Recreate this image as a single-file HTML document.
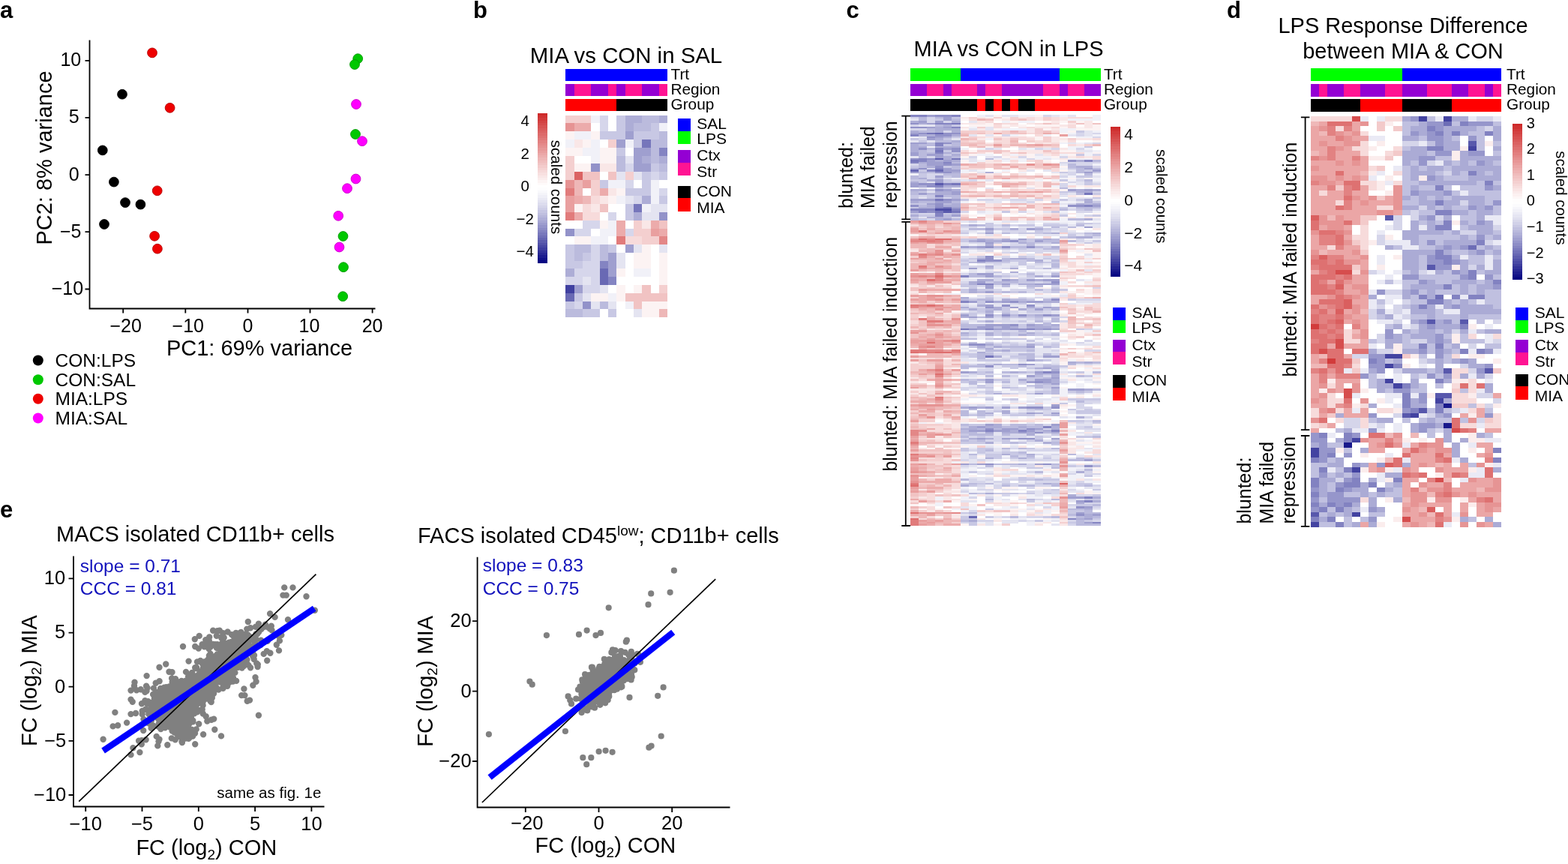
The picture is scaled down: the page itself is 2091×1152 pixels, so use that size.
<!DOCTYPE html>
<html><head><meta charset="utf-8"><title>Figure</title>
<style>
html,body{margin:0;padding:0;background:#fff;}
body{width:2091px;height:1152px;overflow:hidden;}
svg{display:block;font-family:"Liberation Sans",Arial,sans-serif;}
</style></head><body>
<svg width="2091" height="1152" viewBox="0 0 2091 1152">
<rect width="2091" height="1152" fill="#fff"/>
<g stroke="#000" stroke-width="1.8" fill="none">
<path d="M119.5 53.5V411.5H500.5"/>
<path d="M113.5 80.8H119.5M113.5 156.9H119.5M113.5 233.1H119.5M113.5 309.2H119.5M113.5 385.5H119.5M164.2 411.5V417.5M247.3 411.5V417.5M330.5 411.5V417.5M413.5 411.5V417.5M496.6 411.5V417.5"/>
</g>
<text x="108.2" y="88.2" font-size="25" text-anchor="end">10</text>
<text x="105.7" y="164.3" font-size="25" text-anchor="end">5</text>
<text x="105.7" y="240.5" font-size="25" text-anchor="end">0</text>
<text x="108.5" y="316.6" font-size="25" text-anchor="end">−5</text>
<text x="111.2" y="392.9" font-size="25" text-anchor="end">−10</text>
<text x="167.7" y="443" font-size="25" text-anchor="middle">−20</text>
<text x="250.8" y="443" font-size="25" text-anchor="middle">−10</text>
<text x="330.5" y="443" font-size="25" text-anchor="middle">0</text>
<text x="412.5" y="443" font-size="25" text-anchor="middle">10</text>
<text x="496.6" y="443" font-size="25" text-anchor="middle">20</text>
<text x="346" y="473.8" font-size="29" text-anchor="middle">PC1: 69% variance</text>
<text transform="translate(68.8 210.5) rotate(-90)" font-size="29" text-anchor="middle">PC2: 8% variance</text>
<circle cx="477.2" cy="78.2" r="6.4" fill="#00c800" stroke="#009600" stroke-width="0.9"/>
<circle cx="473" cy="86" r="6.4" fill="#00c800" stroke="#009600" stroke-width="0.9"/>
<circle cx="474" cy="179" r="6.4" fill="#00c800" stroke="#009600" stroke-width="0.9"/>
<circle cx="457.5" cy="315" r="6.4" fill="#00c800" stroke="#009600" stroke-width="0.9"/>
<circle cx="458" cy="356.2" r="6.4" fill="#00c800" stroke="#009600" stroke-width="0.9"/>
<circle cx="457.2" cy="395.2" r="6.4" fill="#00c800" stroke="#009600" stroke-width="0.9"/>
<circle cx="475" cy="139" r="6.4" fill="#ff00ff" stroke="#c800c8" stroke-width="0.9"/>
<circle cx="483" cy="188.2" r="6.4" fill="#ff00ff" stroke="#c800c8" stroke-width="0.9"/>
<circle cx="474.5" cy="238.5" r="6.4" fill="#ff00ff" stroke="#c800c8" stroke-width="0.9"/>
<circle cx="463" cy="251.2" r="6.4" fill="#ff00ff" stroke="#c800c8" stroke-width="0.9"/>
<circle cx="451.2" cy="287.8" r="6.4" fill="#ff00ff" stroke="#c800c8" stroke-width="0.9"/>
<circle cx="452.5" cy="329.5" r="6.4" fill="#ff00ff" stroke="#c800c8" stroke-width="0.9"/>
<circle cx="163" cy="125.7" r="6.4" fill="#000000" stroke="#000000" stroke-width="0.9"/>
<circle cx="136.8" cy="200.4" r="6.4" fill="#000000" stroke="#000000" stroke-width="0.9"/>
<circle cx="151.9" cy="242.6" r="6.4" fill="#000000" stroke="#000000" stroke-width="0.9"/>
<circle cx="167" cy="270.1" r="6.4" fill="#000000" stroke="#000000" stroke-width="0.9"/>
<circle cx="187.4" cy="272.6" r="6.4" fill="#000000" stroke="#000000" stroke-width="0.9"/>
<circle cx="139" cy="299" r="6.4" fill="#000000" stroke="#000000" stroke-width="0.9"/>
<circle cx="203" cy="70.4" r="6.4" fill="#ee0000" stroke="#b40000" stroke-width="0.9"/>
<circle cx="226.6" cy="143.8" r="6.4" fill="#ee0000" stroke="#b40000" stroke-width="0.9"/>
<circle cx="209.7" cy="254.3" r="6.4" fill="#ee0000" stroke="#b40000" stroke-width="0.9"/>
<circle cx="206.1" cy="314.8" r="6.4" fill="#ee0000" stroke="#b40000" stroke-width="0.9"/>
<circle cx="209.9" cy="331.7" r="6.4" fill="#ee0000" stroke="#b40000" stroke-width="0.9"/>
<circle cx="50.8" cy="480.5" r="7" fill="#000000"/>
<text x="73.5" y="489" font-size="24.5">CON:LPS</text>
<circle cx="50.8" cy="506.2" r="7" fill="#00c800"/>
<text x="73.5" y="514.7" font-size="24.5">CON:SAL</text>
<circle cx="50.8" cy="531.8" r="7" fill="#ee0000"/>
<text x="73.5" y="540.3" font-size="24.5">MIA:LPS</text>
<circle cx="50.8" cy="557.5" r="7" fill="#ff00ff"/>
<text x="73.5" y="566" font-size="24.5">MIA:SAL</text>
<text x="835" y="84" font-size="29.4" text-anchor="middle">MIA vs CON in SAL</text>
<rect x="754.40" y="91.8" width="136.00" height="16" fill="#0000ff" shape-rendering="crispEdges"/>
<rect x="754.40" y="111.8" width="11.33" height="16" fill="#9400d3" shape-rendering="crispEdges"/>
<rect x="765.73" y="111.8" width="22.67" height="16" fill="#ff1493" shape-rendering="crispEdges"/>
<rect x="788.40" y="111.8" width="22.67" height="16" fill="#9400d3" shape-rendering="crispEdges"/>
<rect x="811.07" y="111.8" width="11.33" height="16" fill="#ff1493" shape-rendering="crispEdges"/>
<rect x="822.40" y="111.8" width="11.33" height="16" fill="#9400d3" shape-rendering="crispEdges"/>
<rect x="833.73" y="111.8" width="22.67" height="16" fill="#ff1493" shape-rendering="crispEdges"/>
<rect x="856.40" y="111.8" width="22.67" height="16" fill="#9400d3" shape-rendering="crispEdges"/>
<rect x="879.07" y="111.8" width="11.33" height="16" fill="#ff1493" shape-rendering="crispEdges"/>
<rect x="754.40" y="131.8" width="68.00" height="16" fill="#ff0000" shape-rendering="crispEdges"/>
<rect x="822.40" y="131.8" width="68.00" height="16" fill="#000000" shape-rendering="crispEdges"/>
<text x="894.5" y="106" font-size="20.8">Trt</text>
<text x="894.5" y="126" font-size="20.8">Region</text>
<text x="894.5" y="145.5" font-size="20.8">Group</text>
<g fill="none" shape-rendering="crispEdges">
<path stroke="#f4cfcf" stroke-width="10" d="M754 159h12M766 159h11M777 159h11M754 213h12M788 256h12M845 310h11M856 310h12"/>
<path stroke="#f1f1f8" stroke-width="10" d="M788 159h12M788 213h12M868 256h11M800 310h11M811 310h11M834 407h11"/>
<path stroke="#d6d6eb" stroke-width="10" d="M800 159h11M879 256h11M766 310h11M777 310h11M834 310h11M777 353h11M788 353h12M766 407h11"/>
<path stroke="#ffffff" stroke-width="10" d="M811 159h11M766 213h11M777 213h11M777 256h11M788 310h12M834 353h11M868 353h11M822 407h12"/>
<path stroke="#c8c8e4" stroke-width="10" d="M822 159h12M834 256h11M845 256h11M856 256h12M754 353h12M766 353h11M754 407h12"/>
<path stroke="#adadd6" stroke-width="10" d="M834 159h11M845 159h11M879 159h11M856 213h12M879 213h11"/>
<path stroke="#bbbbdd" stroke-width="10" d="M856 159h12M868 159h11M822 213h12M868 213h11M800 407h11"/>
<path stroke="#e69393" stroke-width="11" d="M754 169.5h12M754 245.5h12"/>
<path stroke="#ecabab" stroke-width="11" d="M766 169.5h11M777 169.5h11M766 266.5h11M766 288.5h11M822 299.5h12M868 299.5h11"/>
<path stroke="#ffffff" stroke-width="11" d="M788 169.5h12M811 169.5h11M800 191.5h11M834 202.5h11M800 234.5h11M845 245.5h11M879 245.5h11M811 277.5h11M822 277.5h12M800 288.5h11M822 288.5h12M754 299.5h12M766 299.5h11M834 299.5h11M754 320.5h12M811 320.5h11M822 331.5h12M868 331.5h11M834 342.5h11M868 342.5h11M834 363.5h11M868 363.5h11M822 374.5h12M834 374.5h11M845 374.5h11M856 374.5h12M868 374.5h11M811 385.5h11M834 385.5h11M868 385.5h11M800 417.5h11M822 417.5h12M834 417.5h11"/>
<path stroke="#d6d6eb" stroke-width="11" d="M800 169.5h11M834 223.5h11M868 234.5h11M834 245.5h11M845 266.5h11M811 288.5h11M777 299.5h11M788 299.5h12M788 331.5h12M788 342.5h12M766 363.5h11M777 363.5h11M788 363.5h12M754 374.5h12M766 374.5h11M788 374.5h12M777 385.5h11M788 385.5h12"/>
<path stroke="#c8c8e4" stroke-width="11" d="M822 169.5h12M868 169.5h11M800 180.5h11M811 180.5h11M822 180.5h12M845 180.5h11M856 180.5h12M868 180.5h11M845 191.5h11M822 202.5h12M868 223.5h11M856 234.5h12M879 234.5h11M800 245.5h11M856 245.5h12M879 266.5h11M834 277.5h11M834 288.5h11M754 331.5h12M811 331.5h11M754 342.5h12M777 342.5h11M766 396.5h11M777 417.5h11M788 417.5h12M811 417.5h11"/>
<path stroke="#adadd6" stroke-width="11" d="M834 169.5h11M856 266.5h12M845 288.5h11M754 363.5h12"/>
<path stroke="#bbbbdd" stroke-width="11" d="M845 169.5h11M856 169.5h12M879 180.5h11M868 191.5h11M879 191.5h11M868 202.5h11M822 223.5h12M879 223.5h11M766 331.5h11M777 331.5h11M800 331.5h11M766 342.5h11M800 342.5h11M754 417.5h12M766 417.5h11"/>
<path stroke="#f1f1f8" stroke-width="11" d="M879 169.5h11M766 180.5h11M777 180.5h11M754 191.5h12M788 191.5h12M834 191.5h11M777 202.5h11M788 202.5h12M811 245.5h11M822 245.5h12M868 245.5h11M822 266.5h12M868 266.5h11M856 277.5h12M811 299.5h11M788 320.5h12M800 320.5h11M845 363.5h11M856 363.5h12M811 396.5h11"/>
<path stroke="#fcf3f3" stroke-width="11" d="M754 180.5h12M788 180.5h12M777 191.5h11M754 202.5h12M766 202.5h11M800 202.5h11M811 202.5h11M766 223.5h11M777 223.5h11M811 266.5h11M766 277.5h11M800 299.5h11M766 320.5h11M777 320.5h11M856 331.5h12M845 342.5h11M856 342.5h12M879 342.5h11M822 363.5h12M879 363.5h11M879 374.5h11M822 385.5h12M845 385.5h11M788 396.5h12M800 396.5h11M822 396.5h12M856 417.5h12M868 417.5h11"/>
<path stroke="#9f9fcf" stroke-width="11" d="M834 180.5h11M822 191.5h12M845 202.5h11M856 202.5h12M845 223.5h11M856 223.5h12M834 331.5h11M811 342.5h11M811 363.5h11M766 385.5h11"/>
<path stroke="#f9e7e7" stroke-width="11" d="M766 191.5h11M800 223.5h11M811 223.5h11M800 266.5h11M788 277.5h12M856 299.5h12"/>
<path stroke="#f4cfcf" stroke-width="11" d="M811 191.5h11M754 223.5h12M754 234.5h12M834 234.5h11M788 245.5h12M845 299.5h11M856 320.5h12M868 320.5h11M879 385.5h11"/>
<path stroke="#7676bb" stroke-width="11" d="M856 191.5h12M845 277.5h11"/>
<path stroke="#8484c2" stroke-width="11" d="M879 202.5h11M811 374.5h11"/>
<path stroke="#fcf3f3" stroke-width="10" d="M800 213h11M811 213h11M822 256h12M845 353h11M856 353h12M879 353h11M856 407h12M868 407h11M879 407h11"/>
<path stroke="#e4e4f1" stroke-width="10" d="M834 213h11M822 353h12M788 407h12M811 407h11"/>
<path stroke="#9f9fcf" stroke-width="10" d="M845 213h11M811 353h11"/>
<path stroke="#9292c9" stroke-width="11" d="M788 223.5h12M879 288.5h11"/>
<path stroke="#db6363" stroke-width="11" d="M766 234.5h11"/>
<path stroke="#f1c3c3" stroke-width="11" d="M777 234.5h11M788 234.5h12M811 234.5h11M800 277.5h11M879 299.5h11M856 385.5h12M834 396.5h11M845 396.5h11M856 396.5h12M868 396.5h11M879 396.5h11"/>
<path stroke="#e4e4f1" stroke-width="11" d="M822 234.5h12M845 234.5h11M834 266.5h11M868 277.5h11M879 277.5h11M856 288.5h12M868 288.5h11M845 331.5h11M879 331.5h11M822 342.5h12M777 374.5h11M800 385.5h11M777 396.5h11M845 417.5h11"/>
<path stroke="#eeb7b7" stroke-width="11" d="M766 245.5h11M777 266.5h11M879 417.5h11"/>
<path stroke="#e99f9f" stroke-width="11" d="M777 245.5h11M754 266.5h12M754 277.5h12"/>
<path stroke="#e17b7b" stroke-width="10" d="M754 256h12"/>
<path stroke="#eeb7b7" stroke-width="10" d="M766 256h11"/>
<path stroke="#ecabab" stroke-width="10" d="M800 256h11M822 310h12M879 310h11"/>
<path stroke="#f9e7e7" stroke-width="10" d="M811 256h11"/>
<path stroke="#f7dbdb" stroke-width="11" d="M788 266.5h12M777 277.5h11M777 288.5h11M788 288.5h12M834 320.5h11M845 320.5h11"/>
<path stroke="#e17b7b" stroke-width="11" d="M754 288.5h12M822 320.5h12"/>
<path stroke="#9292c9" stroke-width="10" d="M754 310h12M777 407h11"/>
<path stroke="#e99f9f" stroke-width="10" d="M868 310h11"/>
<path stroke="#e38787" stroke-width="11" d="M879 320.5h11"/>
<path stroke="#8484c2" stroke-width="10" d="M800 353h11"/>
<path stroke="#6969b4" stroke-width="11" d="M800 363.5h11M800 374.5h11M754 396.5h12"/>
<path stroke="#4040a0" stroke-width="11" d="M754 385.5h12"/>
<path stroke="#f1c3c3" stroke-width="10" d="M845 407h11"/>
</g>
<g shape-rendering="crispEdges">
<rect x="717.1" y="150.60" width="12.8" height="3.63" fill="#ce2a2a"/>
<rect x="717.1" y="153.93" width="12.8" height="3.63" fill="#d03232"/>
<rect x="717.1" y="157.25" width="12.8" height="3.63" fill="#d23a3a"/>
<rect x="717.1" y="160.58" width="12.8" height="3.63" fill="#d34242"/>
<rect x="717.1" y="163.91" width="12.8" height="3.63" fill="#d54a4a"/>
<rect x="717.1" y="167.23" width="12.8" height="3.63" fill="#d75252"/>
<rect x="717.1" y="170.56" width="12.8" height="3.63" fill="#d95a5a"/>
<rect x="717.1" y="173.89" width="12.8" height="3.63" fill="#db6262"/>
<rect x="717.1" y="177.21" width="12.8" height="3.63" fill="#dd6a6a"/>
<rect x="717.1" y="180.54" width="12.8" height="3.63" fill="#de7171"/>
<rect x="717.1" y="183.87" width="12.8" height="3.63" fill="#e07979"/>
<rect x="717.1" y="187.19" width="12.8" height="3.63" fill="#e28181"/>
<rect x="717.1" y="190.52" width="12.8" height="3.63" fill="#e48989"/>
<rect x="717.1" y="193.85" width="12.8" height="3.63" fill="#e59090"/>
<rect x="717.1" y="197.17" width="12.8" height="3.63" fill="#e79898"/>
<rect x="717.1" y="200.50" width="12.8" height="3.63" fill="#e99f9f"/>
<rect x="717.1" y="203.83" width="12.8" height="3.63" fill="#eba7a7"/>
<rect x="717.1" y="207.15" width="12.8" height="3.63" fill="#ecaeae"/>
<rect x="717.1" y="210.48" width="12.8" height="3.63" fill="#eeb6b6"/>
<rect x="717.1" y="213.81" width="12.8" height="3.63" fill="#f0bdbd"/>
<rect x="717.1" y="217.13" width="12.8" height="3.63" fill="#f1c4c4"/>
<rect x="717.1" y="220.46" width="12.8" height="3.63" fill="#f3cbcb"/>
<rect x="717.1" y="223.79" width="12.8" height="3.63" fill="#f5d2d2"/>
<rect x="717.1" y="227.11" width="12.8" height="3.63" fill="#f6d9d9"/>
<rect x="717.1" y="230.44" width="12.8" height="3.63" fill="#f8e0e0"/>
<rect x="717.1" y="233.77" width="12.8" height="3.63" fill="#f9e7e7"/>
<rect x="717.1" y="237.09" width="12.8" height="3.63" fill="#fbeded"/>
<rect x="717.1" y="240.42" width="12.8" height="3.63" fill="#fcf4f4"/>
<rect x="717.1" y="243.75" width="12.8" height="3.63" fill="#fefafa"/>
<rect x="717.1" y="247.07" width="12.8" height="3.63" fill="#ffffff"/>
<rect x="717.1" y="250.40" width="12.8" height="3.63" fill="#fdfdfe"/>
<rect x="717.1" y="253.73" width="12.8" height="3.63" fill="#f9f9fc"/>
<rect x="717.1" y="257.05" width="12.8" height="3.63" fill="#f4f4f9"/>
<rect x="717.1" y="260.38" width="12.8" height="3.63" fill="#efeff7"/>
<rect x="717.1" y="263.71" width="12.8" height="3.63" fill="#e9e9f4"/>
<rect x="717.1" y="267.03" width="12.8" height="3.63" fill="#e3e3f1"/>
<rect x="717.1" y="270.36" width="12.8" height="3.63" fill="#dcdcee"/>
<rect x="717.1" y="273.69" width="12.8" height="3.63" fill="#d5d5ea"/>
<rect x="717.1" y="277.01" width="12.8" height="3.63" fill="#cecee7"/>
<rect x="717.1" y="280.34" width="12.8" height="3.63" fill="#c6c6e3"/>
<rect x="717.1" y="283.67" width="12.8" height="3.63" fill="#bfbfdf"/>
<rect x="717.1" y="286.99" width="12.8" height="3.63" fill="#b7b7db"/>
<rect x="717.1" y="290.32" width="12.8" height="3.63" fill="#aeaed7"/>
<rect x="717.1" y="293.65" width="12.8" height="3.63" fill="#a6a6d3"/>
<rect x="717.1" y="296.97" width="12.8" height="3.63" fill="#9d9dce"/>
<rect x="717.1" y="300.30" width="12.8" height="3.63" fill="#9494ca"/>
<rect x="717.1" y="303.63" width="12.8" height="3.63" fill="#8b8bc5"/>
<rect x="717.1" y="306.95" width="12.8" height="3.63" fill="#8282c1"/>
<rect x="717.1" y="310.28" width="12.8" height="3.63" fill="#7878bc"/>
<rect x="717.1" y="313.61" width="12.8" height="3.63" fill="#6f6fb7"/>
<rect x="717.1" y="316.93" width="12.8" height="3.63" fill="#6565b2"/>
<rect x="717.1" y="320.26" width="12.8" height="3.63" fill="#5b5bad"/>
<rect x="717.1" y="323.59" width="12.8" height="3.63" fill="#5151a8"/>
<rect x="717.1" y="326.91" width="12.8" height="3.63" fill="#4747a3"/>
<rect x="717.1" y="330.24" width="12.8" height="3.63" fill="#3c3c9e"/>
<rect x="717.1" y="333.57" width="12.8" height="3.63" fill="#313199"/>
<rect x="717.1" y="336.89" width="12.8" height="3.63" fill="#272793"/>
<rect x="717.1" y="340.22" width="12.8" height="3.63" fill="#1c1c8e"/>
<rect x="717.1" y="343.55" width="12.8" height="3.63" fill="#111188"/>
<rect x="717.1" y="346.87" width="12.8" height="3.63" fill="#060683"/>
</g>
<text x="700.3" y="168" font-size="20.5" text-anchor="middle">4</text>
<text x="700.3" y="211.9" font-size="20.5" text-anchor="middle">2</text>
<text x="700.3" y="255.3" font-size="20.5" text-anchor="middle">0</text>
<text x="700.3" y="299" font-size="20.5" text-anchor="middle">−2</text>
<text x="700.3" y="342.4" font-size="20.5" text-anchor="middle">−4</text>
<text transform="translate(735 249.5) rotate(90)" font-size="20.5" text-anchor="middle">scaled counts</text>
<rect x="903.6" y="158" width="17" height="17" fill="#0000ff" shape-rendering="crispEdges"/>
<rect x="903.6" y="175" width="17" height="17" fill="#00ff00" shape-rendering="crispEdges"/>
<rect x="903.6" y="200.4" width="17" height="16.6" fill="#9400d3" shape-rendering="crispEdges"/>
<rect x="903.6" y="217" width="17" height="17.4" fill="#ff1493" shape-rendering="crispEdges"/>
<rect x="903.6" y="247.8" width="17" height="16.6" fill="#000000" shape-rendering="crispEdges"/>
<rect x="903.6" y="264.4" width="17" height="17.1" fill="#ff0000" shape-rendering="crispEdges"/>
<text x="929.3" y="171.9" font-size="21">SAL</text>
<text x="929.3" y="191.6" font-size="21">LPS</text>
<text x="929.3" y="214.3" font-size="21">Ctx</text>
<text x="929.3" y="236.2" font-size="21">Str</text>
<text x="929.3" y="261.7" font-size="21">CON</text>
<text x="929.3" y="283.5" font-size="21">MIA</text>
<text x="1345" y="75" font-size="29" text-anchor="middle">MIA vs CON in LPS</text>
<rect x="1214.40" y="91.3" width="66.10" height="16.5" fill="#00ff00" shape-rendering="crispEdges"/>
<rect x="1280.50" y="91.3" width="132.21" height="16.5" fill="#0000ff" shape-rendering="crispEdges"/>
<rect x="1412.71" y="91.3" width="55.09" height="16.5" fill="#00ff00" shape-rendering="crispEdges"/>
<rect x="1214.40" y="111.6" width="22.03" height="16.5" fill="#9400d3" shape-rendering="crispEdges"/>
<rect x="1236.43" y="111.6" width="22.03" height="16.5" fill="#ff1493" shape-rendering="crispEdges"/>
<rect x="1258.47" y="111.6" width="11.02" height="16.5" fill="#9400d3" shape-rendering="crispEdges"/>
<rect x="1269.49" y="111.6" width="33.05" height="16.5" fill="#ff1493" shape-rendering="crispEdges"/>
<rect x="1302.54" y="111.6" width="11.02" height="16.5" fill="#9400d3" shape-rendering="crispEdges"/>
<rect x="1313.56" y="111.6" width="22.03" height="16.5" fill="#ff1493" shape-rendering="crispEdges"/>
<rect x="1335.59" y="111.6" width="55.09" height="16.5" fill="#9400d3" shape-rendering="crispEdges"/>
<rect x="1390.68" y="111.6" width="22.03" height="16.5" fill="#ff1493" shape-rendering="crispEdges"/>
<rect x="1412.71" y="111.6" width="11.02" height="16.5" fill="#9400d3" shape-rendering="crispEdges"/>
<rect x="1423.73" y="111.6" width="22.03" height="16.5" fill="#ff1493" shape-rendering="crispEdges"/>
<rect x="1445.77" y="111.6" width="22.03" height="16.5" fill="#9400d3" shape-rendering="crispEdges"/>
<rect x="1214.40" y="131.9" width="88.14" height="16.5" fill="#000000" shape-rendering="crispEdges"/>
<rect x="1302.54" y="131.9" width="11.02" height="16.5" fill="#ff0000" shape-rendering="crispEdges"/>
<rect x="1313.56" y="131.9" width="11.02" height="16.5" fill="#000000" shape-rendering="crispEdges"/>
<rect x="1324.57" y="131.9" width="11.02" height="16.5" fill="#ff0000" shape-rendering="crispEdges"/>
<rect x="1335.59" y="131.9" width="11.02" height="16.5" fill="#000000" shape-rendering="crispEdges"/>
<rect x="1346.61" y="131.9" width="11.02" height="16.5" fill="#ff0000" shape-rendering="crispEdges"/>
<rect x="1357.63" y="131.9" width="22.03" height="16.5" fill="#000000" shape-rendering="crispEdges"/>
<rect x="1379.66" y="131.9" width="88.14" height="16.5" fill="#ff0000" shape-rendering="crispEdges"/>
<text x="1471.9" y="106" font-size="20.8">Trt</text>
<text x="1471.9" y="126" font-size="20.8">Region</text>
<text x="1471.9" y="145.5" font-size="20.8">Group</text>
<g fill="none" shape-rendering="crispEdges">
<path stroke="#8484c2" stroke-width="3" d="M1214 154.5h11M1225 154.5h11M1269 154.5h12M1214 180.5h11M1247 193.5h11M1247 198.5h11M1225 214.5h11M1446 214.5h11M1236 227.5h11M1258 245.5h11M1247 248.5h11M1247 261.5h11M1446 274.5h11M1214 279.5h11M1225 279.5h11M1236 279.5h11M1269 279.5h12M1225 282.5h11M1247 287.5h11M1303 347.5h11M1281 368.5h11M1281 402.5h11M1391 496.5h11M1391 569.5h11M1314 574.5h11M1358 574.5h11M1402 574.5h11M1446 663.5h11M1446 668.5h11"/>
<path stroke="#9f9fcf" stroke-width="3" d="M1236 154.5h11M1258 159.5h11M1225 162.5h11M1247 162.5h11M1236 185.5h11M1258 198.5h11M1214 206.5h11M1236 206.5h11M1247 206.5h11M1247 209.5h11M1236 214.5h11M1258 214.5h11M1236 219.5h11M1247 219.5h11M1269 219.5h12M1258 227.5h11M1269 227.5h12M1457 227.5h11M1247 235.5h11M1247 240.5h11M1214 245.5h11M1214 248.5h11M1258 253.5h11M1424 253.5h11M1446 253.5h11M1225 258.5h11M1269 258.5h12M1214 266.5h11M1225 266.5h11M1236 266.5h11M1269 266.5h12M1247 269.5h11M1258 269.5h11M1457 274.5h11M1214 282.5h11M1269 287.5h12M1258 292.5h11M1314 305.5h11M1369 305.5h11M1303 321.5h11M1336 321.5h11M1380 321.5h11M1281 329.5h11M1303 329.5h11M1303 365.5h11M1314 365.5h11M1314 368.5h11M1402 368.5h11M1336 373.5h11M1369 373.5h11M1391 373.5h11M1402 373.5h11M1303 376.5h11M1314 381.5h11M1314 389.5h11M1292 402.5h11M1336 402.5h11M1369 402.5h11M1380 402.5h11M1314 407.5h11M1380 412.5h11M1281 420.5h11M1402 420.5h11M1314 433.5h11M1325 433.5h11M1336 433.5h11M1369 433.5h11M1303 436.5h11M1314 436.5h11M1336 436.5h11M1369 462.5h11M1391 475.5h11M1402 475.5h11M1369 480.5h11M1281 496.5h11M1380 496.5h11M1369 501.5h11M1314 506.5h11M1380 506.5h11M1391 506.5h11M1314 509.5h11M1369 509.5h11M1391 509.5h11M1424 519.5h11M1435 519.5h11M1402 540.5h11M1292 543.5h11M1314 543.5h11M1336 543.5h11M1358 543.5h11M1314 566.5h11M1402 566.5h11M1303 569.5h11M1292 574.5h11M1303 574.5h11M1325 574.5h11M1336 574.5h11M1369 574.5h11M1446 613.5h11M1424 663.5h11M1435 663.5h11M1435 668.5h11M1446 676.5h11M1457 686.5h11"/>
<path stroke="#9191c8" stroke-width="3" d="M1247 154.5h11M1258 154.5h11M1247 180.5h11M1258 180.5h11M1225 198.5h11M1269 198.5h12M1269 201.5h12M1424 214.5h11M1258 219.5h11M1247 222.5h11M1225 245.5h11M1236 245.5h11M1236 248.5h11M1247 253.5h11M1258 266.5h11M1214 274.5h11M1247 274.5h11M1424 274.5h11M1435 274.5h11M1236 282.5h11M1347 321.5h11M1314 329.5h11M1336 329.5h11M1369 329.5h11M1314 342.5h11M1314 347.5h11M1325 347.5h11M1402 376.5h11M1402 399.5h11M1314 402.5h11M1347 402.5h11M1336 407.5h11M1369 407.5h11M1314 420.5h11M1336 420.5h11M1358 420.5h11M1391 420.5h11M1347 433.5h11M1292 459.5h11M1303 459.5h11M1314 488.5h11M1402 496.5h11M1380 509.5h11M1369 543.5h11M1380 543.5h11M1402 543.5h11M1446 621.5h11M1435 676.5h11M1435 686.5h11"/>
<path stroke="#ffffff" stroke-width="3" d="M1281 154.5h11M1292 154.5h11M1435 154.5h11M1446 154.5h11M1281 162.5h11M1325 162.5h11M1380 162.5h11M1457 162.5h11M1281 167.5h11M1369 167.5h11M1435 167.5h11M1369 180.5h11M1402 180.5h11M1314 188.5h11M1358 188.5h11M1435 188.5h11M1446 188.5h11M1413 193.5h11M1292 198.5h11M1336 198.5h11M1347 198.5h11M1457 198.5h11M1325 206.5h11M1303 209.5h11M1402 214.5h11M1314 227.5h11M1325 227.5h11M1347 227.5h11M1380 227.5h11M1336 232.5h11M1369 232.5h11M1391 232.5h11M1325 240.5h11M1391 240.5h11M1314 248.5h11M1325 248.5h11M1303 253.5h11M1446 261.5h11M1292 269.5h11M1336 269.5h11M1391 269.5h11M1292 282.5h11M1424 282.5h11M1303 287.5h11M1336 287.5h11M1347 287.5h11M1369 287.5h11M1424 287.5h11M1446 295.5h11M1446 305.5h11M1435 308.5h11M1457 308.5h11M1292 313.5h11M1336 313.5h11M1347 313.5h11M1347 316.5h11M1358 316.5h11M1380 316.5h11M1402 316.5h11M1435 329.5h11M1325 334.5h11M1281 339.5h11M1314 339.5h11M1347 339.5h11M1424 339.5h11M1435 339.5h11M1424 342.5h11M1457 347.5h11M1292 352.5h11M1281 360.5h11M1336 360.5h11M1369 360.5h11M1402 360.5h11M1435 368.5h11M1446 368.5h11M1424 373.5h11M1435 376.5h11M1391 381.5h11M1424 386.5h11M1269 389.5h12M1281 394.5h11M1292 394.5h11M1347 394.5h11M1358 394.5h11M1369 394.5h11M1446 394.5h11M1380 399.5h11M1413 402.5h11M1424 402.5h11M1413 415.5h11M1446 420.5h11M1457 420.5h11M1281 425.5h11M1446 428.5h11M1457 436.5h11M1402 441.5h11M1413 446.5h11M1325 449.5h11M1369 449.5h11M1446 449.5h11M1281 454.5h11M1292 454.5h11M1303 454.5h11M1325 454.5h11M1424 454.5h11M1435 454.5h11M1457 454.5h11M1413 462.5h11M1424 462.5h11M1435 462.5h11M1424 467.5h11M1435 467.5h11M1336 483.5h11M1369 483.5h11M1391 483.5h11M1292 493.5h11M1325 493.5h11M1347 493.5h11M1424 493.5h11M1435 493.5h11M1325 496.5h11M1325 501.5h11M1358 501.5h11M1435 509.5h11M1358 514.5h11M1413 514.5h11M1424 514.5h11M1446 514.5h11M1457 514.5h11M1258 519.5h11M1325 519.5h11M1281 522.5h11M1325 527.5h11M1391 527.5h11M1424 527.5h11M1446 527.5h11M1292 532.5h11M1303 532.5h11M1325 532.5h11M1358 532.5h11M1281 535.5h11M1292 535.5h11M1303 535.5h11M1336 535.5h11M1391 540.5h11M1446 540.5h11M1457 540.5h11M1424 543.5h11M1457 543.5h11M1292 548.5h11M1424 553.5h11M1292 556.5h11M1336 556.5h11M1358 556.5h11M1391 556.5h11M1402 556.5h11M1457 556.5h11M1247 561.5h11M1424 569.5h11M1435 574.5h11M1424 582.5h11M1258 587.5h11M1225 595.5h11M1369 595.5h11M1402 595.5h11M1446 595.5h11M1435 603.5h11M1424 608.5h11M1336 613.5h11M1325 616.5h11M1424 616.5h11M1435 616.5h11M1446 616.5h11M1303 626.5h11M1358 626.5h11M1303 634.5h11M1325 639.5h11M1347 642.5h11M1292 650.5h11M1358 650.5h11M1402 650.5h11M1435 650.5h11M1325 655.5h11M1347 655.5h11M1358 655.5h11M1269 663.5h12M1303 663.5h11M1336 663.5h11M1347 663.5h11M1391 663.5h11M1303 668.5h11M1358 668.5h11M1225 673.5h11M1258 673.5h11M1269 673.5h12M1314 673.5h11M1358 673.5h11M1247 676.5h11M1303 676.5h11M1325 676.5h11M1358 676.5h11M1380 676.5h11M1269 681.5h12M1457 681.5h11M1314 686.5h11M1336 686.5h11M1358 686.5h11M1303 689.5h11M1347 699.5h11M1358 699.5h11M1391 699.5h11"/>
<path stroke="#f1f1f8" stroke-width="3" d="M1303 154.5h11M1358 154.5h11M1369 154.5h11M1413 154.5h11M1457 154.5h11M1424 159.5h11M1435 159.5h11M1446 159.5h11M1457 159.5h11M1336 162.5h11M1358 162.5h11M1369 162.5h11M1336 172.5h11M1347 172.5h11M1358 172.5h11M1413 172.5h11M1424 172.5h11M1413 175.5h11M1457 175.5h11M1347 180.5h11M1391 180.5h11M1457 180.5h11M1314 185.5h11M1281 198.5h11M1303 198.5h11M1369 198.5h11M1424 198.5h11M1446 198.5h11M1457 201.5h11M1303 206.5h11M1314 206.5h11M1347 206.5h11M1413 206.5h11M1446 206.5h11M1380 209.5h11M1391 209.5h11M1303 214.5h11M1336 214.5h11M1358 214.5h11M1457 219.5h11M1281 227.5h11M1303 227.5h11M1336 227.5h11M1214 232.5h11M1435 232.5h11M1457 232.5h11M1424 235.5h11M1303 240.5h11M1336 240.5h11M1380 240.5h11M1402 240.5h11M1424 240.5h11M1457 240.5h11M1424 245.5h11M1402 248.5h11M1292 266.5h11M1281 269.5h11M1413 269.5h11M1424 269.5h11M1413 274.5h11M1314 282.5h11M1325 282.5h11M1369 282.5h11M1413 282.5h11M1457 282.5h11M1435 287.5h11M1413 292.5h11M1303 295.5h11M1314 295.5h11M1325 295.5h11M1358 295.5h11M1380 295.5h11M1391 295.5h11M1402 295.5h11M1413 295.5h11M1424 295.5h11M1457 295.5h11M1380 300.5h11M1303 308.5h11M1325 308.5h11M1369 308.5h11M1446 308.5h11M1281 313.5h11M1358 313.5h11M1413 313.5h11M1292 326.5h11M1402 326.5h11M1292 334.5h11M1347 334.5h11M1435 334.5h11M1347 342.5h11M1446 342.5h11M1424 347.5h11M1446 347.5h11M1303 352.5h11M1446 352.5h11M1358 355.5h11M1391 355.5h11M1303 360.5h11M1358 360.5h11M1380 360.5h11M1391 360.5h11M1413 360.5h11M1391 365.5h11M1446 373.5h11M1413 376.5h11M1347 381.5h11M1336 386.5h11M1325 394.5h11M1380 394.5h11M1391 394.5h11M1402 407.5h11M1281 415.5h11M1303 420.5h11M1303 425.5h11M1391 425.5h11M1303 441.5h11M1446 441.5h11M1303 449.5h11M1347 449.5h11M1380 449.5h11M1314 454.5h11M1347 454.5h11M1358 454.5h11M1380 454.5h11M1391 454.5h11M1402 454.5h11M1281 462.5h11M1380 462.5h11M1281 467.5h11M1347 480.5h11M1424 480.5h11M1292 483.5h11M1303 483.5h11M1380 483.5h11M1281 493.5h11M1336 493.5h11M1358 493.5h11M1413 493.5h11M1457 493.5h11M1446 496.5h11M1303 501.5h11M1413 501.5h11M1457 501.5h11M1435 506.5h11M1424 509.5h11M1446 509.5h11M1281 514.5h11M1435 514.5h11M1303 519.5h11M1336 519.5h11M1369 519.5h11M1413 519.5h11M1292 522.5h11M1336 522.5h11M1347 522.5h11M1413 522.5h11M1457 522.5h11M1314 527.5h11M1369 527.5h11M1380 527.5h11M1413 527.5h11M1281 532.5h11M1369 532.5h11M1402 532.5h11M1314 535.5h11M1325 535.5h11M1358 535.5h11M1391 535.5h11M1402 535.5h11M1413 535.5h11M1347 540.5h11M1358 540.5h11M1347 548.5h11M1325 553.5h11M1435 553.5h11M1446 553.5h11M1281 556.5h11M1314 556.5h11M1347 556.5h11M1369 556.5h11M1424 556.5h11M1402 561.5h11M1424 566.5h11M1457 569.5h11M1424 579.5h11M1435 579.5h11M1402 582.5h11M1347 587.5h11M1446 587.5h11M1292 595.5h11M1325 595.5h11M1347 600.5h11M1435 600.5h11M1446 600.5h11M1292 603.5h11M1369 603.5h11M1380 603.5h11M1391 603.5h11M1402 603.5h11M1336 608.5h11M1380 608.5h11M1325 613.5h11M1269 616.5h12M1314 616.5h11M1358 616.5h11M1369 616.5h11M1391 616.5h11M1402 616.5h11M1303 621.5h11M1325 621.5h11M1281 626.5h11M1292 626.5h11M1314 626.5h11M1369 626.5h11M1380 626.5h11M1424 626.5h11M1457 626.5h11M1336 629.5h11M1358 629.5h11M1391 629.5h11M1281 634.5h11M1424 634.5h11M1435 634.5h11M1457 634.5h11M1424 639.5h11M1281 642.5h11M1369 642.5h11M1446 642.5h11M1457 642.5h11M1314 647.5h11M1281 650.5h11M1424 650.5h11M1292 655.5h11M1303 655.5h11M1457 655.5h11M1292 660.5h11M1347 660.5h11M1369 660.5h11M1391 660.5h11M1247 663.5h11M1281 663.5h11M1325 663.5h11M1369 663.5h11M1380 663.5h11M1336 668.5h11M1380 668.5h11M1402 668.5h11M1247 673.5h11M1391 673.5h11M1292 676.5h11M1314 676.5h11M1336 676.5h11M1369 676.5h11M1402 676.5h11M1281 681.5h11M1358 681.5h11M1391 681.5h11M1391 694.5h11M1369 699.5h11"/>
<path stroke="#e4e4f1" stroke-width="3" d="M1314 154.5h11M1336 154.5h11M1347 154.5h11M1402 154.5h11M1424 154.5h11M1214 159.5h11M1292 162.5h11M1225 167.5h11M1236 167.5h11M1292 172.5h11M1314 172.5h11M1446 175.5h11M1292 180.5h11M1314 180.5h11M1424 180.5h11M1446 180.5h11M1269 185.5h12M1214 188.5h11M1236 188.5h11M1325 198.5h11M1358 198.5h11M1391 198.5h11M1435 201.5h11M1446 201.5h11M1380 206.5h11M1214 209.5h11M1314 209.5h11M1292 214.5h11M1413 219.5h11M1292 227.5h11M1369 227.5h11M1391 227.5h11M1424 227.5h11M1413 232.5h11M1457 235.5h11M1281 240.5h11M1314 240.5h11M1435 245.5h11M1424 258.5h11M1413 261.5h11M1325 266.5h11M1336 266.5h11M1369 266.5h11M1402 266.5h11M1424 266.5h11M1457 266.5h11M1314 269.5h11M1325 269.5h11M1347 269.5h11M1358 269.5h11M1435 269.5h11M1303 282.5h11M1391 282.5h11M1457 292.5h11M1281 295.5h11M1336 295.5h11M1347 295.5h11M1369 295.5h11M1435 295.5h11M1424 300.5h11M1446 300.5h11M1457 300.5h11M1281 305.5h11M1292 308.5h11M1402 308.5h11M1424 308.5h11M1314 313.5h11M1380 313.5h11M1391 313.5h11M1402 313.5h11M1435 313.5h11M1446 321.5h11M1281 326.5h11M1303 326.5h11M1336 326.5h11M1380 326.5h11M1391 326.5h11M1281 334.5h11M1303 334.5h11M1336 334.5h11M1369 339.5h11M1446 339.5h11M1281 342.5h11M1292 342.5h11M1325 342.5h11M1380 342.5h11M1391 347.5h11M1314 352.5h11M1336 352.5h11M1347 352.5h11M1369 352.5h11M1391 352.5h11M1325 355.5h11M1336 355.5h11M1380 355.5h11M1292 360.5h11M1314 360.5h11M1446 360.5h11M1325 365.5h11M1347 365.5h11M1380 365.5h11M1358 368.5h11M1281 373.5h11M1292 373.5h11M1435 373.5h11M1325 381.5h11M1358 381.5h11M1380 389.5h11M1303 394.5h11M1413 394.5h11M1325 399.5h11M1435 402.5h11M1446 402.5h11M1457 402.5h11M1292 407.5h11M1325 407.5h11M1347 407.5h11M1358 407.5h11M1380 407.5h11M1325 415.5h11M1358 415.5h11M1402 415.5h11M1314 425.5h11M1325 425.5h11M1347 425.5h11M1358 425.5h11M1292 428.5h11M1369 428.5h11M1281 441.5h11M1369 441.5h11M1391 441.5h11M1303 446.5h11M1292 449.5h11M1314 449.5h11M1336 449.5h11M1391 449.5h11M1402 449.5h11M1336 454.5h11M1413 454.5h11M1435 459.5h11M1446 459.5h11M1457 459.5h11M1303 467.5h11M1380 467.5h11M1391 467.5h11M1380 472.5h11M1336 475.5h11M1281 480.5h11M1292 480.5h11M1402 480.5h11M1314 483.5h11M1325 483.5h11M1358 483.5h11M1402 483.5h11M1325 488.5h11M1369 493.5h11M1391 493.5h11M1413 496.5h11M1292 501.5h11M1424 501.5h11M1347 506.5h11M1413 506.5h11M1446 506.5h11M1325 509.5h11M1347 509.5h11M1457 509.5h11M1292 514.5h11M1347 514.5h11M1292 519.5h11M1380 519.5h11M1358 522.5h11M1369 522.5h11M1380 532.5h11M1391 532.5h11M1347 535.5h11M1369 535.5h11M1380 535.5h11M1424 535.5h11M1292 540.5h11M1314 540.5h11M1325 540.5h11M1358 548.5h11M1380 548.5h11M1424 548.5h11M1380 553.5h11M1457 553.5h11M1413 556.5h11M1435 566.5h11M1446 566.5h11M1446 574.5h11M1457 574.5h11M1325 579.5h11M1380 579.5h11M1391 579.5h11M1446 579.5h11M1369 582.5h11M1358 587.5h11M1391 587.5h11M1435 587.5h11M1325 590.5h11M1369 590.5h11M1380 590.5h11M1314 595.5h11M1347 595.5h11M1325 600.5h11M1358 600.5h11M1281 603.5h11M1281 608.5h11M1402 608.5h11M1435 608.5h11M1292 613.5h11M1314 613.5h11M1347 613.5h11M1292 616.5h11M1292 621.5h11M1336 621.5h11M1391 621.5h11M1435 626.5h11M1281 629.5h11M1303 629.5h11M1314 629.5h11M1347 629.5h11M1402 629.5h11M1424 629.5h11M1303 639.5h11M1446 639.5h11M1314 642.5h11M1424 642.5h11M1303 650.5h11M1446 650.5h11M1457 650.5h11M1314 655.5h11M1380 655.5h11M1424 655.5h11M1435 655.5h11M1314 660.5h11M1380 660.5h11M1402 660.5h11M1281 668.5h11M1292 668.5h11M1391 668.5h11M1424 668.5h11M1380 673.5h11M1281 676.5h11M1347 676.5h11M1424 676.5h11M1281 686.5h11M1325 689.5h11M1358 689.5h11M1336 694.5h11M1347 694.5h11M1369 694.5h11M1402 694.5h11M1314 699.5h11M1402 699.5h11"/>
<path stroke="#fcf3f3" stroke-width="3" d="M1325 154.5h11M1380 154.5h11M1281 159.5h11M1325 159.5h11M1347 162.5h11M1391 162.5h11M1413 162.5h11M1435 162.5h11M1292 167.5h11M1303 167.5h11M1314 167.5h11M1336 167.5h11M1358 167.5h11M1380 167.5h11M1391 167.5h11M1402 167.5h11M1457 167.5h11M1281 172.5h11M1325 172.5h11M1391 172.5h11M1435 172.5h11M1446 172.5h11M1457 172.5h11M1424 175.5h11M1303 180.5h11M1325 180.5h11M1358 180.5h11M1380 185.5h11M1413 188.5h11M1457 188.5h11M1292 201.5h11M1347 201.5h11M1413 201.5h11M1424 201.5h11M1292 206.5h11M1369 206.5h11M1424 206.5h11M1281 209.5h11M1336 209.5h11M1369 209.5h11M1402 209.5h11M1281 214.5h11M1391 214.5h11M1413 214.5h11M1413 222.5h11M1413 227.5h11M1402 232.5h11M1347 240.5h11M1358 240.5h11M1369 240.5h11M1369 248.5h11M1435 248.5h11M1325 253.5h11M1413 253.5h11M1336 258.5h11M1391 258.5h11M1435 261.5h11M1303 269.5h11M1380 269.5h11M1336 274.5h11M1347 279.5h11M1369 279.5h11M1380 282.5h11M1292 287.5h11M1358 287.5h11M1314 292.5h11M1424 305.5h11M1435 305.5h11M1214 313.5h11M1303 313.5h11M1369 313.5h11M1446 326.5h11M1446 329.5h11M1424 334.5h11M1446 334.5h11M1402 339.5h11M1457 339.5h11M1457 342.5h11M1435 347.5h11M1435 352.5h11M1457 352.5h11M1413 355.5h11M1325 360.5h11M1347 360.5h11M1457 365.5h11M1457 368.5h11M1269 381.5h12M1446 386.5h11M1424 389.5h11M1446 389.5h11M1402 394.5h11M1435 394.5h11M1457 394.5h11M1347 412.5h11M1269 415.5h12M1424 420.5h11M1413 425.5h11M1435 433.5h11M1435 441.5h11M1435 446.5h11M1358 449.5h11M1413 449.5h11M1457 449.5h11M1424 459.5h11M1446 462.5h11M1413 467.5h11M1225 472.5h11M1446 480.5h11M1347 483.5h11M1413 483.5h11M1435 488.5h11M1457 488.5h11M1446 493.5h11M1457 506.5h11M1225 509.5h11M1236 509.5h11M1269 509.5h12M1325 514.5h11M1269 519.5h12M1269 527.5h12M1303 527.5h11M1358 527.5h11M1402 527.5h11M1435 527.5h11M1424 540.5h11M1413 543.5h11M1413 548.5h11M1413 553.5h11M1325 556.5h11M1380 556.5h11M1391 561.5h11M1457 566.5h11M1424 587.5h11M1457 587.5h11M1435 590.5h11M1446 590.5h11M1247 595.5h11M1281 595.5h11M1336 595.5h11M1380 595.5h11M1391 595.5h11M1424 595.5h11M1303 608.5h11M1336 616.5h11M1347 616.5h11M1380 616.5h11M1402 626.5h11M1325 629.5h11M1413 629.5h11M1457 629.5h11M1292 634.5h11M1314 634.5h11M1347 634.5h11M1358 634.5h11M1380 634.5h11M1402 634.5h11M1413 639.5h11M1314 650.5h11M1336 650.5h11M1347 650.5h11M1380 650.5h11M1391 650.5h11M1336 655.5h11M1446 655.5h11M1325 660.5h11M1358 660.5h11M1269 668.5h12M1325 668.5h11M1347 668.5h11M1214 673.5h11M1236 673.5h11M1292 673.5h11M1347 673.5h11M1369 681.5h11M1402 681.5h11M1325 686.5h11M1391 686.5h11M1247 689.5h11M1281 699.5h11M1325 699.5h11"/>
<path stroke="#d6d6eb" stroke-width="3" d="M1391 154.5h11M1236 159.5h11M1236 162.5h11M1258 162.5h11M1214 167.5h11M1214 172.5h11M1225 172.5h11M1258 175.5h11M1336 180.5h11M1435 180.5h11M1225 185.5h11M1314 198.5h11M1380 198.5h11M1402 198.5h11M1435 198.5h11M1457 206.5h11M1236 209.5h11M1292 209.5h11M1325 209.5h11M1358 209.5h11M1413 209.5h11M1214 219.5h11M1435 219.5h11M1446 219.5h11M1457 222.5h11M1236 232.5h11M1247 232.5h11M1424 232.5h11M1236 235.5h11M1413 235.5h11M1269 240.5h12M1292 240.5h11M1435 240.5h11M1413 245.5h11M1457 245.5h11M1413 248.5h11M1413 258.5h11M1225 261.5h11M1303 266.5h11M1314 266.5h11M1347 266.5h11M1358 266.5h11M1380 266.5h11M1369 269.5h11M1424 279.5h11M1457 279.5h11M1281 282.5h11M1358 282.5h11M1435 282.5h11M1446 282.5h11M1446 287.5h11M1236 292.5h11M1292 295.5h11M1325 300.5h11M1347 300.5h11M1358 305.5h11M1402 305.5h11M1413 305.5h11M1281 308.5h11M1336 308.5h11M1347 308.5h11M1358 308.5h11M1391 308.5h11M1413 308.5h11M1457 316.5h11M1435 321.5h11M1347 326.5h11M1358 326.5h11M1314 334.5h11M1358 334.5h11M1369 334.5h11M1380 334.5h11M1391 334.5h11M1402 334.5h11M1336 342.5h11M1369 342.5h11M1391 342.5h11M1402 342.5h11M1292 347.5h11M1325 352.5h11M1380 352.5h11M1281 355.5h11M1292 355.5h11M1303 355.5h11M1347 355.5h11M1369 355.5h11M1281 365.5h11M1336 365.5h11M1358 365.5h11M1347 368.5h11M1325 373.5h11M1281 376.5h11M1380 376.5h11M1303 381.5h11M1402 381.5h11M1325 386.5h11M1347 386.5h11M1358 386.5h11M1369 386.5h11M1391 386.5h11M1369 389.5h11M1391 389.5h11M1314 394.5h11M1435 399.5h11M1446 399.5h11M1457 399.5h11M1281 407.5h11M1391 407.5h11M1292 415.5h11M1347 415.5h11M1391 415.5h11M1292 425.5h11M1336 425.5h11M1369 425.5h11M1281 428.5h11M1325 428.5h11M1336 428.5h11M1347 428.5h11M1391 428.5h11M1413 428.5h11M1292 441.5h11M1314 441.5h11M1336 441.5h11M1347 441.5h11M1380 441.5h11M1281 449.5h11M1446 454.5h11M1336 459.5h11M1358 459.5h11M1391 459.5h11M1292 467.5h11M1402 467.5h11M1446 467.5h11M1457 467.5h11M1325 472.5h11M1336 472.5h11M1347 472.5h11M1402 472.5h11M1281 475.5h11M1380 475.5h11M1358 480.5h11M1369 488.5h11M1380 488.5h11M1303 493.5h11M1314 493.5h11M1380 493.5h11M1424 496.5h11M1281 501.5h11M1347 501.5h11M1391 501.5h11M1303 509.5h11M1413 509.5h11M1314 514.5h11M1336 514.5h11M1281 519.5h11M1314 519.5h11M1347 519.5h11M1358 519.5h11M1391 519.5h11M1303 522.5h11M1325 522.5h11M1336 532.5h11M1446 535.5h11M1457 535.5h11M1281 540.5h11M1303 540.5h11M1336 540.5h11M1369 540.5h11M1380 540.5h11M1435 540.5h11M1325 543.5h11M1347 543.5h11M1435 543.5h11M1446 543.5h11M1314 548.5h11M1369 548.5h11M1391 548.5h11M1402 548.5h11M1336 553.5h11M1303 556.5h11M1446 556.5h11M1446 561.5h11M1336 566.5h11M1391 566.5h11M1435 569.5h11M1347 579.5h11M1358 579.5h11M1457 579.5h11M1292 582.5h11M1314 582.5h11M1325 582.5h11M1336 582.5h11M1347 582.5h11M1358 582.5h11M1391 582.5h11M1314 587.5h11M1325 587.5h11M1292 600.5h11M1336 600.5h11M1369 600.5h11M1380 600.5h11M1391 600.5h11M1402 600.5h11M1314 603.5h11M1325 603.5h11M1292 608.5h11M1358 608.5h11M1391 608.5h11M1281 613.5h11M1303 613.5h11M1358 613.5h11M1369 613.5h11M1380 613.5h11M1391 613.5h11M1402 613.5h11M1281 621.5h11M1347 621.5h11M1358 621.5h11M1369 621.5h11M1435 621.5h11M1369 629.5h11M1446 629.5h11M1292 639.5h11M1314 639.5h11M1336 639.5h11M1347 639.5h11M1292 642.5h11M1303 642.5h11M1325 642.5h11M1336 642.5h11M1358 642.5h11M1380 642.5h11M1391 642.5h11M1402 642.5h11M1435 642.5h11M1303 647.5h11M1325 647.5h11M1347 647.5h11M1380 647.5h11M1391 647.5h11M1424 647.5h11M1457 647.5h11M1325 650.5h11M1369 650.5h11M1281 655.5h11M1369 655.5h11M1391 655.5h11M1402 655.5h11M1336 660.5h11M1435 660.5h11M1446 660.5h11M1292 663.5h11M1314 663.5h11M1314 668.5h11M1424 673.5h11M1391 676.5h11M1457 676.5h11M1292 681.5h11M1292 686.5h11M1336 689.5h11M1369 689.5h11M1380 689.5h11M1424 689.5h11M1303 694.5h11M1314 694.5h11M1358 694.5h11M1424 694.5h11M1457 694.5h11M1424 699.5h11"/>
<path stroke="#d6d6eb" stroke-width="2" d="M1214 157h11M1236 157h11M1435 178h11M1457 178h11M1457 183h11M1457 191h11M1369 212h11M1413 217h11M1424 217h11M1435 217h11M1446 217h11M1457 217h11M1236 225h11M1424 230h11M1236 238h11M1424 243h11M1457 256h11M1258 264h11M1424 272h11M1225 285h11M1236 285h11M1269 290h12M1391 298h11M1402 298h11M1457 298h11M1281 303h11M1292 303h11M1336 303h11M1303 311h11M1347 311h11M1424 311h11M1435 311h11M1347 319h11M1435 319h11M1292 324h11M1303 324h11M1347 324h11M1281 332h11M1292 332h11M1314 332h11M1325 332h11M1347 332h11M1369 332h11M1380 332h11M1281 337h11M1336 337h11M1380 337h11M1281 345h11M1402 345h11M1281 350h11M1281 358h11M1336 358h11M1369 358h11M1380 358h11M1402 358h11M1314 363h11M1369 363h11M1402 363h11M1325 371h11M1358 371h11M1369 371h11M1347 379h11M1457 384h11M1358 397h11M1380 397h11M1402 397h11M1347 405h11M1380 405h11M1391 405h11M1292 410h11M1303 410h11M1303 418h11M1347 418h11M1369 418h11M1380 418h11M1391 418h11M1325 423h11M1391 423h11M1413 423h11M1369 431h11M1446 439h11M1303 444h11M1391 444h11M1380 452h11M1402 452h11M1347 457h11M1380 457h11M1402 457h11M1435 457h11M1336 465h11M1281 470h11M1336 470h11M1369 470h11M1336 478h11M1347 478h11M1292 486h11M1380 486h11M1402 486h11M1446 486h11M1314 491h11M1292 499h11M1314 499h11M1314 512h11M1358 512h11M1281 517h11M1292 517h11M1358 517h11M1292 525h11M1347 525h11M1435 525h11M1314 530h11M1435 538h11M1446 538h11M1325 546h11M1457 546h11M1347 551h11M1391 551h11M1435 564h11M1391 572h11M1435 572h11M1446 572h11M1457 572h11M1303 577h11M1281 585h11M1325 585h11M1347 598h11M1391 598h11M1380 606h11M1402 606h11M1292 611h11M1369 619h11M1303 624h11M1314 632h11M1424 632h11M1446 632h11M1457 632h11M1369 637h11M1391 637h11M1347 645h11M1303 653h11M1314 653h11M1391 653h11M1424 653h11M1358 658h11M1402 658h11M1380 666h11M1424 666h11M1446 671h11M1457 671h11M1281 697h11"/>
<path stroke="#babadd" stroke-width="2" d="M1225 157h11M1247 157h11M1236 191h11M1269 191h12M1225 204h11M1236 204h11M1314 212h11M1269 217h12M1269 225h12M1435 225h11M1457 225h11M1225 230h11M1236 230h11M1435 230h11M1214 238h11M1247 238h11M1247 251h11M1413 251h11M1214 256h11M1247 264h11M1269 264h12M1258 272h11M1446 272h11M1435 277h11M1446 277h11M1457 277h11M1269 285h12M1258 290h11M1402 303h11M1424 303h11M1336 311h11M1391 311h11M1446 311h11M1314 319h11M1380 319h11M1402 319h11M1369 324h11M1391 332h11M1402 332h11M1336 345h11M1369 345h11M1292 350h11M1380 350h11M1314 358h11M1391 358h11M1325 379h11M1314 418h11M1336 418h11M1303 423h11M1336 423h11M1358 423h11M1380 423h11M1391 431h11M1336 444h11M1281 452h11M1292 452h11M1325 452h11M1292 457h11M1303 478h11M1369 478h11M1303 486h11M1336 486h11M1347 486h11M1424 486h11M1281 491h11M1402 491h11M1391 499h11M1391 504h11M1292 512h11M1391 512h11M1336 517h11M1380 517h11M1402 525h11M1292 546h11M1380 546h11M1281 551h11M1303 551h11M1303 572h11M1325 572h11M1358 572h11M1281 577h11M1292 577h11M1391 577h11M1336 598h11M1358 598h11M1402 598h11M1292 606h11M1424 606h11M1435 611h11M1292 619h11M1325 619h11M1336 619h11M1347 619h11M1402 619h11M1402 624h11M1292 645h11M1314 645h11M1402 645h11M1292 658h11M1314 666h11M1369 666h11M1402 666h11M1424 679h11M1435 679h11M1292 684h11M1446 684h11M1457 684h11M1435 697h11"/>
<path stroke="#9f9fcf" stroke-width="2" d="M1258 157h11M1236 165h11M1236 170h11M1258 170h11M1214 178h11M1247 183h11M1214 191h11M1225 191h11M1214 204h11M1236 217h11M1247 217h11M1258 225h11M1446 225h11M1214 230h11M1446 230h11M1247 243h11M1269 256h12M1236 272h11M1269 277h12M1446 303h11M1314 311h11M1358 319h11M1314 324h11M1292 358h11M1336 379h11M1380 379h11M1391 379h11M1402 379h11M1314 384h11M1347 410h11M1391 410h11M1292 423h11M1314 423h11M1303 439h11M1325 439h11M1336 439h11M1380 439h11M1402 439h11M1369 486h11M1391 491h11M1402 504h11M1402 512h11M1402 517h11M1380 525h11M1369 551h11M1402 551h11M1336 572h11M1347 572h11M1380 572h11M1358 577h11M1303 585h11M1336 585h11M1402 585h11M1281 619h11M1303 619h11M1380 619h11M1435 684h11M1446 692h11M1446 697h11"/>
<path stroke="#c8c8e4" stroke-width="2" d="M1269 157h12M1269 183h12M1446 196h11M1269 204h12M1424 225h11M1413 230h11M1457 230h11M1225 243h11M1258 243h11M1269 243h12M1446 243h11M1258 251h11M1225 256h11M1413 256h11M1424 256h11M1214 264h11M1236 264h11M1457 264h11M1214 272h11M1225 272h11M1214 277h11M1413 277h11M1214 285h11M1258 285h11M1214 290h11M1314 298h11M1435 298h11M1446 298h11M1314 303h11M1380 303h11M1281 311h11M1358 311h11M1369 311h11M1380 311h11M1281 319h11M1292 319h11M1325 319h11M1369 319h11M1325 324h11M1380 324h11M1391 324h11M1446 324h11M1303 332h11M1336 332h11M1358 332h11M1347 337h11M1292 345h11M1391 345h11M1314 350h11M1325 350h11M1336 350h11M1358 350h11M1391 350h11M1402 350h11M1325 363h11M1281 379h11M1292 384h11M1369 384h11M1402 384h11M1314 397h11M1303 405h11M1358 405h11M1336 410h11M1380 410h11M1281 418h11M1292 418h11M1347 423h11M1369 423h11M1402 423h11M1281 431h11M1435 439h11M1292 444h11M1325 444h11M1347 444h11M1358 444h11M1380 444h11M1402 444h11M1314 452h11M1336 452h11M1347 452h11M1358 452h11M1314 457h11M1336 457h11M1303 465h11M1347 465h11M1358 465h11M1369 465h11M1314 470h11M1358 478h11M1281 486h11M1314 486h11M1391 486h11M1347 491h11M1369 491h11M1303 499h11M1369 504h11M1380 504h11M1380 512h11M1303 517h11M1314 517h11M1347 517h11M1391 517h11M1314 525h11M1336 525h11M1369 525h11M1391 525h11M1413 538h11M1369 546h11M1391 546h11M1424 546h11M1446 546h11M1358 551h11M1435 551h11M1446 551h11M1457 551h11M1457 564h11M1380 585h11M1402 593h11M1281 598h11M1303 598h11M1314 598h11M1369 598h11M1314 606h11M1325 606h11M1347 606h11M1358 606h11M1325 611h11M1347 611h11M1369 611h11M1391 611h11M1446 611h11M1369 624h11M1380 624h11M1358 637h11M1281 645h11M1303 645h11M1336 645h11M1380 645h11M1435 645h11M1446 645h11M1402 653h11M1457 653h11M1303 658h11M1325 658h11M1336 658h11M1347 658h11M1369 658h11M1391 658h11M1446 666h11M1457 666h11M1314 679h11M1281 684h11M1424 684h11M1281 692h11M1292 692h11M1457 692h11M1292 697h11M1424 697h11"/>
<path stroke="#f9e7e7" stroke-width="2" d="M1281 157h11M1303 157h11M1358 157h11M1380 157h11M1413 157h11M1281 165h11M1292 165h11M1303 165h11M1369 165h11M1424 165h11M1446 165h11M1281 170h11M1336 170h11M1358 170h11M1380 170h11M1391 170h11M1446 170h11M1281 183h11M1314 183h11M1336 183h11M1369 183h11M1402 183h11M1314 191h11M1391 191h11M1336 204h11M1369 204h11M1380 204h11M1413 212h11M1314 217h11M1325 217h11M1347 217h11M1391 217h11M1347 225h11M1369 225h11M1336 230h11M1281 238h11M1380 238h11M1380 243h11M1402 243h11M1347 251h11M1281 264h11M1292 264h11M1325 264h11M1314 272h11M1325 285h11M1369 285h11M1391 285h11M1424 285h11M1314 290h11M1424 290h11M1446 290h11M1336 298h11M1413 319h11M1435 332h11M1314 337h11M1325 337h11M1446 345h11M1457 350h11M1413 358h11M1446 358h11M1225 363h11M1258 363h11M1269 363h12M1435 363h11M1258 379h11M1457 379h11M1236 392h11M1457 392h11M1247 405h11M1258 418h11M1446 418h11M1457 423h11M1413 431h11M1236 439h11M1258 439h11M1446 444h11M1424 452h11M1457 452h11M1214 465h11M1413 465h11M1435 465h11M1258 491h11M1413 499h11M1435 499h11M1214 504h11M1258 504h11M1457 504h11M1214 525h11M1435 530h11M1347 538h11M1358 538h11M1402 538h11M1258 559h11M1281 559h11M1369 559h11M1269 564h12M1325 564h11M1424 564h11M1413 572h11M1413 577h11M1446 577h11M1236 585h11M1247 585h11M1413 585h11M1247 593h11M1258 593h11M1269 593h12M1424 593h11M1225 598h11M1424 598h11M1435 598h11M1413 606h11M1435 619h11M1325 624h11M1325 632h11M1236 637h11M1247 637h11M1225 653h11M1413 653h11M1258 666h11M1269 666h12M1336 671h11M1380 671h11M1391 679h11M1369 684h11M1303 692h11M1391 697h11"/>
<path stroke="#f4cfcf" stroke-width="2" d="M1292 157h11M1325 157h11M1347 157h11M1391 157h11M1325 165h11M1303 170h11M1292 178h11M1336 178h11M1380 178h11M1292 183h11M1391 183h11M1325 191h11M1292 196h11M1336 196h11M1358 196h11M1380 196h11M1402 196h11M1292 204h11M1347 204h11M1402 204h11M1303 217h11M1380 217h11M1281 225h11M1314 238h11M1347 238h11M1369 238h11M1402 238h11M1336 243h11M1303 256h11M1402 256h11M1336 264h11M1358 264h11M1380 272h11M1292 277h11M1314 277h11M1369 290h11M1402 290h11M1225 303h11M1413 311h11M1457 332h11M1225 337h11M1269 337h12M1424 345h11M1435 345h11M1457 345h11M1214 350h11M1446 350h11M1424 363h11M1446 363h11M1413 371h11M1225 384h11M1247 384h11M1258 384h11M1214 397h11M1424 397h11M1214 405h11M1413 405h11M1214 423h11M1435 431h11M1457 431h11M1269 439h12M1424 465h11M1247 478h11M1214 486h11M1236 486h11M1214 491h11M1225 491h11M1236 491h11M1225 504h11M1236 504h11M1214 512h11M1225 512h11M1258 512h11M1258 517h11M1269 517h12M1258 525h11M1236 530h11M1269 530h12M1214 538h11M1269 538h12M1258 546h11M1269 546h12M1225 551h11M1247 551h11M1225 559h11M1236 559h11M1325 559h11M1391 559h11M1214 564h11M1247 611h11M1247 624h11M1269 624h12M1258 637h11M1225 645h11M1236 645h11M1225 658h11M1225 666h11M1347 671h11M1402 671h11M1214 679h11M1413 684h11M1247 692h11M1269 692h12M1269 697h12M1413 697h11"/>
<path stroke="#fcf3f3" stroke-width="2" d="M1314 157h11M1336 157h11M1314 165h11M1413 170h11M1435 170h11M1457 170h11M1413 178h11M1380 183h11M1413 183h11M1369 191h11M1314 196h11M1347 196h11M1314 204h11M1457 204h11M1281 217h11M1402 217h11M1292 230h11M1424 238h11M1446 238h11M1314 243h11M1413 243h11M1358 251h11M1380 251h11M1391 251h11M1402 251h11M1314 264h11M1347 264h11M1369 264h11M1281 285h11M1347 285h11M1380 285h11M1457 285h11M1413 290h11M1457 290h11M1424 319h11M1303 337h11M1435 337h11M1446 337h11M1457 337h11M1435 350h11M1424 358h11M1435 358h11M1457 358h11M1214 363h11M1236 363h11M1347 371h11M1269 384h12M1380 384h11M1391 384h11M1413 384h11M1281 392h11M1292 392h11M1303 392h11M1314 392h11M1347 392h11M1391 392h11M1446 392h11M1347 397h11M1435 410h11M1413 418h11M1435 418h11M1457 418h11M1225 423h11M1325 431h11M1424 444h11M1435 444h11M1258 465h11M1457 465h11M1413 470h11M1435 470h11M1258 478h11M1424 478h11M1435 478h11M1413 486h11M1269 491h12M1303 504h11M1325 504h11M1413 504h11M1424 504h11M1457 512h11M1413 517h11M1457 517h11M1281 525h11M1457 525h11M1281 530h11M1358 530h11M1424 530h11M1281 538h11M1292 538h11M1303 538h11M1347 546h11M1247 559h11M1314 559h11M1336 559h11M1347 559h11M1358 559h11M1457 559h11M1236 564h11M1258 564h11M1347 564h11M1402 564h11M1258 585h11M1269 585h12M1435 585h11M1292 593h11M1325 593h11M1457 593h11M1236 598h11M1258 598h11M1269 598h12M1269 611h12M1457 624h11M1247 632h11M1402 632h11M1225 637h11M1269 653h12M1325 653h11M1269 658h12M1446 658h11M1457 658h11M1292 666h11M1225 671h11M1369 671h11M1225 679h11M1247 679h11M1347 679h11M1358 679h11M1380 679h11M1314 684h11M1325 684h11M1347 684h11M1325 692h11M1391 692h11M1380 697h11"/>
<path stroke="#f7dbdb" stroke-width="2" d="M1369 157h11M1402 157h11M1424 157h11M1435 157h11M1446 157h11M1336 165h11M1347 165h11M1380 165h11M1402 165h11M1325 170h11M1369 170h11M1402 170h11M1424 170h11M1314 178h11M1369 178h11M1303 183h11M1325 183h11M1347 183h11M1358 183h11M1336 191h11M1358 191h11M1380 191h11M1402 191h11M1391 196h11M1303 204h11M1391 204h11M1413 204h11M1424 204h11M1435 204h11M1457 212h11M1292 225h11M1303 225h11M1380 225h11M1402 225h11M1358 238h11M1347 243h11M1369 243h11M1281 251h11M1292 251h11M1391 264h11M1402 264h11M1325 272h11M1369 272h11M1303 277h11M1380 277h11M1402 285h11M1336 290h11M1380 290h11M1247 303h11M1214 332h11M1424 332h11M1258 345h11M1413 350h11M1424 350h11M1457 363h11M1424 371h11M1457 371h11M1214 379h11M1247 379h11M1214 392h11M1325 392h11M1380 392h11M1424 392h11M1413 397h11M1435 397h11M1258 405h11M1269 405h12M1457 405h11M1424 410h11M1457 410h11M1269 418h12M1247 423h11M1258 423h11M1446 423h11M1214 431h11M1446 431h11M1214 439h11M1247 439h11M1413 439h11M1269 444h12M1269 465h12M1446 465h11M1446 470h11M1214 478h11M1225 478h11M1236 478h11M1269 478h12M1413 478h11M1457 478h11M1225 486h11M1258 486h11M1424 491h11M1457 491h11M1457 499h11M1236 517h11M1236 525h11M1413 530h11M1236 538h11M1258 538h11M1380 538h11M1292 559h11M1380 559h11M1247 572h11M1269 572h12M1258 577h11M1225 585h11M1424 585h11M1457 585h11M1236 593h11M1225 611h11M1236 611h11M1258 611h11M1247 619h11M1258 632h11M1269 637h12M1413 637h11M1258 645h11M1269 645h12M1258 653h11M1236 658h11M1258 658h11M1435 658h11M1236 666h11M1236 671h11M1281 671h11M1314 671h11M1325 671h11M1358 671h11M1236 679h11M1225 692h11M1413 692h11"/>
<path stroke="#f1f1f8" stroke-width="2" d="M1457 157h11M1292 170h11M1424 178h11M1214 183h11M1435 183h11M1446 183h11M1413 191h11M1435 191h11M1236 196h11M1424 196h11M1435 196h11M1446 204h11M1325 212h11M1347 212h11M1358 212h11M1380 212h11M1402 212h11M1424 212h11M1435 212h11M1446 212h11M1292 217h11M1413 225h11M1281 230h11M1325 230h11M1358 230h11M1269 238h12M1413 238h11M1457 238h11M1269 251h12M1424 251h11M1446 251h11M1303 285h11M1314 285h11M1435 285h11M1435 290h11M1292 298h11M1325 298h11M1424 298h11M1303 303h11M1391 303h11M1435 303h11M1292 311h11M1446 319h11M1457 319h11M1292 337h11M1358 337h11M1391 337h11M1325 345h11M1281 363h11M1303 363h11M1292 371h11M1303 371h11M1391 371h11M1413 379h11M1446 379h11M1281 384h11M1303 384h11M1325 384h11M1336 384h11M1347 384h11M1258 392h11M1269 392h12M1413 392h11M1292 405h11M1314 405h11M1369 405h11M1402 405h11M1435 405h11M1446 405h11M1292 431h11M1303 431h11M1380 431h11M1413 444h11M1457 444h11M1303 452h11M1369 452h11M1303 457h11M1413 457h11M1424 457h11M1446 457h11M1402 465h11M1292 478h11M1380 478h11M1292 491h11M1336 491h11M1358 491h11M1446 491h11M1446 499h11M1281 504h11M1292 504h11M1435 504h11M1446 504h11M1281 512h11M1413 512h11M1435 512h11M1435 517h11M1413 525h11M1446 525h11M1369 530h11M1457 530h11M1314 538h11M1391 538h11M1402 546h11M1435 559h11M1446 559h11M1225 564h11M1247 564h11M1281 564h11M1314 564h11M1424 572h11M1424 577h11M1281 593h11M1303 593h11M1314 593h11M1347 593h11M1369 593h11M1391 593h11M1435 593h11M1446 593h11M1457 598h11M1435 606h11M1303 611h11M1292 624h11M1358 624h11M1391 624h11M1424 624h11M1435 624h11M1281 632h11M1369 632h11M1435 632h11M1281 637h11M1336 637h11M1402 637h11M1424 637h11M1435 637h11M1292 653h11M1358 653h11M1380 653h11M1435 653h11M1281 658h11M1247 666h11M1281 666h11M1325 666h11M1247 671h11M1269 679h12M1292 679h11M1325 679h11M1336 679h11M1402 679h11M1303 684h11M1391 684h11M1347 692h11M1358 692h11M1402 692h11M1303 697h11M1369 697h11"/>
<path stroke="#babadd" stroke-width="3" d="M1225 159.5h11M1269 159.5h12M1247 167.5h11M1236 172.5h11M1225 175.5h11M1236 175.5h11M1247 188.5h11M1258 188.5h11M1225 193.5h11M1236 193.5h11M1269 193.5h12M1236 198.5h11M1225 201.5h11M1225 206.5h11M1225 209.5h11M1269 209.5h12M1457 214.5h11M1225 219.5h11M1424 219.5h11M1225 222.5h11M1269 222.5h12M1424 222.5h11M1435 227.5h11M1258 232.5h11M1269 232.5h12M1446 232.5h11M1214 235.5h11M1269 235.5h12M1446 240.5h11M1214 258.5h11M1236 258.5h11M1435 258.5h11M1258 261.5h11M1269 261.5h12M1225 269.5h11M1236 269.5h11M1269 269.5h12M1225 274.5h11M1413 279.5h11M1446 279.5h11M1258 287.5h11M1214 292.5h11M1269 292.5h12M1424 292.5h11M1435 292.5h11M1303 300.5h11M1336 300.5h11M1435 300.5h11M1292 305.5h11M1303 305.5h11M1314 308.5h11M1457 313.5h11M1424 316.5h11M1358 321.5h11M1391 321.5h11M1402 321.5h11M1424 321.5h11M1369 326.5h11M1325 329.5h11M1347 329.5h11M1358 329.5h11M1380 329.5h11M1336 347.5h11M1369 347.5h11M1402 347.5h11M1402 352.5h11M1402 355.5h11M1292 365.5h11M1369 365.5h11M1402 365.5h11M1292 368.5h11M1303 368.5h11M1325 368.5h11M1325 376.5h11M1336 376.5h11M1347 376.5h11M1336 381.5h11M1369 381.5h11M1380 381.5h11M1380 386.5h11M1402 386.5h11M1303 389.5h11M1336 389.5h11M1358 389.5h11M1281 399.5h11M1303 399.5h11M1314 399.5h11M1347 399.5h11M1358 399.5h11M1391 399.5h11M1314 412.5h11M1347 420.5h11M1369 420.5h11M1402 425.5h11M1380 428.5h11M1402 428.5h11M1281 433.5h11M1292 433.5h11M1303 433.5h11M1391 433.5h11M1281 436.5h11M1292 436.5h11M1325 436.5h11M1402 436.5h11M1358 441.5h11M1281 446.5h11M1336 446.5h11M1369 446.5h11M1402 446.5h11M1281 459.5h11M1336 462.5h11M1347 462.5h11M1358 462.5h11M1391 462.5h11M1314 467.5h11M1325 467.5h11M1369 467.5h11M1303 472.5h11M1314 472.5h11M1358 472.5h11M1369 472.5h11M1391 472.5h11M1303 475.5h11M1369 475.5h11M1380 480.5h11M1435 483.5h11M1457 483.5h11M1281 488.5h11M1292 488.5h11M1303 488.5h11M1358 488.5h11M1391 488.5h11M1402 488.5h11M1314 496.5h11M1336 496.5h11M1358 496.5h11M1457 496.5h11M1314 501.5h11M1336 501.5h11M1380 501.5h11M1435 501.5h11M1281 506.5h11M1303 506.5h11M1292 509.5h11M1336 509.5h11M1380 514.5h11M1402 519.5h11M1457 519.5h11M1402 522.5h11M1435 522.5h11M1435 535.5h11M1281 548.5h11M1303 548.5h11M1281 553.5h11M1303 553.5h11M1402 553.5h11M1457 561.5h11M1281 566.5h11M1347 566.5h11M1358 566.5h11M1380 566.5h11M1336 569.5h11M1347 569.5h11M1369 569.5h11M1380 569.5h11M1281 574.5h11M1380 574.5h11M1292 579.5h11M1303 579.5h11M1314 579.5h11M1336 579.5h11M1281 582.5h11M1457 582.5h11M1281 587.5h11M1303 587.5h11M1347 590.5h11M1402 590.5h11M1314 600.5h11M1358 603.5h11M1347 608.5h11M1369 608.5h11M1424 613.5h11M1435 613.5h11M1314 621.5h11M1457 621.5h11M1446 626.5h11M1380 629.5h11M1281 639.5h11M1380 639.5h11M1336 647.5h11M1358 647.5h11M1369 647.5h11M1402 647.5h11M1446 647.5h11M1457 673.5h11M1446 681.5h11M1424 686.5h11M1347 689.5h11M1402 689.5h11M1435 689.5h11M1457 689.5h11M1281 694.5h11M1435 694.5h11M1435 699.5h11M1446 699.5h11M1457 699.5h11"/>
<path stroke="#c8c8e4" stroke-width="3" d="M1247 159.5h11M1269 167.5h12M1435 175.5h11M1214 185.5h11M1258 185.5h11M1225 188.5h11M1258 193.5h11M1236 201.5h11M1258 201.5h11M1258 206.5h11M1435 206.5h11M1214 222.5h11M1258 222.5h11M1225 227.5h11M1446 227.5h11M1225 232.5h11M1225 235.5h11M1258 235.5h11M1435 235.5h11M1446 235.5h11M1214 240.5h11M1225 240.5h11M1258 240.5h11M1413 240.5h11M1446 245.5h11M1236 253.5h11M1457 258.5h11M1214 261.5h11M1236 261.5h11M1281 266.5h11M1413 266.5h11M1435 266.5h11M1402 269.5h11M1457 269.5h11M1435 279.5h11M1336 282.5h11M1402 282.5h11M1225 287.5h11M1236 287.5h11M1413 287.5h11M1457 287.5h11M1225 292.5h11M1281 300.5h11M1314 300.5h11M1358 300.5h11M1369 300.5h11M1391 300.5h11M1402 300.5h11M1413 300.5h11M1325 305.5h11M1336 305.5h11M1391 305.5h11M1380 308.5h11M1424 313.5h11M1446 313.5h11M1413 316.5h11M1281 321.5h11M1369 321.5h11M1457 321.5h11M1391 329.5h11M1303 342.5h11M1358 342.5h11M1281 347.5h11M1347 347.5h11M1358 347.5h11M1281 352.5h11M1358 352.5h11M1336 368.5h11M1369 368.5h11M1391 368.5h11M1358 373.5h11M1314 376.5h11M1358 376.5h11M1369 376.5h11M1391 376.5h11M1281 381.5h11M1292 381.5h11M1281 386.5h11M1303 386.5h11M1314 386.5h11M1413 386.5h11M1281 389.5h11M1325 389.5h11M1347 389.5h11M1402 389.5h11M1292 399.5h11M1369 399.5h11M1424 399.5h11M1303 402.5h11M1281 412.5h11M1303 412.5h11M1336 412.5h11M1369 412.5h11M1391 412.5h11M1303 415.5h11M1336 415.5h11M1369 415.5h11M1380 415.5h11M1292 420.5h11M1325 420.5h11M1380 425.5h11M1303 428.5h11M1358 428.5h11M1358 433.5h11M1358 436.5h11M1325 441.5h11M1292 446.5h11M1325 446.5h11M1347 446.5h11M1380 446.5h11M1391 446.5h11M1369 454.5h11M1325 459.5h11M1347 459.5h11M1380 459.5h11M1402 459.5h11M1292 462.5h11M1314 462.5h11M1402 462.5h11M1347 467.5h11M1358 467.5h11M1281 472.5h11M1292 472.5h11M1292 475.5h11M1347 475.5h11M1358 475.5h11M1303 480.5h11M1314 480.5h11M1325 480.5h11M1336 480.5h11M1391 480.5h11M1336 488.5h11M1347 488.5h11M1413 488.5h11M1303 496.5h11M1369 496.5h11M1435 496.5h11M1446 501.5h11M1292 506.5h11M1325 506.5h11M1336 506.5h11M1369 506.5h11M1281 509.5h11M1358 509.5h11M1303 514.5h11M1369 514.5h11M1391 514.5h11M1402 514.5h11M1314 522.5h11M1380 522.5h11M1391 522.5h11M1424 522.5h11M1446 522.5h11M1314 532.5h11M1347 532.5h11M1424 532.5h11M1435 532.5h11M1446 532.5h11M1457 532.5h11M1391 543.5h11M1325 548.5h11M1435 548.5h11M1446 548.5h11M1457 548.5h11M1292 553.5h11M1314 553.5h11M1347 553.5h11M1358 553.5h11M1369 553.5h11M1391 553.5h11M1424 561.5h11M1435 561.5h11M1292 566.5h11M1303 566.5h11M1369 566.5h11M1281 569.5h11M1446 569.5h11M1281 579.5h11M1402 579.5h11M1303 582.5h11M1380 582.5h11M1435 582.5h11M1446 582.5h11M1292 587.5h11M1336 587.5h11M1369 587.5h11M1402 587.5h11M1281 590.5h11M1292 590.5h11M1303 590.5h11M1336 590.5h11M1358 590.5h11M1281 600.5h11M1303 600.5h11M1303 603.5h11M1336 603.5h11M1347 603.5h11M1314 608.5h11M1325 608.5h11M1457 613.5h11M1402 621.5h11M1424 621.5h11M1292 629.5h11M1446 634.5h11M1358 639.5h11M1369 639.5h11M1391 639.5h11M1402 639.5h11M1292 647.5h11M1435 647.5h11M1457 660.5h11M1369 668.5h11M1435 673.5h11M1446 673.5h11M1424 681.5h11M1435 681.5h11M1281 689.5h11M1314 689.5h11M1391 689.5h11M1380 694.5h11M1446 694.5h11M1292 699.5h11"/>
<path stroke="#f7dbdb" stroke-width="3" d="M1292 159.5h11M1369 159.5h11M1402 159.5h11M1314 162.5h11M1325 167.5h11M1424 167.5h11M1314 175.5h11M1325 175.5h11M1402 175.5h11M1380 180.5h11M1336 185.5h11M1358 185.5h11M1369 185.5h11M1457 185.5h11M1292 188.5h11M1325 188.5h11M1336 188.5h11M1380 188.5h11M1424 188.5h11M1424 193.5h11M1281 201.5h11M1402 201.5h11M1281 206.5h11M1402 206.5h11M1435 209.5h11M1457 209.5h11M1325 214.5h11M1347 214.5h11M1369 214.5h11M1281 222.5h11M1336 222.5h11M1402 227.5h11M1303 232.5h11M1325 232.5h11M1314 235.5h11M1391 235.5h11M1369 245.5h11M1281 248.5h11M1358 248.5h11M1424 248.5h11M1281 253.5h11M1358 253.5h11M1369 253.5h11M1402 253.5h11M1292 258.5h11M1314 258.5h11M1325 258.5h11M1358 258.5h11M1369 258.5h11M1380 258.5h11M1380 261.5h11M1402 261.5h11M1325 274.5h11M1347 274.5h11M1380 274.5h11M1391 274.5h11M1402 274.5h11M1292 279.5h11M1336 279.5h11M1380 279.5h11M1281 287.5h11M1391 287.5h11M1336 292.5h11M1380 292.5h11M1214 300.5h11M1225 313.5h11M1247 313.5h11M1258 313.5h11M1325 313.5h11M1281 316.5h11M1391 316.5h11M1236 326.5h11M1435 326.5h11M1236 329.5h11M1413 329.5h11M1413 339.5h11M1435 342.5h11M1269 352.5h12M1424 352.5h11M1424 355.5h11M1446 355.5h11M1457 355.5h11M1413 365.5h11M1424 365.5h11M1435 365.5h11M1424 376.5h11M1258 381.5h11M1424 381.5h11M1435 381.5h11M1435 386.5h11M1457 386.5h11M1457 389.5h11M1413 407.5h11M1424 407.5h11M1446 407.5h11M1457 407.5h11M1413 412.5h11M1435 415.5h11M1446 415.5h11M1225 420.5h11M1258 420.5h11M1214 428.5h11M1457 428.5h11M1457 433.5h11M1269 436.5h12M1435 436.5h11M1446 446.5h11M1424 449.5h11M1457 462.5h11M1214 472.5h11M1424 472.5h11M1446 472.5h11M1424 475.5h11M1435 475.5h11M1457 475.5h11M1258 480.5h11M1258 483.5h11M1269 483.5h12M1269 501.5h12M1225 506.5h11M1258 509.5h11M1269 514.5h12M1247 519.5h11M1236 522.5h11M1269 532.5h12M1247 548.5h11M1269 553.5h12M1247 556.5h11M1269 561.5h12M1292 561.5h11M1314 561.5h11M1358 561.5h11M1369 561.5h11M1258 566.5h11M1236 569.5h11M1247 569.5h11M1258 569.5h11M1236 574.5h11M1247 574.5h11M1258 574.5h11M1413 582.5h11M1247 587.5h11M1269 587.5h12M1269 595.5h12M1457 600.5h11M1269 603.5h12M1457 603.5h11M1269 608.5h12M1446 608.5h11M1258 613.5h11M1225 616.5h11M1236 616.5h11M1247 616.5h11M1258 616.5h11M1303 616.5h11M1269 621.5h12M1269 626.5h12M1336 626.5h11M1347 626.5h11M1269 629.5h12M1325 634.5h11M1336 634.5h11M1269 647.5h12M1269 650.5h12M1236 660.5h11M1281 660.5h11M1413 660.5h11M1236 663.5h11M1402 663.5h11M1214 668.5h11M1247 668.5h11M1281 673.5h11M1369 673.5h11M1236 676.5h11M1269 676.5h12M1258 681.5h11M1314 681.5h11M1380 681.5h11M1369 686.5h11M1402 686.5h11M1413 686.5h11M1236 689.5h11"/>
<path stroke="#eeb7b7" stroke-width="3" d="M1303 159.5h11M1347 175.5h11M1281 180.5h11M1281 185.5h11M1347 188.5h11M1292 193.5h11M1347 193.5h11M1358 193.5h11M1391 193.5h11M1457 193.5h11M1292 219.5h11M1325 219.5h11M1402 222.5h11M1325 235.5h11M1347 235.5h11M1380 235.5h11M1292 245.5h11M1358 245.5h11M1391 245.5h11M1391 248.5h11M1292 261.5h11M1303 261.5h11M1325 261.5h11M1347 261.5h11M1369 261.5h11M1369 274.5h11M1281 292.5h11M1292 292.5h11M1391 292.5h11M1236 300.5h11M1258 300.5h11M1269 305.5h12M1247 308.5h11M1214 326.5h11M1225 326.5h11M1214 329.5h11M1225 329.5h11M1225 334.5h11M1236 334.5h11M1269 342.5h12M1236 347.5h11M1247 347.5h11M1214 352.5h11M1225 352.5h11M1214 355.5h11M1236 355.5h11M1225 360.5h11M1247 360.5h11M1269 365.5h12M1225 389.5h11M1269 394.5h12M1258 399.5h11M1214 402.5h11M1247 402.5h11M1269 402.5h12M1258 407.5h11M1236 412.5h11M1258 412.5h11M1236 415.5h11M1258 415.5h11M1457 415.5h11M1247 425.5h11M1424 425.5h11M1446 433.5h11M1214 436.5h11M1236 436.5h11M1258 436.5h11M1258 441.5h11M1225 446.5h11M1258 446.5h11M1236 449.5h11M1269 449.5h12M1214 462.5h11M1236 472.5h11M1247 472.5h11M1413 472.5h11M1225 475.5h11M1236 475.5h11M1247 475.5h11M1258 475.5h11M1269 480.5h12M1247 483.5h11M1214 496.5h11M1225 496.5h11M1258 496.5h11M1269 506.5h12M1214 514.5h11M1225 514.5h11M1258 514.5h11M1247 522.5h11M1258 522.5h11M1225 532.5h11M1236 535.5h11M1214 543.5h11M1247 543.5h11M1258 543.5h11M1269 548.5h12M1225 556.5h11M1214 569.5h11M1413 574.5h11M1413 587.5h11M1225 590.5h11M1236 590.5h11M1247 590.5h11M1413 603.5h11M1225 621.5h11M1225 626.5h11M1258 626.5h11M1413 626.5h11M1236 634.5h11M1225 639.5h11M1269 642.5h12M1236 647.5h11M1258 647.5h11M1225 650.5h11M1225 655.5h11M1413 668.5h11M1214 676.5h11M1413 681.5h11M1225 686.5h11M1225 689.5h11M1258 694.5h11M1269 694.5h12"/>
<path stroke="#f1c3c3" stroke-width="3" d="M1314 159.5h11M1358 159.5h11M1391 175.5h11M1292 185.5h11M1325 185.5h11M1347 185.5h11M1281 193.5h11M1402 193.5h11M1325 201.5h11M1391 201.5h11M1303 219.5h11M1347 219.5h11M1358 219.5h11M1380 219.5h11M1292 222.5h11M1303 222.5h11M1325 222.5h11M1380 222.5h11M1391 222.5h11M1292 232.5h11M1281 235.5h11M1336 235.5h11M1358 235.5h11M1369 235.5h11M1402 235.5h11M1325 245.5h11M1402 245.5h11M1347 248.5h11M1391 253.5h11M1347 258.5h11M1281 261.5h11M1336 261.5h11M1358 261.5h11M1391 261.5h11M1281 274.5h11M1281 279.5h11M1358 279.5h11M1303 292.5h11M1347 292.5h11M1369 292.5h11M1225 300.5h11M1269 300.5h12M1225 305.5h11M1247 305.5h11M1258 305.5h11M1236 308.5h11M1214 316.5h11M1269 316.5h12M1247 326.5h11M1269 326.5h12M1457 334.5h11M1391 339.5h11M1247 342.5h11M1214 347.5h11M1225 347.5h11M1269 347.5h12M1247 352.5h11M1258 352.5h11M1269 355.5h12M1236 360.5h11M1269 360.5h12M1435 360.5h11M1258 365.5h11M1225 376.5h11M1247 381.5h11M1457 381.5h11M1214 386.5h11M1258 389.5h11M1258 402.5h11M1214 412.5h11M1424 412.5h11M1446 412.5h11M1225 415.5h11M1247 420.5h11M1269 420.5h12M1214 425.5h11M1457 425.5h11M1225 428.5h11M1424 428.5h11M1225 433.5h11M1269 433.5h12M1247 436.5h11M1236 441.5h11M1247 441.5h11M1269 441.5h12M1214 446.5h11M1457 446.5h11M1214 449.5h11M1269 459.5h12M1258 462.5h11M1258 472.5h11M1225 480.5h11M1236 483.5h11M1258 493.5h11M1225 501.5h11M1258 501.5h11M1214 506.5h11M1236 527.5h11M1214 532.5h11M1258 535.5h11M1269 543.5h12M1236 553.5h11M1214 556.5h11M1258 556.5h11M1325 561.5h11M1347 561.5h11M1413 561.5h11M1214 566.5h11M1258 582.5h11M1236 587.5h11M1258 590.5h11M1269 590.5h12M1225 600.5h11M1236 600.5h11M1247 600.5h11M1258 600.5h11M1214 603.5h11M1258 603.5h11M1247 608.5h11M1225 613.5h11M1269 613.5h12M1236 621.5h11M1247 621.5h11M1247 626.5h11M1247 629.5h11M1258 629.5h11M1247 634.5h11M1258 634.5h11M1413 642.5h11M1225 647.5h11M1214 660.5h11M1247 660.5h11M1269 660.5h12M1236 668.5h11M1303 673.5h11M1258 676.5h11M1247 681.5h11M1325 681.5h11M1336 681.5h11M1247 686.5h11M1258 686.5h11M1258 689.5h11M1413 689.5h11M1247 699.5h11"/>
<path stroke="#f9e7e7" stroke-width="3" d="M1336 159.5h11M1380 159.5h11M1413 159.5h11M1303 162.5h11M1402 162.5h11M1446 162.5h11M1347 167.5h11M1413 167.5h11M1446 167.5h11M1303 172.5h11M1369 172.5h11M1402 172.5h11M1369 175.5h11M1303 185.5h11M1402 185.5h11M1413 185.5h11M1435 185.5h11M1446 185.5h11M1402 188.5h11M1435 193.5h11M1413 198.5h11M1358 201.5h11M1369 201.5h11M1380 201.5h11M1336 206.5h11M1358 206.5h11M1391 206.5h11M1347 209.5h11M1424 209.5h11M1446 209.5h11M1314 214.5h11M1358 227.5h11M1314 232.5h11M1358 232.5h11M1380 232.5h11M1314 245.5h11M1380 245.5h11M1380 248.5h11M1446 248.5h11M1457 248.5h11M1292 253.5h11M1336 253.5h11M1281 258.5h11M1402 258.5h11M1424 261.5h11M1457 261.5h11M1391 266.5h11M1292 274.5h11M1314 274.5h11M1358 274.5h11M1314 279.5h11M1347 282.5h11M1314 287.5h11M1380 287.5h11M1358 292.5h11M1457 305.5h11M1269 313.5h12M1303 316.5h11M1314 316.5h11M1325 316.5h11M1336 316.5h11M1369 316.5h11M1325 326.5h11M1457 326.5h11M1269 329.5h12M1424 329.5h11M1457 329.5h11M1214 334.5h11M1258 334.5h11M1292 339.5h11M1303 339.5h11M1336 339.5h11M1358 339.5h11M1380 339.5h11M1413 352.5h11M1435 355.5h11M1424 360.5h11M1446 365.5h11M1413 368.5h11M1424 368.5h11M1413 373.5h11M1446 376.5h11M1457 376.5h11M1214 381.5h11M1236 381.5h11M1413 381.5h11M1214 389.5h11M1413 389.5h11M1435 389.5h11M1336 394.5h11M1413 399.5h11M1435 407.5h11M1435 412.5h11M1413 420.5h11M1435 420.5h11M1435 428.5h11M1413 433.5h11M1413 436.5h11M1424 446.5h11M1413 459.5h11M1435 472.5h11M1457 472.5h11M1413 475.5h11M1446 475.5h11M1413 480.5h11M1435 480.5h11M1457 480.5h11M1214 483.5h11M1281 483.5h11M1424 488.5h11M1446 488.5h11M1424 506.5h11M1214 509.5h11M1214 519.5h11M1225 519.5h11M1236 519.5h11M1225 522.5h11M1225 527.5h11M1258 527.5h11M1281 527.5h11M1292 527.5h11M1336 527.5h11M1347 527.5h11M1457 527.5h11M1269 535.5h12M1413 540.5h11M1258 561.5h11M1281 561.5h11M1336 561.5h11M1380 561.5h11M1269 566.5h12M1269 569.5h12M1424 574.5h11M1247 582.5h11M1424 590.5h11M1457 590.5h11M1358 595.5h11M1435 595.5h11M1457 595.5h11M1424 600.5h11M1424 603.5h11M1446 603.5h11M1457 608.5h11M1281 616.5h11M1457 616.5h11M1380 621.5h11M1325 626.5h11M1391 626.5h11M1369 634.5h11M1391 634.5h11M1435 639.5h11M1457 639.5h11M1258 655.5h11M1269 655.5h12M1303 660.5h11M1225 663.5h11M1258 663.5h11M1358 663.5h11M1325 673.5h11M1336 673.5h11M1236 681.5h11M1347 681.5h11M1269 686.5h12M1303 686.5h11M1347 686.5h11M1380 686.5h11M1269 689.5h12M1325 694.5h11M1413 694.5h11M1303 699.5h11M1380 699.5h11M1413 699.5h11"/>
<path stroke="#f4cfcf" stroke-width="3" d="M1347 159.5h11M1391 159.5h11M1424 162.5h11M1380 172.5h11M1281 175.5h11M1292 175.5h11M1303 175.5h11M1336 175.5h11M1358 175.5h11M1380 175.5h11M1391 185.5h11M1424 185.5h11M1281 188.5h11M1303 188.5h11M1369 188.5h11M1391 188.5h11M1303 193.5h11M1314 193.5h11M1336 193.5h11M1446 193.5h11M1303 201.5h11M1314 201.5h11M1336 201.5h11M1380 214.5h11M1314 219.5h11M1314 222.5h11M1358 222.5h11M1369 222.5h11M1281 232.5h11M1347 232.5h11M1292 235.5h11M1303 245.5h11M1292 248.5h11M1303 248.5h11M1314 253.5h11M1347 253.5h11M1380 253.5h11M1303 258.5h11M1314 261.5h11M1303 274.5h11M1303 279.5h11M1325 279.5h11M1391 279.5h11M1402 279.5h11M1325 287.5h11M1402 287.5h11M1258 295.5h11M1269 295.5h12M1247 300.5h11M1236 313.5h11M1247 316.5h11M1258 316.5h11M1292 316.5h11M1258 326.5h11M1413 326.5h11M1424 326.5h11M1325 339.5h11M1214 342.5h11M1413 342.5h11M1413 347.5h11M1258 360.5h11M1457 360.5h11M1457 373.5h11M1269 376.5h12M1225 381.5h11M1446 381.5h11M1236 389.5h11M1247 389.5h11M1424 394.5h11M1236 402.5h11M1457 412.5h11M1214 415.5h11M1247 415.5h11M1424 415.5h11M1214 420.5h11M1236 420.5h11M1258 425.5h11M1435 425.5h11M1446 425.5h11M1214 433.5h11M1424 433.5h11M1225 436.5h11M1424 436.5h11M1446 436.5h11M1413 441.5h11M1424 441.5h11M1457 441.5h11M1269 446.5h12M1435 449.5h11M1269 462.5h12M1269 475.5h12M1225 483.5h11M1214 488.5h11M1225 488.5h11M1236 488.5h11M1258 488.5h11M1269 488.5h12M1214 493.5h11M1269 496.5h12M1214 501.5h11M1236 501.5h11M1236 514.5h11M1214 522.5h11M1269 522.5h12M1214 527.5h11M1247 527.5h11M1258 532.5h11M1413 532.5h11M1214 548.5h11M1214 553.5h11M1247 553.5h11M1225 561.5h11M1236 561.5h11M1303 561.5h11M1225 566.5h11M1236 566.5h11M1247 566.5h11M1225 569.5h11M1269 574.5h12M1269 579.5h12M1225 582.5h11M1269 582.5h12M1225 587.5h11M1236 595.5h11M1258 595.5h11M1303 595.5h11M1413 595.5h11M1269 600.5h12M1225 603.5h11M1236 603.5h11M1247 603.5h11M1413 608.5h11M1236 613.5h11M1247 613.5h11M1214 616.5h11M1258 621.5h11M1236 626.5h11M1236 639.5h11M1269 639.5h12M1247 647.5h11M1258 650.5h11M1413 650.5h11M1247 655.5h11M1413 655.5h11M1225 660.5h11M1258 660.5h11M1214 663.5h11M1402 673.5h11M1225 676.5h11M1225 681.5h11M1303 681.5h11M1214 689.5h11M1336 699.5h11"/>
<path stroke="#adadd6" stroke-width="3" d="M1214 162.5h11M1269 162.5h12M1258 167.5h11M1247 172.5h11M1258 172.5h11M1269 172.5h12M1214 175.5h11M1247 175.5h11M1269 175.5h12M1225 180.5h11M1236 180.5h11M1269 180.5h12M1247 185.5h11M1269 188.5h12M1214 193.5h11M1214 198.5h11M1214 201.5h11M1269 206.5h12M1258 209.5h11M1247 214.5h11M1269 214.5h12M1435 214.5h11M1236 222.5h11M1435 222.5h11M1446 222.5h11M1236 240.5h11M1225 248.5h11M1258 248.5h11M1269 248.5h12M1214 253.5h11M1225 253.5h11M1269 253.5h12M1435 253.5h11M1457 253.5h11M1247 258.5h11M1258 258.5h11M1446 266.5h11M1214 269.5h11M1446 269.5h11M1236 274.5h11M1258 274.5h11M1269 274.5h12M1214 287.5h11M1247 292.5h11M1446 292.5h11M1292 300.5h11M1347 305.5h11M1380 305.5h11M1435 316.5h11M1446 316.5h11M1292 321.5h11M1314 321.5h11M1325 321.5h11M1314 326.5h11M1292 329.5h11M1402 329.5h11M1380 347.5h11M1314 355.5h11M1380 368.5h11M1303 373.5h11M1314 373.5h11M1347 373.5h11M1380 373.5h11M1292 376.5h11M1292 386.5h11M1292 389.5h11M1336 399.5h11M1325 402.5h11M1358 402.5h11M1391 402.5h11M1402 402.5h11M1303 407.5h11M1292 412.5h11M1325 412.5h11M1358 412.5h11M1402 412.5h11M1314 415.5h11M1380 420.5h11M1314 428.5h11M1380 433.5h11M1402 433.5h11M1347 436.5h11M1369 436.5h11M1380 436.5h11M1391 436.5h11M1314 446.5h11M1358 446.5h11M1314 459.5h11M1369 459.5h11M1303 462.5h11M1325 462.5h11M1336 467.5h11M1325 475.5h11M1424 483.5h11M1446 483.5h11M1402 493.5h11M1292 496.5h11M1347 496.5h11M1402 501.5h11M1358 506.5h11M1402 506.5h11M1402 509.5h11M1446 519.5h11M1281 543.5h11M1303 543.5h11M1336 548.5h11M1435 556.5h11M1325 566.5h11M1292 569.5h11M1314 569.5h11M1325 569.5h11M1358 569.5h11M1402 569.5h11M1347 574.5h11M1391 574.5h11M1369 579.5h11M1380 587.5h11M1314 590.5h11M1391 590.5h11M1435 629.5h11M1281 647.5h11M1424 660.5h11M1457 663.5h11M1457 668.5h11M1446 686.5h11M1446 689.5h11M1292 694.5h11"/>
<path stroke="#9191c8" stroke-width="2" d="M1214 165h11M1214 170h11M1225 170h11M1225 178h11M1258 178h11M1269 178h12M1236 183h11M1258 191h11M1214 212h11M1236 212h11M1225 225h11M1247 230h11M1258 230h11M1247 272h11M1314 345h11M1314 410h11M1292 439h11M1347 439h11M1358 439h11M1391 439h11M1358 486h11M1314 572h11M1369 572h11M1380 577h11M1358 585h11M1369 585h11M1314 619h11M1391 619h11"/>
<path stroke="#adadd6" stroke-width="2" d="M1225 165h11M1247 170h11M1258 183h11M1214 196h11M1225 196h11M1247 196h11M1258 196h11M1269 196h12M1258 204h11M1258 212h11M1225 217h11M1214 225h11M1269 230h12M1314 230h11M1225 238h11M1214 243h11M1247 256h11M1258 256h11M1435 256h11M1446 256h11M1269 272h12M1435 272h11M1457 272h11M1225 277h11M1236 277h11M1236 290h11M1247 290h11M1402 311h11M1457 311h11M1303 319h11M1336 319h11M1391 319h11M1358 324h11M1402 324h11M1303 345h11M1347 345h11M1358 345h11M1303 350h11M1347 358h11M1347 363h11M1292 379h11M1358 379h11M1369 379h11M1281 397h11M1281 410h11M1325 410h11M1369 410h11M1402 410h11M1281 423h11M1281 444h11M1314 444h11M1369 444h11M1314 465h11M1303 470h11M1325 486h11M1380 491h11M1380 499h11M1402 499h11M1325 525h11M1314 551h11M1336 551h11M1380 551h11M1281 572h11M1292 572h11M1402 572h11M1314 577h11M1336 577h11M1347 577h11M1369 577h11M1402 577h11M1292 585h11M1314 585h11M1347 585h11M1336 606h11M1369 606h11M1314 611h11M1358 611h11M1358 619h11M1391 645h11M1314 658h11M1435 671h11M1446 679h11M1435 692h11"/>
<path stroke="#8484c2" stroke-width="2" d="M1247 165h11M1258 165h11M1269 170h12M1247 191h11M1247 204h11M1225 212h11M1214 217h11M1258 217h11M1247 225h11M1247 277h11M1247 285h11M1303 379h11M1314 379h11M1314 439h11M1369 439h11M1424 692h11M1457 697h11"/>
<path stroke="#7676bb" stroke-width="2" d="M1269 165h12M1236 178h11M1269 212h12M1258 277h11M1281 439h11"/>
<path stroke="#ffffff" stroke-width="2" d="M1358 165h11M1413 165h11M1347 170h11M1424 183h11M1281 196h11M1413 196h11M1457 196h11M1303 212h11M1336 217h11M1358 217h11M1369 217h11M1314 225h11M1347 230h11M1369 230h11M1380 230h11M1391 230h11M1214 251h11M1236 251h11M1303 251h11M1325 251h11M1336 251h11M1435 251h11M1457 251h11M1303 264h11M1413 264h11M1292 285h11M1336 285h11M1358 285h11M1446 285h11M1292 290h11M1281 298h11M1303 298h11M1347 298h11M1358 298h11M1380 298h11M1347 303h11M1424 324h11M1369 337h11M1424 337h11M1369 350h11M1358 358h11M1336 363h11M1358 363h11M1380 371h11M1402 371h11M1435 371h11M1446 371h11M1424 379h11M1435 379h11M1358 384h11M1424 384h11M1435 384h11M1446 384h11M1225 392h11M1247 392h11M1336 392h11M1358 392h11M1369 392h11M1402 392h11M1435 392h11M1325 418h11M1435 423h11M1402 431h11M1424 439h11M1391 452h11M1413 452h11M1435 452h11M1446 452h11M1292 465h11M1446 478h11M1435 491h11M1424 499h11M1269 504h12M1236 512h11M1303 512h11M1325 512h11M1369 512h11M1424 512h11M1446 512h11M1325 517h11M1424 517h11M1446 517h11M1325 530h11M1336 530h11M1347 530h11M1380 530h11M1391 530h11M1446 530h11M1325 538h11M1336 538h11M1369 538h11M1424 538h11M1303 546h11M1413 546h11M1325 551h11M1413 551h11M1303 559h11M1402 559h11M1413 559h11M1424 559h11M1292 564h11M1303 564h11M1336 564h11M1358 564h11M1380 564h11M1391 564h11M1457 577h11M1391 585h11M1446 585h11M1336 593h11M1358 593h11M1380 593h11M1446 606h11M1347 624h11M1292 632h11M1391 632h11M1325 637h11M1446 637h11M1457 637h11M1457 645h11M1369 653h11M1446 653h11M1247 658h11M1424 658h11M1303 666h11M1347 666h11M1258 671h11M1269 671h12M1292 671h11M1303 671h11M1424 671h11M1258 679h11M1303 679h11M1336 684h11M1358 684h11M1402 684h11M1314 692h11M1336 692h11M1369 692h11M1380 692h11M1325 697h11M1358 697h11M1402 697h11"/>
<path stroke="#f1c3c3" stroke-width="2" d="M1391 165h11M1435 165h11M1457 165h11M1281 178h11M1303 178h11M1347 178h11M1358 178h11M1402 178h11M1281 191h11M1292 191h11M1303 191h11M1347 191h11M1325 196h11M1369 196h11M1281 204h11M1325 204h11M1358 204h11M1325 225h11M1336 225h11M1358 225h11M1391 225h11M1325 238h11M1391 238h11M1281 243h11M1292 243h11M1303 243h11M1325 243h11M1358 243h11M1391 243h11M1314 256h11M1380 264h11M1281 272h11M1292 272h11M1303 272h11M1336 272h11M1358 277h11M1402 277h11M1281 290h11M1347 290h11M1358 290h11M1258 303h11M1225 311h11M1269 324h12M1225 332h11M1247 332h11M1258 332h11M1269 332h12M1413 332h11M1446 332h11M1258 337h11M1269 345h12M1413 345h11M1225 350h11M1269 350h12M1269 358h12M1247 363h11M1413 363h11M1258 371h11M1225 379h11M1269 379h12M1214 384h11M1236 384h11M1258 397h11M1269 397h12M1446 397h11M1225 405h11M1236 405h11M1413 410h11M1446 410h11M1225 418h11M1236 418h11M1424 418h11M1269 423h12M1225 431h11M1424 431h11M1225 439h11M1225 444h11M1236 444h11M1258 444h11M1258 452h11M1236 465h11M1424 470h11M1457 470h11M1214 499h11M1269 499h12M1269 512h12M1225 517h11M1225 525h11M1269 525h12M1225 530h11M1258 530h11M1225 546h11M1236 551h11M1258 551h11M1269 551h12M1214 572h11M1225 572h11M1258 572h11M1247 577h11M1225 593h11M1413 593h11M1247 598h11M1413 598h11M1269 606h12M1413 619h11M1236 624h11M1214 632h11M1225 632h11M1236 632h11M1269 632h12M1236 653h11M1247 653h11M1214 658h11M1214 671h11M1391 671h11M1281 679h11M1413 679h11"/>
<path stroke="#e4e4f1" stroke-width="2" d="M1314 170h11M1446 178h11M1225 183h11M1424 191h11M1446 191h11M1281 212h11M1292 212h11M1336 212h11M1391 212h11M1303 230h11M1402 230h11M1258 238h11M1435 238h11M1236 243h11M1435 243h11M1457 243h11M1225 251h11M1314 251h11M1369 251h11M1236 256h11M1225 264h11M1424 264h11M1435 264h11M1446 264h11M1413 272h11M1424 277h11M1413 285h11M1225 290h11M1369 298h11M1413 298h11M1325 303h11M1358 303h11M1369 303h11M1413 303h11M1457 303h11M1325 311h11M1281 324h11M1336 324h11M1435 324h11M1457 324h11M1402 337h11M1380 345h11M1347 350h11M1303 358h11M1325 358h11M1292 363h11M1380 363h11M1391 363h11M1281 371h11M1314 371h11M1336 371h11M1292 397h11M1303 397h11M1325 397h11M1336 397h11M1369 397h11M1391 397h11M1281 405h11M1325 405h11M1336 405h11M1424 405h11M1358 410h11M1358 418h11M1402 418h11M1314 431h11M1336 431h11M1347 431h11M1358 431h11M1457 439h11M1281 457h11M1325 457h11M1358 457h11M1369 457h11M1391 457h11M1457 457h11M1281 465h11M1325 465h11M1380 465h11M1391 465h11M1292 470h11M1325 470h11M1347 470h11M1358 470h11M1380 470h11M1391 470h11M1402 470h11M1281 478h11M1314 478h11M1325 478h11M1391 478h11M1402 478h11M1435 486h11M1457 486h11M1303 491h11M1325 491h11M1413 491h11M1281 499h11M1325 499h11M1336 499h11M1347 499h11M1358 499h11M1369 499h11M1314 504h11M1336 504h11M1347 504h11M1358 504h11M1336 512h11M1347 512h11M1369 517h11M1303 525h11M1358 525h11M1424 525h11M1292 530h11M1303 530h11M1402 530h11M1457 538h11M1281 546h11M1314 546h11M1336 546h11M1358 546h11M1435 546h11M1292 551h11M1424 551h11M1369 564h11M1446 564h11M1325 577h11M1435 577h11M1292 598h11M1325 598h11M1380 598h11M1446 598h11M1281 606h11M1303 606h11M1391 606h11M1457 606h11M1281 611h11M1336 611h11M1380 611h11M1402 611h11M1424 611h11M1457 611h11M1424 619h11M1446 619h11M1457 619h11M1281 624h11M1314 624h11M1336 624h11M1446 624h11M1303 632h11M1336 632h11M1347 632h11M1358 632h11M1380 632h11M1292 637h11M1303 637h11M1314 637h11M1347 637h11M1380 637h11M1325 645h11M1358 645h11M1369 645h11M1424 645h11M1281 653h11M1336 653h11M1347 653h11M1380 658h11M1336 666h11M1358 666h11M1391 666h11M1435 666h11M1369 679h11M1457 679h11M1380 684h11M1314 697h11M1336 697h11M1347 697h11"/>
<path stroke="#6868b4" stroke-width="2" d="M1247 178h11"/>
<path stroke="#ecabab" stroke-width="2" d="M1325 178h11M1391 178h11M1292 238h11M1303 238h11M1336 238h11M1281 256h11M1325 256h11M1369 256h11M1281 277h11M1336 277h11M1347 277h11M1391 277h11M1391 290h11M1236 298h11M1269 298h12M1269 311h12M1269 319h12M1225 324h11M1214 337h11M1236 337h11M1225 345h11M1236 350h11M1247 350h11M1236 358h11M1247 358h11M1258 358h11M1214 371h11M1225 371h11M1225 397h11M1457 397h11M1269 410h12M1247 418h11M1269 431h12M1247 444h11M1214 452h11M1225 457h11M1225 465h11M1247 486h11M1247 504h11M1247 517h11M1214 546h11M1236 572h11M1236 577h11M1214 585h11M1236 606h11M1225 624h11M1258 624h11M1413 632h11M1214 653h11M1214 666h11M1413 671h11M1258 692h11M1225 697h11"/>
<path stroke="#e99f9f" stroke-width="3" d="M1413 180.5h11M1325 193.5h11M1380 193.5h11M1402 219.5h11M1303 235.5h11M1214 295.5h11M1214 305.5h11M1214 308.5h11M1269 308.5h12M1413 321.5h11M1413 334.5h11M1214 339.5h11M1214 360.5h11M1214 365.5h11M1269 368.5h12M1214 373.5h11M1236 376.5h11M1247 376.5h11M1258 376.5h11M1225 386.5h11M1214 394.5h11M1214 399.5h11M1236 399.5h11M1269 399.5h12M1258 433.5h11M1214 441.5h11M1225 441.5h11M1247 449.5h11M1214 454.5h11M1225 454.5h11M1247 454.5h11M1225 459.5h11M1236 459.5h11M1247 459.5h11M1247 462.5h11M1258 467.5h11M1214 475.5h11M1214 480.5h11M1236 480.5h11M1247 480.5h11M1247 488.5h11M1269 493.5h12M1247 506.5h11M1247 535.5h11M1214 540.5h11M1225 553.5h11M1214 561.5h11M1413 566.5h11M1413 569.5h11M1236 579.5h11M1258 579.5h11M1413 579.5h11M1214 582.5h11M1236 582.5h11M1214 587.5h11M1214 600.5h11M1413 600.5h11M1225 608.5h11M1258 608.5h11M1214 626.5h11M1225 629.5h11M1413 634.5h11M1214 639.5h11M1214 650.5h11M1214 655.5h11M1236 655.5h11M1225 668.5h11M1413 676.5h11M1236 686.5h11M1225 694.5h11M1247 694.5h11M1225 699.5h11"/>
<path stroke="#ecabab" stroke-width="3" d="M1369 193.5h11M1281 219.5h11M1336 219.5h11M1347 222.5h11M1281 245.5h11M1336 245.5h11M1347 245.5h11M1336 248.5h11M1325 292.5h11M1402 292.5h11M1236 295.5h11M1247 295.5h11M1236 305.5h11M1225 316.5h11M1236 316.5h11M1258 321.5h11M1269 321.5h12M1247 329.5h11M1258 329.5h11M1269 334.5h12M1258 339.5h11M1236 342.5h11M1258 342.5h11M1258 347.5h11M1236 352.5h11M1258 355.5h11M1225 365.5h11M1236 365.5h11M1225 373.5h11M1258 373.5h11M1269 373.5h12M1214 376.5h11M1236 386.5h11M1247 386.5h11M1258 386.5h11M1269 386.5h12M1225 394.5h11M1258 394.5h11M1225 399.5h11M1225 402.5h11M1269 407.5h12M1225 412.5h11M1269 412.5h12M1236 425.5h11M1258 428.5h11M1269 428.5h12M1236 446.5h11M1225 449.5h11M1258 449.5h11M1214 459.5h11M1258 459.5h11M1269 472.5h12M1225 493.5h11M1236 496.5h11M1236 506.5h11M1258 506.5h11M1247 509.5h11M1236 532.5h11M1214 535.5h11M1225 535.5h11M1258 540.5h11M1269 540.5h12M1225 543.5h11M1236 543.5h11M1225 548.5h11M1236 548.5h11M1258 548.5h11M1258 553.5h11M1269 556.5h12M1225 579.5h11M1214 595.5h11M1413 613.5h11M1214 621.5h11M1236 629.5h11M1225 634.5h11M1269 634.5h12M1247 639.5h11M1258 639.5h11M1225 642.5h11M1236 642.5h11M1247 642.5h11M1258 642.5h11M1413 647.5h11M1236 650.5h11M1247 650.5h11M1258 668.5h11M1413 673.5h11M1214 681.5h11M1214 686.5h11M1236 694.5h11M1236 699.5h11M1258 699.5h11M1269 699.5h12"/>
<path stroke="#eeb7b7" stroke-width="2" d="M1303 196h11M1292 256h11M1336 256h11M1347 256h11M1391 256h11M1347 272h11M1358 272h11M1391 272h11M1402 272h11M1325 277h11M1369 277h11M1303 290h11M1325 290h11M1214 298h11M1247 298h11M1214 303h11M1236 303h11M1269 303h12M1214 311h11M1236 311h11M1258 311h11M1258 324h11M1413 324h11M1236 332h11M1413 337h11M1236 345h11M1258 350h11M1214 358h11M1236 371h11M1269 371h12M1236 379h11M1247 397h11M1214 418h11M1236 423h11M1424 423h11M1247 431h11M1258 431h11M1225 452h11M1247 452h11M1269 452h12M1258 457h11M1247 465h11M1269 486h12M1236 499h11M1214 530h11M1225 538h11M1247 538h11M1247 546h11M1214 551h11M1214 559h11M1269 559h12M1225 577h11M1269 577h12M1214 598h11M1247 606h11M1258 606h11M1413 611h11M1236 619h11M1258 619h11M1413 624h11M1247 645h11M1413 658h11M1413 666h11M1236 692h11M1247 697h11M1258 697h11"/>
<path stroke="#7676bb" stroke-width="3" d="M1247 201.5h11M1214 214.5h11M1269 245.5h12M1446 258.5h11M1247 266.5h11M1247 282.5h11M1269 282.5h12M1314 475.5h11"/>
<path stroke="#5a5aad" stroke-width="2" d="M1247 212h11"/>
<path stroke="#e69393" stroke-width="3" d="M1369 219.5h11M1391 219.5h11M1258 308.5h11M1247 334.5h11M1236 339.5h11M1269 339.5h12M1247 355.5h11M1214 368.5h11M1236 368.5h11M1258 368.5h11M1236 394.5h11M1247 394.5h11M1247 399.5h11M1247 412.5h11M1269 425.5h12M1236 433.5h11M1247 433.5h11M1247 446.5h11M1236 454.5h11M1258 454.5h11M1225 462.5h11M1236 493.5h11M1247 496.5h11M1247 514.5h11M1225 540.5h11M1236 540.5h11M1247 540.5h11M1236 556.5h11M1225 574.5h11M1247 579.5h11M1413 590.5h11M1214 608.5h11M1236 608.5h11M1214 613.5h11M1413 616.5h11M1413 621.5h11M1214 629.5h11M1214 634.5h11M1214 642.5h11M1413 663.5h11"/>
<path stroke="#6868b4" stroke-width="3" d="M1214 227.5h11M1247 227.5h11M1292 689.5h11"/>
<path stroke="#5a5aad" stroke-width="3" d="M1247 245.5h11M1258 282.5h11"/>
<path stroke="#e99f9f" stroke-width="2" d="M1358 256h11M1380 256h11M1225 298h11M1247 311h11M1214 324h11M1214 345h11M1247 345h11M1236 397h11M1225 410h11M1236 410h11M1247 410h11M1258 410h11M1236 431h11M1236 452h11M1214 457h11M1247 457h11M1269 457h12M1247 491h11M1225 499h11M1258 499h11M1247 512h11M1214 517h11M1247 525h11M1236 546h11M1413 564h11M1225 606h11M1214 619h11M1269 619h12M1214 624h11M1214 637h11M1247 684h11M1236 697h11"/>
<path stroke="#4d4da6" stroke-width="3" d="M1247 279.5h11M1258 279.5h11"/>
<path stroke="#e38787" stroke-width="3" d="M1225 295.5h11M1214 321.5h11M1225 321.5h11M1247 321.5h11M1247 339.5h11M1225 342.5h11M1247 365.5h11M1225 368.5h11M1247 373.5h11M1225 407.5h11M1247 407.5h11M1269 454.5h12M1236 462.5h11M1236 467.5h11M1247 467.5h11M1247 501.5h11M1247 532.5h11M1214 574.5h11M1214 579.5h11"/>
<path stroke="#e69393" stroke-width="2" d="M1258 298h11M1214 319h11M1236 324h11M1247 324h11M1247 337h11M1225 358h11M1214 444h11M1214 593h11M1225 619h11M1225 684h11M1236 684h11M1258 684h11"/>
<path stroke="#e17b7b" stroke-width="3" d="M1225 308.5h11M1236 321.5h11M1225 339.5h11M1225 355.5h11M1214 407.5h11M1225 425.5h11M1236 428.5h11M1247 428.5h11M1214 467.5h11M1225 467.5h11M1269 467.5h12M1247 493.5h11M1214 590.5h11M1214 694.5h11M1214 699.5h11"/>
<path stroke="#de6f6f" stroke-width="2" d="M1225 319h11M1247 319h11M1258 319h11M1236 457h11M1214 470h11M1247 470h11M1258 470h11M1247 499h11M1214 684h11M1214 692h11"/>
<path stroke="#e38787" stroke-width="2" d="M1236 319h11M1247 371h11M1214 410h11M1269 470h12M1214 577h11M1214 611h11M1269 684h12"/>
<path stroke="#de6f6f" stroke-width="3" d="M1247 368.5h11M1236 373.5h11M1236 407.5h11M1214 647.5h11"/>
<path stroke="#e17b7b" stroke-width="2" d="M1225 470h11M1236 470h11M1247 530h11M1214 606h11M1214 645h11M1214 697h11"/>
<path stroke="#db6363" stroke-width="2" d="M1413 645h11"/>
</g>
<g shape-rendering="crispEdges">
<rect x="1480.9" y="168.60" width="13" height="3.63" fill="#ce2a2a"/>
<rect x="1480.9" y="171.94" width="13" height="3.63" fill="#d03232"/>
<rect x="1480.9" y="175.27" width="13" height="3.63" fill="#d23a3a"/>
<rect x="1480.9" y="178.60" width="13" height="3.63" fill="#d34242"/>
<rect x="1480.9" y="181.94" width="13" height="3.63" fill="#d54a4a"/>
<rect x="1480.9" y="185.28" width="13" height="3.63" fill="#d75252"/>
<rect x="1480.9" y="188.61" width="13" height="3.63" fill="#d95a5a"/>
<rect x="1480.9" y="191.94" width="13" height="3.63" fill="#db6262"/>
<rect x="1480.9" y="195.28" width="13" height="3.63" fill="#dd6969"/>
<rect x="1480.9" y="198.62" width="13" height="3.63" fill="#de7171"/>
<rect x="1480.9" y="201.95" width="13" height="3.63" fill="#e07979"/>
<rect x="1480.9" y="205.28" width="13" height="3.63" fill="#e28181"/>
<rect x="1480.9" y="208.62" width="13" height="3.63" fill="#e48888"/>
<rect x="1480.9" y="211.95" width="13" height="3.63" fill="#e59090"/>
<rect x="1480.9" y="215.29" width="13" height="3.63" fill="#e79797"/>
<rect x="1480.9" y="218.62" width="13" height="3.63" fill="#e99f9f"/>
<rect x="1480.9" y="221.96" width="13" height="3.63" fill="#eba6a6"/>
<rect x="1480.9" y="225.29" width="13" height="3.63" fill="#ecaeae"/>
<rect x="1480.9" y="228.63" width="13" height="3.63" fill="#eeb5b5"/>
<rect x="1480.9" y="231.97" width="13" height="3.63" fill="#f0bcbc"/>
<rect x="1480.9" y="235.30" width="13" height="3.63" fill="#f1c4c4"/>
<rect x="1480.9" y="238.63" width="13" height="3.63" fill="#f3cbcb"/>
<rect x="1480.9" y="241.97" width="13" height="3.63" fill="#f5d2d2"/>
<rect x="1480.9" y="245.31" width="13" height="3.63" fill="#f6d9d9"/>
<rect x="1480.9" y="248.64" width="13" height="3.63" fill="#f8e0e0"/>
<rect x="1480.9" y="251.97" width="13" height="3.63" fill="#f9e6e6"/>
<rect x="1480.9" y="255.31" width="13" height="3.63" fill="#fbeded"/>
<rect x="1480.9" y="258.64" width="13" height="3.63" fill="#fcf3f3"/>
<rect x="1480.9" y="261.98" width="13" height="3.63" fill="#fef9f9"/>
<rect x="1480.9" y="265.31" width="13" height="3.63" fill="#ffffff"/>
<rect x="1480.9" y="268.65" width="13" height="3.63" fill="#fdfdfe"/>
<rect x="1480.9" y="271.99" width="13" height="3.63" fill="#f9f9fc"/>
<rect x="1480.9" y="275.32" width="13" height="3.63" fill="#f4f4fa"/>
<rect x="1480.9" y="278.65" width="13" height="3.63" fill="#efeff7"/>
<rect x="1480.9" y="281.99" width="13" height="3.63" fill="#e9e9f4"/>
<rect x="1480.9" y="285.32" width="13" height="3.63" fill="#e3e3f1"/>
<rect x="1480.9" y="288.66" width="13" height="3.63" fill="#ddddee"/>
<rect x="1480.9" y="292.00" width="13" height="3.63" fill="#d6d6ea"/>
<rect x="1480.9" y="295.33" width="13" height="3.63" fill="#cecee7"/>
<rect x="1480.9" y="298.66" width="13" height="3.63" fill="#c7c7e3"/>
<rect x="1480.9" y="302.00" width="13" height="3.63" fill="#bfbfdf"/>
<rect x="1480.9" y="305.33" width="13" height="3.63" fill="#b7b7db"/>
<rect x="1480.9" y="308.67" width="13" height="3.63" fill="#afafd7"/>
<rect x="1480.9" y="312.00" width="13" height="3.63" fill="#a6a6d3"/>
<rect x="1480.9" y="315.34" width="13" height="3.63" fill="#9e9ecf"/>
<rect x="1480.9" y="318.67" width="13" height="3.63" fill="#9595ca"/>
<rect x="1480.9" y="322.01" width="13" height="3.63" fill="#8c8cc6"/>
<rect x="1480.9" y="325.35" width="13" height="3.63" fill="#8282c1"/>
<rect x="1480.9" y="328.68" width="13" height="3.63" fill="#7979bc"/>
<rect x="1480.9" y="332.01" width="13" height="3.63" fill="#6f6fb7"/>
<rect x="1480.9" y="335.35" width="13" height="3.63" fill="#6565b2"/>
<rect x="1480.9" y="338.69" width="13" height="3.63" fill="#5b5bad"/>
<rect x="1480.9" y="342.02" width="13" height="3.63" fill="#5151a8"/>
<rect x="1480.9" y="345.36" width="13" height="3.63" fill="#4747a3"/>
<rect x="1480.9" y="348.69" width="13" height="3.63" fill="#3c3c9e"/>
<rect x="1480.9" y="352.02" width="13" height="3.63" fill="#323299"/>
<rect x="1480.9" y="355.36" width="13" height="3.63" fill="#272793"/>
<rect x="1480.9" y="358.69" width="13" height="3.63" fill="#1c1c8e"/>
<rect x="1480.9" y="362.03" width="13" height="3.63" fill="#111188"/>
<rect x="1480.9" y="365.37" width="13" height="3.63" fill="#060683"/>
</g>
<text x="1499.2" y="186.4" font-size="21">4</text>
<text x="1499.2" y="230.1" font-size="21">2</text>
<text x="1499.2" y="273.9" font-size="21">0</text>
<text x="1499.2" y="317.6" font-size="21">−2</text>
<text x="1499.2" y="361.4" font-size="21">−4</text>
<text transform="translate(1541.5 261.7) rotate(90)" font-size="20.5" text-anchor="middle">scaled counts</text>
<rect x="1483.6" y="410" width="17" height="16.7" fill="#0000ff" shape-rendering="crispEdges"/>
<rect x="1483.6" y="426.7" width="17" height="17.5" fill="#00ff00" shape-rendering="crispEdges"/>
<rect x="1483.6" y="452.8" width="17" height="16.5" fill="#9400d3" shape-rendering="crispEdges"/>
<rect x="1483.6" y="469.3" width="17" height="16.8" fill="#ff1493" shape-rendering="crispEdges"/>
<rect x="1483.6" y="500" width="17" height="16.5" fill="#000000" shape-rendering="crispEdges"/>
<rect x="1483.6" y="516.5" width="17" height="17.1" fill="#ff0000" shape-rendering="crispEdges"/>
<text x="1509.6" y="423.9" font-size="21">SAL</text>
<text x="1509.6" y="443.6" font-size="21">LPS</text>
<text x="1509.6" y="466.7" font-size="21">Ctx</text>
<text x="1509.6" y="488.6" font-size="21">Str</text>
<text x="1509.6" y="513.9" font-size="21">CON</text>
<text x="1509.6" y="535.7" font-size="21">MIA</text>
<g stroke="#000" stroke-width="1.8" fill="none">
<path d="M1207.8 154.7V292.3M1202.3 154.7H1214M1202.3 292.3H1214M1202.3 295.9H1214M1207.8 295.9V701M1202.3 701H1214"/>
</g>
<text transform="translate(1136.5 278) rotate(-90)" font-size="25">blunted:</text>
<text transform="translate(1166.3 278) rotate(-90)" font-size="25">MIA failed</text>
<text transform="translate(1196.1 278) rotate(-90)" font-size="25">repression</text>
<text transform="translate(1196.1 628.6) rotate(-90)" font-size="25">blunted: MIA failed induction</text>
<text x="1871" y="43.8" font-size="29" text-anchor="middle">LPS Response Difference</text>
<text x="1871" y="78.1" font-size="29" text-anchor="middle">between MIA &amp; CON</text>
<rect x="1748.10" y="91.2" width="121.43" height="16.7" fill="#00ff00" shape-rendering="crispEdges"/>
<rect x="1869.53" y="91.2" width="132.47" height="16.7" fill="#0000ff" shape-rendering="crispEdges"/>
<rect x="1748.10" y="111.7" width="11.04" height="16.9" fill="#9400d3" shape-rendering="crispEdges"/>
<rect x="1759.14" y="111.7" width="11.04" height="16.9" fill="#ff1493" shape-rendering="crispEdges"/>
<rect x="1770.18" y="111.7" width="22.08" height="16.9" fill="#9400d3" shape-rendering="crispEdges"/>
<rect x="1792.26" y="111.7" width="22.08" height="16.9" fill="#ff1493" shape-rendering="crispEdges"/>
<rect x="1814.33" y="111.7" width="33.12" height="16.9" fill="#9400d3" shape-rendering="crispEdges"/>
<rect x="1847.45" y="111.7" width="22.08" height="16.9" fill="#ff1493" shape-rendering="crispEdges"/>
<rect x="1869.53" y="111.7" width="33.12" height="16.9" fill="#9400d3" shape-rendering="crispEdges"/>
<rect x="1902.65" y="111.7" width="33.12" height="16.9" fill="#ff1493" shape-rendering="crispEdges"/>
<rect x="1935.77" y="111.7" width="22.08" height="16.9" fill="#9400d3" shape-rendering="crispEdges"/>
<rect x="1957.84" y="111.7" width="22.08" height="16.9" fill="#ff1493" shape-rendering="crispEdges"/>
<rect x="1979.92" y="111.7" width="11.04" height="16.9" fill="#9400d3" shape-rendering="crispEdges"/>
<rect x="1990.96" y="111.7" width="11.04" height="16.9" fill="#ff1493" shape-rendering="crispEdges"/>
<rect x="1748.10" y="132.2" width="66.23" height="17" fill="#000000" shape-rendering="crispEdges"/>
<rect x="1814.33" y="132.2" width="55.20" height="17" fill="#ff0000" shape-rendering="crispEdges"/>
<rect x="1869.53" y="132.2" width="66.23" height="17" fill="#000000" shape-rendering="crispEdges"/>
<rect x="1935.77" y="132.2" width="66.23" height="17" fill="#ff0000" shape-rendering="crispEdges"/>
<text x="2009" y="106" font-size="20.8">Trt</text>
<text x="2009" y="126" font-size="20.8">Region</text>
<text x="2009" y="145.5" font-size="20.8">Group</text>
<g fill="none" shape-rendering="crispEdges">
<path stroke="#f7dbdb" stroke-width="7" d="M1748 158.5h11M1759 158.5h11M1770 158.5h11M1781 158.5h11M1792 158.5h11M1847 158.5h11M1858 158.5h12M1781 171.5h11M1814 191.5h11M1814 204.5h11M1847 204.5h11M1825 224.5h11M1825 250.5h11M1759 257.5h11M1781 270.5h11M1814 303.5h11M1803 316.5h11M1814 316.5h11M1814 323.5h11M1792 448.5h11M1958 448.5h11M1991 448.5h11M1936 494.5h11M1947 494.5h11M1936 501.5h11M1770 514.5h11M1936 514.5h11M1958 514.5h11M1770 527.5h11M1936 527.5h11M1947 527.5h11M1770 534.5h11M1781 534.5h11M1936 534.5h11M1947 534.5h11M1958 534.5h11M1748 547.5h11M1781 547.5h11M1836 547.5h11M1847 547.5h11M1958 547.5h11M1781 560.5h11M1814 560.5h11M1991 560.5h11M1748 567.5h11M1814 567.5h11M1947 567.5h11M1958 567.5h11M1980 567.5h11M1991 567.5h11M1814 666.5h11"/>
<path stroke="#d64d4d" stroke-width="7" d="M1803 158.5h11M1781 461.5h11M1759 468.5h11M1792 527.5h11M1870 692.5h11"/>
<path stroke="#eaeaf5" stroke-width="7" d="M1814 158.5h11M1836 158.5h11M1914 158.5h11M1958 158.5h11M1991 158.5h11M1825 184.5h11M1836 184.5h11M1892 191.5h11M1914 217.5h11M1858 224.5h12M1825 237.5h11M1947 257.5h11M1980 290.5h11M1991 290.5h11M1847 303.5h11M1892 303.5h11M1847 323.5h11M1858 323.5h12M1870 323.5h11M1991 323.5h11M1836 349.5h11M1980 349.5h11M1980 356.5h11M1847 369.5h11M1825 389.5h11M1825 402.5h11M1847 402.5h11M1969 402.5h11M1847 415.5h11M1870 415.5h11M1925 415.5h11M1936 415.5h11M1858 422.5h12M1870 435.5h11M1980 435.5h11M1980 448.5h11M1825 461.5h11M1958 468.5h11M1991 468.5h11M1792 494.5h11M1814 494.5h11M1836 501.5h11M1858 501.5h12M1958 501.5h11M1803 527.5h11M1847 527.5h11M1858 527.5h12M1881 527.5h11M1847 534.5h11M1803 547.5h11M1947 547.5h11M1825 567.5h11M1858 567.5h12M1969 567.5h11M1770 580.5h11M1870 593.5h11M1958 593.5h11M1870 613.5h11M1936 613.5h11M1770 626.5h11M1858 626.5h12M1969 626.5h11M1836 633.5h11M1958 633.5h11M1969 633.5h11M1814 679.5h11M1925 699.5h11"/>
<path stroke="#ffffff" stroke-width="7" d="M1825 158.5h11M1814 171.5h11M1825 171.5h11M1847 171.5h11M1847 184.5h11M1858 184.5h12M1947 184.5h11M1980 184.5h11M1825 191.5h11M1847 191.5h11M1858 191.5h12M1947 191.5h11M1825 204.5h11M1836 204.5h11M1980 204.5h11M1825 217.5h11M1836 217.5h11M1847 217.5h11M1858 217.5h12M1847 224.5h11M1836 237.5h11M1858 237.5h12M1847 250.5h11M1936 250.5h11M1825 257.5h11M1836 257.5h11M1836 290.5h11M1870 290.5h11M1936 290.5h11M1803 303.5h11M1825 303.5h11M1836 303.5h11M1870 303.5h11M1936 303.5h11M1825 316.5h11M1858 316.5h12M1825 336.5h11M1836 336.5h11M1847 336.5h11M1858 336.5h12M1825 349.5h11M1847 349.5h11M1858 349.5h12M1825 356.5h11M1847 356.5h11M1858 356.5h12M1825 369.5h11M1836 369.5h11M1858 369.5h12M1969 369.5h11M1825 382.5h11M1836 382.5h11M1847 382.5h11M1858 382.5h12M1858 402.5h12M1792 435.5h11M1825 435.5h11M1836 435.5h11M1969 435.5h11M1991 435.5h11M1825 448.5h11M1969 448.5h11M1836 461.5h11M1947 461.5h11M1969 461.5h11M1792 468.5h11M1814 481.5h11M1870 481.5h11M1881 481.5h11M1969 481.5h11M1980 481.5h11M1847 494.5h11M1847 501.5h11M1870 501.5h11M1991 501.5h11M1792 514.5h11M1814 514.5h11M1903 514.5h11M1925 514.5h11M1991 514.5h11M1781 527.5h11M1814 527.5h11M1825 527.5h11M1836 527.5h11M1803 534.5h11M1825 534.5h11M1858 534.5h12M1903 534.5h11M1969 534.5h11M1980 534.5h11M1825 547.5h11M1991 547.5h11M1770 560.5h11M1858 560.5h12M1881 560.5h11M1781 567.5h11M1847 567.5h11M1870 567.5h11M1781 580.5h11M1814 580.5h11M1870 580.5h11M1892 580.5h11M1914 580.5h11M1936 580.5h11M1947 580.5h11M1991 580.5h11M1803 593.5h11M1814 593.5h11M1925 593.5h11M1947 593.5h11M1991 593.5h11M1803 600.5h11M1847 600.5h11M1858 600.5h12M1947 600.5h11M1969 600.5h11M1792 613.5h11M1803 613.5h11M1814 613.5h11M1825 613.5h11M1958 613.5h11M1969 613.5h11M1892 626.5h11M1903 626.5h11M1814 633.5h11M1825 633.5h11M1903 633.5h11M1991 633.5h11M1836 646.5h11M1881 646.5h11M1936 646.5h11M1836 666.5h11M1936 666.5h11M1847 679.5h11M1858 679.5h12M1914 679.5h11M1936 679.5h11M1958 679.5h11M1781 692.5h11M1803 692.5h11M1836 692.5h11M1847 692.5h11M1969 692.5h11M1991 692.5h11M1847 699.5h11M1858 699.5h12M1936 699.5h11M1958 699.5h11"/>
<path stroke="#ababd5" stroke-width="7" d="M1870 158.5h11M1936 158.5h11M1947 158.5h11M1881 171.5h11M1892 171.5h11M1925 171.5h11M1936 171.5h11M1947 171.5h11M1958 171.5h11M1991 171.5h11M1870 184.5h11M1881 184.5h11M1925 184.5h11M1991 184.5h11M1925 191.5h11M1936 191.5h11M1870 204.5h11M1881 204.5h11M1892 204.5h11M1947 204.5h11M1870 217.5h11M1925 217.5h11M1947 217.5h11M1980 217.5h11M1881 224.5h11M1903 224.5h11M1914 224.5h11M1936 224.5h11M1947 224.5h11M1958 224.5h11M1969 224.5h11M1980 224.5h11M1991 224.5h11M1881 237.5h11M1914 237.5h11M1958 237.5h11M1969 237.5h11M1980 237.5h11M1991 237.5h11M1881 250.5h11M1991 250.5h11M1892 257.5h11M1903 257.5h11M1914 257.5h11M1892 270.5h11M1903 270.5h11M1925 270.5h11M1936 270.5h11M1958 270.5h11M1969 270.5h11M1936 283.5h11M1947 283.5h11M1969 283.5h11M1980 283.5h11M1892 290.5h11M1925 290.5h11M1969 290.5h11M1881 303.5h11M1903 303.5h11M1958 303.5h11M1969 303.5h11M1980 303.5h11M1870 316.5h11M1881 316.5h11M1947 316.5h11M1991 316.5h11M1881 323.5h11M1925 323.5h11M1936 323.5h11M1947 323.5h11M1958 323.5h11M1870 336.5h11M1881 336.5h11M1892 336.5h11M1903 336.5h11M1925 336.5h11M1958 336.5h11M1991 336.5h11M1870 349.5h11M1881 349.5h11M1947 349.5h11M1991 349.5h11M1870 356.5h11M1881 356.5h11M1947 356.5h11M1969 356.5h11M1991 356.5h11M1881 382.5h11M1892 382.5h11M1903 382.5h11M1914 382.5h11M1947 382.5h11M1969 382.5h11M1980 382.5h11M1870 389.5h11M1903 389.5h11M1947 389.5h11M1969 389.5h11M1925 402.5h11M1947 402.5h11M1836 415.5h11M1881 415.5h11M1892 415.5h11M1903 415.5h11M1947 415.5h11M1958 415.5h11M1969 415.5h11M1980 415.5h11M1991 415.5h11M1847 422.5h11M1903 422.5h11M1947 422.5h11M1858 435.5h12M1892 435.5h11M1914 435.5h11M1925 435.5h11M1936 435.5h11M1858 448.5h12M1881 448.5h11M1892 448.5h11M1903 448.5h11M1847 461.5h11M1936 461.5h11M1825 468.5h11M1870 468.5h11M1881 468.5h11M1925 468.5h11M1858 481.5h12M1914 481.5h11M1936 481.5h11M1958 481.5h11M1825 494.5h11M1870 494.5h11M1881 494.5h11M1892 494.5h11M1914 494.5h11M1947 501.5h11M1969 501.5h11M1836 514.5h11M1847 514.5h11M1881 514.5h11M1980 514.5h11M1881 534.5h11M1925 534.5h11M1836 560.5h11M1847 560.5h11M1903 560.5h11M1881 567.5h11M1914 567.5h11M1925 580.5h11M1969 580.5h11M1748 593.5h11M1936 593.5h11M1814 600.5h11M1936 600.5h11M1781 613.5h11M1947 613.5h11M1991 626.5h11M1781 633.5h11M1847 633.5h11M1858 633.5h12M1759 646.5h11M1814 646.5h11M1858 646.5h12M1759 659.5h11M1814 659.5h11M1836 659.5h11M1825 666.5h11M1858 666.5h12M1792 679.5h11M1836 679.5h11M1759 692.5h11M1947 692.5h11M1980 692.5h11M1803 699.5h11M1825 699.5h11M1991 699.5h11"/>
<path stroke="#9696cb" stroke-width="7" d="M1881 158.5h11M1914 171.5h11M1903 184.5h11M1914 184.5h11M1958 184.5h11M1914 191.5h11M1914 204.5h11M1925 204.5h11M1958 204.5h11M1969 204.5h11M1892 217.5h11M1969 217.5h11M1903 237.5h11M1980 250.5h11M1881 257.5h11M1925 257.5h11M1991 270.5h11M1903 290.5h11M1969 316.5h11M1903 323.5h11M1969 336.5h11M1903 349.5h11M1914 349.5h11M1936 349.5h11M1914 356.5h11M1925 356.5h11M1870 369.5h11M1881 369.5h11M1947 369.5h11M1980 369.5h11M1991 382.5h11M1836 389.5h11M1881 389.5h11M1903 435.5h11M1847 448.5h11M1914 448.5h11M1892 468.5h11M1914 468.5h11M1980 468.5h11M1836 481.5h11M1947 481.5h11M1836 494.5h11M1969 494.5h11M1814 501.5h11M1903 501.5h11M1925 501.5h11M1892 527.5h11M1892 534.5h11M1870 547.5h11M1892 567.5h11M1903 567.5h11M1748 580.5h11M1803 580.5h11M1759 593.5h11M1759 600.5h11M1770 600.5h11M1759 613.5h11M1759 633.5h11M1803 633.5h11M1781 646.5h11M1770 659.5h11M1781 659.5h11M1748 666.5h11M1770 666.5h11M1781 666.5h11M1792 666.5h11M1803 666.5h11M1748 679.5h11M1825 679.5h11M1825 692.5h11"/>
<path stroke="#4343a1" stroke-width="7" d="M1892 158.5h11M1925 158.5h11M1858 514.5h12M1914 534.5h11M1748 600.5h11M1803 626.5h11M1748 699.5h11"/>
<path stroke="#c0c0e0" stroke-width="7" d="M1903 158.5h11M1870 171.5h11M1969 171.5h11M1892 184.5h11M1936 184.5h11M1969 184.5h11M1903 191.5h11M1969 191.5h11M1991 191.5h11M1903 204.5h11M1991 204.5h11M1881 217.5h11M1936 217.5h11M1958 217.5h11M1991 217.5h11M1870 224.5h11M1892 224.5h11M1925 224.5h11M1870 237.5h11M1925 237.5h11M1936 237.5h11M1947 237.5h11M1870 250.5h11M1892 250.5h11M1903 250.5h11M1925 250.5h11M1947 250.5h11M1958 250.5h11M1969 250.5h11M1870 257.5h11M1936 257.5h11M1958 257.5h11M1969 257.5h11M1980 257.5h11M1991 257.5h11M1870 270.5h11M1881 270.5h11M1980 270.5h11M1870 283.5h11M1892 283.5h11M1903 283.5h11M1958 283.5h11M1991 283.5h11M1947 290.5h11M1958 290.5h11M1947 303.5h11M1892 316.5h11M1903 316.5h11M1914 316.5h11M1925 316.5h11M1936 316.5h11M1958 316.5h11M1980 316.5h11M1892 323.5h11M1914 323.5h11M1936 336.5h11M1947 336.5h11M1980 336.5h11M1892 349.5h11M1958 349.5h11M1969 349.5h11M1892 356.5h11M1892 369.5h11M1903 369.5h11M1914 369.5h11M1925 369.5h11M1936 369.5h11M1991 369.5h11M1870 382.5h11M1936 382.5h11M1958 382.5h11M1892 389.5h11M1914 389.5h11M1925 389.5h11M1936 389.5h11M1958 389.5h11M1980 389.5h11M1991 389.5h11M1836 402.5h11M1881 402.5h11M1892 402.5h11M1936 402.5h11M1958 402.5h11M1980 402.5h11M1991 402.5h11M1914 415.5h11M1836 422.5h11M1881 422.5h11M1892 422.5h11M1914 422.5h11M1925 422.5h11M1936 422.5h11M1958 422.5h11M1969 422.5h11M1980 422.5h11M1991 422.5h11M1847 435.5h11M1870 448.5h11M1925 448.5h11M1947 448.5h11M1870 461.5h11M1881 461.5h11M1903 461.5h11M1925 461.5h11M1980 461.5h11M1991 461.5h11M1903 468.5h11M1936 468.5h11M1847 481.5h11M1903 481.5h11M1925 481.5h11M1903 494.5h11M1825 501.5h11M1881 501.5h11M1914 501.5h11M1825 514.5h11M1892 514.5h11M1914 514.5h11M1903 547.5h11M1925 547.5h11M1980 547.5h11M1825 560.5h11M1870 560.5h11M1892 560.5h11M1914 560.5h11M1925 560.5h11M1947 560.5h11M1903 580.5h11M1980 580.5h11M1770 593.5h11M1781 593.5h11M1792 600.5h11M1770 613.5h11M1748 626.5h11M1781 626.5h11M1748 633.5h11M1770 633.5h11M1792 633.5h11M1770 646.5h11M1847 646.5h11M1792 659.5h11M1803 659.5h11M1825 659.5h11M1847 659.5h11M1858 659.5h12M1759 666.5h11M1770 679.5h11M1803 679.5h11M1792 692.5h11M1814 692.5h11M1958 692.5h11M1759 699.5h11M1770 699.5h11M1792 699.5h11"/>
<path stroke="#d5d5ea" stroke-width="7" d="M1969 158.5h11M1980 158.5h11M1980 171.5h11M1870 191.5h11M1881 191.5h11M1903 217.5h11M1947 270.5h11M1881 283.5h11M1858 290.5h12M1881 290.5h11M1914 290.5h11M1858 303.5h12M1991 303.5h11M1836 316.5h11M1836 323.5h11M1980 323.5h11M1958 356.5h11M1847 389.5h11M1858 389.5h12M1870 402.5h11M1825 415.5h11M1858 415.5h12M1825 422.5h11M1870 422.5h11M1881 435.5h11M1836 448.5h11M1958 461.5h11M1836 468.5h11M1847 468.5h11M1892 481.5h11M1858 494.5h12M1958 494.5h11M1892 501.5h11M1980 501.5h11M1969 527.5h11M1980 527.5h11M1991 534.5h11M1936 547.5h11M1792 560.5h11M1803 560.5h11M1969 560.5h11M1792 567.5h11M1803 567.5h11M1836 567.5h11"/>
<path stroke="#efb8b8" stroke-width="6" d="M1748 165h11M1759 178h11M1814 231h11M1803 442h11M1759 475h11M1748 488h11M1759 488h11M1914 620h11M1925 640h11M1892 653h11M1969 653h11M1903 686h11"/>
<path stroke="#eba6a6" stroke-width="6" d="M1759 165h11M1803 165h11M1748 178h11M1792 178h11M1748 198h11M1759 198h11M1792 198h11M1781 211h11M1792 211h11M1814 211h11M1748 231h11M1759 231h11M1770 231h11M1792 231h11M1803 231h11M1781 244h11M1748 264h11M1759 264h11M1770 264h11M1781 264h11M1814 264h11M1847 264h11M1748 277h11M1759 277h11M1770 277h11M1803 277h11M1814 277h11M1825 277h11M1803 297h11M1748 330h11M1759 330h11M1792 330h11M1803 330h11M1792 343h11M1803 343h11M1748 363h11M1770 376h11M1803 376h11M1814 376h11M1748 396h11M1759 396h11M1814 396h11M1814 409h11M1792 429h11M1814 429h11M1814 455h11M1748 475h11M1792 475h11M1748 508h11M1781 508h11M1792 508h11M1803 508h11M1748 521h11M1781 521h11M1748 541h11M1759 541h11M1759 554h11M1792 554h11M1803 554h11M1814 554h11M1947 554h11M1969 554h11M1748 574h11M1980 574h11M1991 574h11M1825 587h11M1836 587h11M1858 587h12M1881 607h11M1892 607h11M1903 607h11M1925 607h11M1969 607h11M1825 620h11M1881 620h11M1903 620h11M1925 620h11M1947 620h11M1870 640h11M1881 640h11M1969 640h11M1980 640h11M1870 653h11M1936 653h11M1947 653h11M1958 653h11M1870 673h11M1892 673h11M1903 673h11M1914 673h11M1925 673h11M1947 673h11M1969 673h11M1870 686h11M1881 686h11M1925 686h11M1969 686h11M1980 686h11"/>
<path stroke="#de7171" stroke-width="6" d="M1770 165h11M1781 165h11M1792 165h11M1781 231h11M1792 244h11M1803 244h11M1792 264h11M1781 277h11M1748 297h11M1792 297h11M1759 310h11M1770 310h11M1770 363h11M1748 376h11M1781 376h11M1781 396h11M1748 409h11M1781 409h11M1748 429h11M1770 429h11M1748 442h11M1770 442h11M1759 455h11M1770 455h11M1770 475h11M1781 475h11M1770 488h11M1781 488h11M1947 574h11M1870 607h11M1914 607h11M1858 620h12M1914 686h11"/>
<path stroke="#e69494" stroke-width="6" d="M1814 165h11M1781 178h11M1803 178h11M1781 198h11M1759 211h11M1759 244h11M1770 244h11M1803 264h11M1825 264h11M1858 264h12M1858 277h12M1759 297h11M1770 297h11M1781 297h11M1748 310h11M1792 310h11M1814 343h11M1814 363h11M1792 376h11M1770 396h11M1803 396h11M1759 409h11M1803 409h11M1803 429h11M1814 442h11M1770 521h11M1803 521h11M1781 541h11M1814 587h11M1914 587h11M1980 607h11M1892 620h11M1969 620h11M1958 640h11M1991 640h11M1903 653h11M1914 653h11M1980 653h11M1991 653h11M1881 673h11M1980 673h11M1991 673h11M1892 686h11M1947 686h11"/>
<path stroke="#ffffff" stroke-width="6" d="M1825 165h11M1858 165h12M1825 178h11M1836 178h11M1847 178h11M1858 178h12M1836 198h11M1847 198h11M1980 198h11M1858 211h12M1847 231h11M1825 297h11M1836 297h11M1847 297h11M1870 297h11M1803 310h11M1825 310h11M1847 310h11M1858 310h12M1825 330h11M1836 330h11M1825 343h11M1847 343h11M1847 363h11M1825 376h11M1836 396h11M1925 396h11M1847 409h11M1825 429h11M1870 429h11M1958 429h11M1980 429h11M1825 442h11M1836 442h11M1858 442h12M1903 475h11M1947 475h11M1980 475h11M1991 475h11M1814 488h11M1881 488h11M1903 488h11M1925 488h11M1936 488h11M1991 488h11M1814 508h11M1870 508h11M1892 508h11M1903 508h11M1969 508h11M1991 508h11M1825 521h11M1903 521h11M1914 521h11M1925 521h11M1991 521h11M1836 541h11M1847 541h11M1903 541h11M1836 554h11M1847 554h11M1936 554h11M1759 574h11M1770 574h11M1847 574h11M1870 574h11M1969 574h11M1770 587h11M1881 587h11M1903 587h11M1936 587h11M1781 607h11M1803 607h11M1825 607h11M1836 607h11M1858 607h12M1947 607h11M1958 607h11M1991 607h11M1792 620h11M1936 620h11M1814 640h11M1892 640h11M1936 640h11M1825 653h11M1814 673h11M1836 673h11M1847 673h11M1858 673h12M1936 673h11M1814 686h11M1847 686h11M1858 686h12M1958 686h11M1991 686h11"/>
<path stroke="#f3caca" stroke-width="6" d="M1836 165h11M1847 211h11M1836 264h11M1814 297h11M1870 475h11M1936 521h11M1936 541h11M1947 541h11M1770 554h11"/>
<path stroke="#fbeded" stroke-width="6" d="M1847 165h11M1825 198h11M1947 198h11M1825 211h11M1836 211h11M1936 211h11M1825 231h11M1836 244h11M1936 297h11M1858 343h12M1936 455h11M1881 475h11M1958 475h11M1969 475h11M1870 488h11M1770 508h11M1936 508h11M1947 508h11M1759 521h11M1814 521h11M1803 541h11M1991 541h11M1958 554h11M1870 587h11M1892 587h11M1958 587h11M1969 587h11M1814 607h11M1980 620h11M1847 640h11M1958 673h11"/>
<path stroke="#c0c0e0" stroke-width="6" d="M1870 165h11M1881 165h11M1936 165h11M1991 165h11M1870 178h11M1958 178h11M1969 178h11M1870 198h11M1969 198h11M1914 211h11M1925 211h11M1870 231h11M1914 231h11M1947 231h11M1980 231h11M1870 244h11M1881 244h11M1969 244h11M1991 244h11M1881 264h11M1903 264h11M1925 264h11M1980 264h11M1991 264h11M1914 277h11M1936 277h11M1947 277h11M1991 277h11M1892 297h11M1914 297h11M1958 297h11M1925 310h11M1991 310h11M1858 330h12M1892 330h11M1903 330h11M1969 330h11M1991 330h11M1892 343h11M1958 343h11M1969 343h11M1991 343h11M1870 363h11M1925 363h11M1969 363h11M1847 376h11M1870 376h11M1881 376h11M1914 376h11M1925 376h11M1969 376h11M1881 396h11M1980 396h11M1991 396h11M1870 409h11M1991 409h11M1936 429h11M1969 429h11M1881 442h11M1914 442h11M1969 442h11M1825 455h11M1870 455h11M1947 455h11M1958 455h11M1969 455h11M1892 475h11M1925 475h11M1825 508h11M1847 521h11M1881 521h11M1892 521h11M1947 521h11M1958 541h11M1781 574h11M1903 574h11M1748 620h11M1759 620h11M1958 620h11M1770 653h11M1858 653h12M1759 686h11M1781 686h11M1825 686h11M1836 686h11"/>
<path stroke="#ababd5" stroke-width="6" d="M1892 165h11M1892 178h11M1925 178h11M1947 178h11M1991 178h11M1881 198h11M1892 198h11M1925 198h11M1936 198h11M1991 198h11M1870 211h11M1881 211h11M1947 211h11M1958 211h11M1969 211h11M1980 211h11M1991 211h11M1881 231h11M1892 231h11M1903 231h11M1936 231h11M1969 231h11M1991 231h11M1892 244h11M1903 244h11M1914 244h11M1925 244h11M1936 244h11M1947 244h11M1958 244h11M1870 264h11M1892 264h11M1914 264h11M1936 264h11M1947 264h11M1958 264h11M1969 264h11M1870 277h11M1881 277h11M1903 277h11M1925 277h11M1969 277h11M1881 297h11M1903 297h11M1947 297h11M1980 297h11M1870 310h11M1881 310h11M1892 310h11M1903 310h11M1914 310h11M1936 310h11M1969 310h11M1980 310h11M1847 330h11M1914 330h11M1936 330h11M1980 330h11M1870 343h11M1881 343h11M1936 343h11M1881 363h11M1914 363h11M1947 363h11M1980 363h11M1991 363h11M1903 376h11M1936 376h11M1947 376h11M1958 376h11M1980 376h11M1825 396h11M1870 396h11M1903 396h11M1881 409h11M1903 409h11M1925 409h11M1947 409h11M1958 409h11M1969 409h11M1980 409h11M1881 429h11M1914 429h11M1870 442h11M1892 442h11M1903 442h11M1925 442h11M1947 442h11M1980 442h11M1991 442h11M1847 455h11M1858 455h12M1903 455h11M1925 455h11M1914 488h11M1958 488h11M1969 488h11M1836 508h11M1881 508h11M1925 508h11M1836 521h11M1980 521h11M1825 541h11M1881 541h11M1892 541h11M1781 554h11M1914 554h11M1792 574h11M1881 574h11M1925 574h11M1781 587h11M1925 587h11M1947 587h11M1936 607h11M1770 620h11M1781 620h11M1814 620h11M1870 620h11M1759 640h11M1770 640h11M1825 640h11M1759 653h11M1803 653h11M1814 653h11M1847 653h11M1759 673h11M1803 673h11M1825 673h11M1770 686h11M1792 686h11"/>
<path stroke="#9696cb" stroke-width="6" d="M1903 165h11M1914 165h11M1958 165h11M1969 165h11M1980 165h11M1881 178h11M1903 178h11M1892 211h11M1903 211h11M1958 277h11M1980 277h11M1969 297h11M1925 330h11M1947 330h11M1903 343h11M1936 363h11M1892 376h11M1936 409h11M1892 429h11M1925 429h11M1847 442h11M1914 455h11M1825 475h11M1836 475h11M1914 475h11M1825 488h11M1836 488h11M1980 488h11M1858 521h12M1870 521h11M1825 554h11M1925 554h11M1980 554h11M1825 574h11M1892 574h11M1748 587h11M1759 587h11M1759 607h11M1792 607h11M1803 620h11M1836 620h11M1792 640h11M1748 653h11M1792 653h11M1781 673h11"/>
<path stroke="#6d6db6" stroke-width="6" d="M1925 165h11M1958 330h11M1914 396h11"/>
<path stroke="#8282c1" stroke-width="6" d="M1947 165h11M1914 178h11M1936 178h11M1980 178h11M1903 198h11M1914 198h11M1958 231h11M1980 244h11M1925 297h11M1914 343h11M1925 343h11M1958 363h11M1991 376h11M1892 396h11M1936 396h11M1958 396h11M1969 396h11M1892 409h11M1858 488h12M1914 508h11M1870 541h11M1914 541h11M1792 587h11M1770 607h11M1748 640h11M1803 640h11M1858 640h12M1781 653h11M1836 653h11M1748 673h11M1770 673h11M1792 673h11"/>
<path stroke="#eba6a6" stroke-width="7" d="M1748 171.5h11M1803 171.5h11M1748 184.5h11M1759 184.5h11M1770 184.5h11M1803 184.5h11M1814 184.5h11M1748 191.5h11M1770 191.5h11M1781 191.5h11M1759 204.5h11M1781 204.5h11M1792 204.5h11M1803 204.5h11M1748 217.5h11M1759 217.5h11M1770 217.5h11M1792 217.5h11M1814 217.5h11M1759 224.5h11M1770 224.5h11M1781 224.5h11M1792 224.5h11M1803 224.5h11M1814 224.5h11M1770 237.5h11M1792 237.5h11M1814 237.5h11M1748 250.5h11M1759 250.5h11M1814 250.5h11M1748 257.5h11M1770 257.5h11M1781 257.5h11M1803 257.5h11M1814 257.5h11M1748 270.5h11M1759 270.5h11M1770 270.5h11M1803 270.5h11M1825 270.5h11M1836 270.5h11M1847 270.5h11M1748 283.5h11M1759 283.5h11M1770 283.5h11M1781 283.5h11M1792 283.5h11M1803 283.5h11M1814 283.5h11M1825 283.5h11M1858 283.5h12M1792 290.5h11M1803 290.5h11M1759 303.5h11M1792 303.5h11M1748 316.5h11M1792 316.5h11M1748 323.5h11M1770 336.5h11M1781 336.5h11M1792 336.5h11M1814 349.5h11M1814 356.5h11M1803 369.5h11M1814 369.5h11M1792 382.5h11M1792 389.5h11M1803 389.5h11M1748 402.5h11M1803 402.5h11M1814 402.5h11M1792 415.5h11M1803 422.5h11M1814 422.5h11M1814 435.5h11M1803 448.5h11M1770 461.5h11M1792 461.5h11M1803 461.5h11M1814 461.5h11M1748 481.5h11M1748 501.5h11M1770 501.5h11M1748 514.5h11M1781 514.5h11M1748 527.5h11M1991 527.5h11M1759 534.5h11M1792 547.5h11M1814 547.5h11M1969 547.5h11M1770 567.5h11M1825 593.5h11M1881 593.5h11M1969 593.5h11M1980 593.5h11M1825 600.5h11M1836 600.5h11M1870 600.5h11M1903 600.5h11M1980 600.5h11M1881 613.5h11M1892 613.5h11M1903 613.5h11M1825 626.5h11M1881 626.5h11M1925 626.5h11M1936 626.5h11M1947 626.5h11M1925 633.5h11M1870 646.5h11M1903 646.5h11M1914 646.5h11M1947 646.5h11M1958 646.5h11M1969 646.5h11M1980 646.5h11M1870 659.5h11M1947 659.5h11M1969 659.5h11M1980 659.5h11M1991 659.5h11M1958 666.5h11M1991 666.5h11M1881 679.5h11M1925 679.5h11M1947 679.5h11M1969 679.5h11M1991 679.5h11M1881 692.5h11M1892 692.5h11M1903 692.5h11M1814 699.5h11M1870 699.5h11M1892 699.5h11M1980 699.5h11"/>
<path stroke="#e69494" stroke-width="7" d="M1759 171.5h11M1792 184.5h11M1759 191.5h11M1792 191.5h11M1803 191.5h11M1781 217.5h11M1803 217.5h11M1748 224.5h11M1748 237.5h11M1759 237.5h11M1781 237.5h11M1803 237.5h11M1858 250.5h12M1858 257.5h12M1814 270.5h11M1858 270.5h12M1836 283.5h11M1847 283.5h11M1759 290.5h11M1781 290.5h11M1770 303.5h11M1781 303.5h11M1792 323.5h11M1748 336.5h11M1803 336.5h11M1792 349.5h11M1803 349.5h11M1803 382.5h11M1814 382.5h11M1814 389.5h11M1770 415.5h11M1803 415.5h11M1792 422.5h11M1814 448.5h11M1770 494.5h11M1759 514.5h11M1803 514.5h11M1759 527.5h11M1748 534.5h11M1814 534.5h11M1759 547.5h11M1748 560.5h11M1958 560.5h11M1858 580.5h12M1836 593.5h11M1858 593.5h12M1903 593.5h11M1914 593.5h11M1892 600.5h11M1914 600.5h11M1925 600.5h11M1836 626.5h11M1870 626.5h11M1914 626.5h11M1892 646.5h11M1991 646.5h11M1881 659.5h11M1892 659.5h11M1936 659.5h11M1958 659.5h11M1881 666.5h11M1892 666.5h11M1914 666.5h11M1925 666.5h11M1870 679.5h11M1980 679.5h11M1925 692.5h11M1881 699.5h11M1947 699.5h11M1969 699.5h11"/>
<path stroke="#e28282" stroke-width="7" d="M1770 171.5h11M1792 171.5h11M1781 184.5h11M1770 204.5h11M1770 250.5h11M1792 250.5h11M1792 257.5h11M1792 270.5h11M1759 316.5h11M1770 316.5h11M1759 323.5h11M1770 323.5h11M1770 349.5h11M1748 356.5h11M1781 369.5h11M1770 382.5h11M1781 389.5h11M1748 415.5h11M1759 422.5h11M1770 422.5h11M1770 435.5h11M1803 435.5h11M1770 448.5h11M1759 481.5h11M1748 494.5h11M1759 501.5h11M1781 501.5h11M1792 501.5h11M1803 501.5h11M1770 547.5h11M1892 593.5h11M1914 613.5h11M1980 613.5h11M1881 633.5h11M1947 633.5h11M1925 646.5h11M1914 659.5h11M1969 666.5h11M1914 692.5h11"/>
<path stroke="#f3caca" stroke-width="7" d="M1836 171.5h11M1858 171.5h12M1858 204.5h12M1836 224.5h11M1781 250.5h11M1814 290.5h11M1825 290.5h11M1803 323.5h11M1814 336.5h11M1803 356.5h11M1803 481.5h11M1803 494.5h11M1991 494.5h11M1980 560.5h11M1759 567.5h11"/>
<path stroke="#8282c1" stroke-width="7" d="M1903 171.5h11M1914 250.5h11M1914 270.5h11M1914 283.5h11M1925 283.5h11M1914 303.5h11M1925 303.5h11M1969 323.5h11M1914 336.5h11M1925 349.5h11M1958 369.5h11M1925 382.5h11M1903 402.5h11M1914 402.5h11M1947 435.5h11M1892 461.5h11M1914 461.5h11M1947 468.5h11M1969 468.5h11M1825 481.5h11M1870 514.5h11M1870 527.5h11M1870 534.5h11M1881 547.5h11M1914 547.5h11M1759 580.5h11M1792 580.5h11M1991 600.5h11M1748 613.5h11M1991 613.5h11M1759 626.5h11M1792 626.5h11M1748 646.5h11M1792 646.5h11M1803 646.5h11M1825 646.5h11M1748 659.5h11M1759 679.5h11M1781 679.5h11M1748 692.5h11M1770 692.5h11M1781 699.5h11"/>
<path stroke="#e28282" stroke-width="6" d="M1770 178h11M1770 198h11M1748 211h11M1770 211h11M1803 211h11M1748 244h11M1792 277h11M1781 310h11M1781 330h11M1748 343h11M1770 343h11M1781 343h11M1759 363h11M1759 376h11M1792 396h11M1770 409h11M1759 429h11M1759 442h11M1781 442h11M1748 455h11M1792 488h11M1759 508h11M1792 541h11M1958 574h11M1847 587h11M1903 640h11M1881 653h11M1925 653h11"/>
<path stroke="#f7dbdb" stroke-width="6" d="M1814 178h11M1803 198h11M1814 198h11M1858 198h12M1858 231h12M1814 244h11M1825 244h11M1858 244h12M1836 277h11M1847 277h11M1814 310h11M1770 330h11M1814 330h11M1803 363h11M1792 442h11M1792 455h11M1803 455h11M1936 475h11M1803 488h11M1958 508h11M1958 521h11M1770 541h11M1814 541h11M1969 541h11M1748 554h11M1991 554h11"/>
<path stroke="#fbeded" stroke-width="7" d="M1836 191.5h11M1980 191.5h11M1936 204.5h11M1847 237.5h11M1892 237.5h11M1836 250.5h11M1847 257.5h11M1847 316.5h11M1825 323.5h11M1836 356.5h11M1936 356.5h11M1958 435.5h11M1936 448.5h11M1858 461.5h12M1858 468.5h12M1991 481.5h11M1903 527.5h11M1958 527.5h11M1836 534.5h11M1858 547.5h12M1958 580.5h11M1781 600.5h11M1958 600.5h11M1836 613.5h11M1814 626.5h11M1847 626.5h11M1958 626.5h11M1914 633.5h11M1847 666.5h11M1903 666.5h11M1947 666.5h11M1858 692.5h12M1936 692.5h11M1836 699.5h11"/>
<path stroke="#5858ac" stroke-width="7" d="M1958 191.5h11M1847 290.5h11M1903 356.5h11M1925 494.5h11M1980 494.5h11M1914 527.5h11M1925 527.5h11M1892 547.5h11"/>
<path stroke="#4343a1" stroke-width="6" d="M1958 198h11M1847 475h11M1858 475h12M1847 488h11M1847 508h11M1881 554h11M1803 587h11M1748 607h11M1803 686h11"/>
<path stroke="#efb8b8" stroke-width="7" d="M1748 204.5h11M1770 290.5h11M1759 336.5h11M1814 415.5h11M1847 580.5h11M1881 580.5h11M1847 613.5h11M1903 659.5h11M1870 666.5h11M1892 679.5h11M1903 699.5h11"/>
<path stroke="#eaeaf5" stroke-width="6" d="M1836 231h11M1847 244h11M1991 297h11M1836 310h11M1870 330h11M1881 330h11M1836 343h11M1947 343h11M1980 343h11M1836 363h11M1858 363h12M1903 363h11M1836 376h11M1858 376h12M1847 396h11M1858 396h12M1947 396h11M1825 409h11M1914 409h11M1836 429h11M1847 429h11M1958 442h11M1980 455h11M1892 488h11M1858 508h12M1980 508h11M1969 521h11M1858 541h12M1892 554h11M1803 574h11M1814 574h11M1836 574h11M1858 574h12M1980 587h11M1991 587h11M1847 607h11M1991 620h11M1836 640h11M1947 640h11M1936 686h11"/>
<path stroke="#d5d5ea" stroke-width="6" d="M1925 231h11M1892 277h11M1858 297h12M1947 310h11M1958 310h11M1825 363h11M1892 363h11M1836 409h11M1858 409h12M1858 429h12M1991 429h11M1936 442h11M1836 455h11M1881 455h11M1892 455h11M1991 455h11M1803 475h11M1814 475h11M1947 488h11M1980 541h11M1858 554h12M1903 554h11M1914 574h11M1781 640h11"/>
<path stroke="#de7171" stroke-width="7" d="M1803 250.5h11M1748 303.5h11M1781 316.5h11M1781 323.5h11M1748 349.5h11M1759 349.5h11M1781 349.5h11M1759 356.5h11M1770 356.5h11M1781 356.5h11M1792 356.5h11M1748 369.5h11M1759 369.5h11M1770 369.5h11M1792 369.5h11M1748 382.5h11M1759 382.5h11M1748 389.5h11M1759 389.5h11M1770 389.5h11M1759 402.5h11M1770 402.5h11M1781 402.5h11M1759 415.5h11M1748 422.5h11M1781 422.5h11M1759 435.5h11M1781 435.5h11M1748 448.5h11M1759 448.5h11M1781 448.5h11M1748 461.5h11M1759 461.5h11M1748 468.5h11M1770 468.5h11M1781 468.5h11M1803 468.5h11M1814 468.5h11M1781 481.5h11M1792 481.5h11M1759 494.5h11M1781 494.5h11M1947 514.5h11M1969 514.5h11M1792 534.5h11M1759 560.5h11M1936 560.5h11M1936 567.5h11M1825 580.5h11M1836 580.5h11M1847 593.5h11M1881 600.5h11M1858 613.5h12M1925 613.5h11M1980 626.5h11M1870 633.5h11M1892 633.5h11M1936 633.5h11M1980 633.5h11M1925 659.5h11M1980 666.5h11M1914 699.5h11"/>
<path stroke="#da5f5f" stroke-width="7" d="M1748 290.5h11M1781 382.5h11M1792 402.5h11M1781 415.5h11M1903 679.5h11"/>
<path stroke="#da5f5f" stroke-width="6" d="M1759 343h11M1792 409h11M1781 429h11M1847 620h11"/>
<path stroke="#d64d4d" stroke-width="6" d="M1781 363h11M1792 363h11M1781 455h11M1792 521h11M1936 574h11M1914 640h11"/>
<path stroke="#5858ac" stroke-width="6" d="M1903 429h11M1947 429h11M1870 554h11M1748 686h11"/>
<path stroke="#d23b3b" stroke-width="7" d="M1748 435.5h11M1770 481.5h11"/>
<path stroke="#19198c" stroke-width="6" d="M1925 541h11"/>
<path stroke="#19198c" stroke-width="7" d="M1925 567.5h11M1792 593.5h11"/>
</g>
<g shape-rendering="crispEdges">
<rect x="2016.9" y="165.00" width="13.1" height="3.76" fill="#ce2a2a"/>
<rect x="2016.9" y="168.46" width="13.1" height="3.76" fill="#d03232"/>
<rect x="2016.9" y="171.92" width="13.1" height="3.76" fill="#d23a3a"/>
<rect x="2016.9" y="175.38" width="13.1" height="3.76" fill="#d34242"/>
<rect x="2016.9" y="178.83" width="13.1" height="3.76" fill="#d54a4a"/>
<rect x="2016.9" y="182.29" width="13.1" height="3.76" fill="#d75151"/>
<rect x="2016.9" y="185.75" width="13.1" height="3.76" fill="#d95959"/>
<rect x="2016.9" y="189.21" width="13.1" height="3.76" fill="#db6161"/>
<rect x="2016.9" y="192.67" width="13.1" height="3.76" fill="#dc6969"/>
<rect x="2016.9" y="196.12" width="13.1" height="3.76" fill="#de7070"/>
<rect x="2016.9" y="199.58" width="13.1" height="3.76" fill="#e07878"/>
<rect x="2016.9" y="203.04" width="13.1" height="3.76" fill="#e27f7f"/>
<rect x="2016.9" y="206.50" width="13.1" height="3.76" fill="#e38787"/>
<rect x="2016.9" y="209.96" width="13.1" height="3.76" fill="#e58f8f"/>
<rect x="2016.9" y="213.42" width="13.1" height="3.76" fill="#e79696"/>
<rect x="2016.9" y="216.88" width="13.1" height="3.76" fill="#e99d9d"/>
<rect x="2016.9" y="220.33" width="13.1" height="3.76" fill="#eaa5a5"/>
<rect x="2016.9" y="223.79" width="13.1" height="3.76" fill="#ecacac"/>
<rect x="2016.9" y="227.25" width="13.1" height="3.76" fill="#eeb3b3"/>
<rect x="2016.9" y="230.71" width="13.1" height="3.76" fill="#efbbbb"/>
<rect x="2016.9" y="234.17" width="13.1" height="3.76" fill="#f1c2c2"/>
<rect x="2016.9" y="237.62" width="13.1" height="3.76" fill="#f3c9c9"/>
<rect x="2016.9" y="241.08" width="13.1" height="3.76" fill="#f4d0d0"/>
<rect x="2016.9" y="244.54" width="13.1" height="3.76" fill="#f6d7d7"/>
<rect x="2016.9" y="248.00" width="13.1" height="3.76" fill="#f7dddd"/>
<rect x="2016.9" y="251.46" width="13.1" height="3.76" fill="#f9e4e4"/>
<rect x="2016.9" y="254.92" width="13.1" height="3.76" fill="#faebeb"/>
<rect x="2016.9" y="258.38" width="13.1" height="3.76" fill="#fcf1f1"/>
<rect x="2016.9" y="261.83" width="13.1" height="3.76" fill="#fdf7f7"/>
<rect x="2016.9" y="265.29" width="13.1" height="3.76" fill="#fefdfd"/>
<rect x="2016.9" y="268.75" width="13.1" height="3.76" fill="#fefefe"/>
<rect x="2016.9" y="272.21" width="13.1" height="3.76" fill="#fbfbfd"/>
<rect x="2016.9" y="275.67" width="13.1" height="3.76" fill="#f6f6fb"/>
<rect x="2016.9" y="279.12" width="13.1" height="3.76" fill="#f1f1f8"/>
<rect x="2016.9" y="282.58" width="13.1" height="3.76" fill="#ebebf5"/>
<rect x="2016.9" y="286.04" width="13.1" height="3.76" fill="#e5e5f2"/>
<rect x="2016.9" y="289.50" width="13.1" height="3.76" fill="#dfdfef"/>
<rect x="2016.9" y="292.96" width="13.1" height="3.76" fill="#d8d8eb"/>
<rect x="2016.9" y="296.42" width="13.1" height="3.76" fill="#d1d1e8"/>
<rect x="2016.9" y="299.88" width="13.1" height="3.76" fill="#c9c9e4"/>
<rect x="2016.9" y="303.33" width="13.1" height="3.76" fill="#c1c1e0"/>
<rect x="2016.9" y="306.79" width="13.1" height="3.76" fill="#b9b9dc"/>
<rect x="2016.9" y="310.25" width="13.1" height="3.76" fill="#b1b1d8"/>
<rect x="2016.9" y="313.71" width="13.1" height="3.76" fill="#a8a8d4"/>
<rect x="2016.9" y="317.17" width="13.1" height="3.76" fill="#9f9fcf"/>
<rect x="2016.9" y="320.62" width="13.1" height="3.76" fill="#9696cb"/>
<rect x="2016.9" y="324.08" width="13.1" height="3.76" fill="#8d8dc6"/>
<rect x="2016.9" y="327.54" width="13.1" height="3.76" fill="#8484c2"/>
<rect x="2016.9" y="331.00" width="13.1" height="3.76" fill="#7a7abd"/>
<rect x="2016.9" y="334.46" width="13.1" height="3.76" fill="#7070b8"/>
<rect x="2016.9" y="337.92" width="13.1" height="3.76" fill="#6666b3"/>
<rect x="2016.9" y="341.38" width="13.1" height="3.76" fill="#5c5cae"/>
<rect x="2016.9" y="344.83" width="13.1" height="3.76" fill="#5252a9"/>
<rect x="2016.9" y="348.29" width="13.1" height="3.76" fill="#4848a4"/>
<rect x="2016.9" y="351.75" width="13.1" height="3.76" fill="#3d3d9e"/>
<rect x="2016.9" y="355.21" width="13.1" height="3.76" fill="#323299"/>
<rect x="2016.9" y="358.67" width="13.1" height="3.76" fill="#272794"/>
<rect x="2016.9" y="362.12" width="13.1" height="3.76" fill="#1c1c8e"/>
<rect x="2016.9" y="365.58" width="13.1" height="3.76" fill="#111188"/>
<rect x="2016.9" y="369.04" width="13.1" height="3.76" fill="#060683"/>
</g>
<text x="2035.8" y="170.6" font-size="20">3</text>
<text x="2035.8" y="205.1" font-size="20">2</text>
<text x="2035.8" y="239.7" font-size="20">1</text>
<text x="2035.8" y="274.4" font-size="20">0</text>
<text x="2035.8" y="309" font-size="20">−1</text>
<text x="2035.8" y="343.6" font-size="20">−2</text>
<text x="2035.8" y="378.2" font-size="20">−3</text>
<text transform="translate(2075 264) rotate(90)" font-size="20.5" text-anchor="middle">scaled counts</text>
<rect x="2021" y="410.3" width="17" height="16.7" fill="#0000ff" shape-rendering="crispEdges"/>
<rect x="2021" y="427" width="17" height="17" fill="#00ff00" shape-rendering="crispEdges"/>
<rect x="2021" y="453" width="17" height="16.6" fill="#9400d3" shape-rendering="crispEdges"/>
<rect x="2021" y="469.6" width="17" height="17.7" fill="#ff1493" shape-rendering="crispEdges"/>
<rect x="2021" y="498.8" width="17" height="16.2" fill="#000000" shape-rendering="crispEdges"/>
<rect x="2021" y="515" width="17" height="17.6" fill="#ff0000" shape-rendering="crispEdges"/>
<text x="2046.8" y="424.2" font-size="21">SAL</text>
<text x="2046.8" y="443.9" font-size="21">LPS</text>
<text x="2046.8" y="466.9" font-size="21">Ctx</text>
<text x="2046.8" y="488.8" font-size="21">Str</text>
<text x="2046.8" y="512.7" font-size="21">CON</text>
<text x="2046.8" y="534.5" font-size="21">MIA</text>
<g stroke="#000" stroke-width="1.8" fill="none">
<path d="M1740.6 156.3V573.2M1734.9 156.3H1746.4M1734.9 573.2H1746.4M1734.9 581H1746.4M1740.6 581V701.8M1734.9 701.8H1746.4"/>
</g>
<text transform="translate(1729 502.4) rotate(-90)" font-size="25">blunted: MIA failed induction</text>
<text transform="translate(1667.5 698.6) rotate(-90)" font-size="25">blunted:</text>
<text transform="translate(1697.5 698.6) rotate(-90)" font-size="25">MIA failed</text>
<text transform="translate(1727.3 698.6) rotate(-90)" font-size="25">repression</text>
<g stroke="#000" stroke-width="1.8" fill="none">
<path d="M98 741.5V1075.5H432.5"/>
<path d="M91.5 771.4H98M91.5 843.6H98M91.5 915.7H98M91.5 987.9H98M91.5 1060H98M114.2 1075.5V1082M189.5 1075.5V1082M264.8 1075.5V1082M340.1 1075.5V1082M415.4 1075.5V1082"/>
</g>
<text x="87.2" y="779.2" font-size="25.5" text-anchor="end">10</text>
<text x="87.2" y="851.4" font-size="25.5" text-anchor="end">5</text>
<text x="87.2" y="923.5" font-size="25.5" text-anchor="end">0</text>
<text x="88.3" y="995.6" font-size="25.5" text-anchor="end">−5</text>
<text x="88.3" y="1067.8" font-size="25.5" text-anchor="end">−10</text>
<text x="114.2" y="1107.3" font-size="25.5" text-anchor="middle">−10</text>
<text x="189.5" y="1107.3" font-size="25.5" text-anchor="middle">−5</text>
<text x="264.8" y="1107.3" font-size="25.5" text-anchor="middle">0</text>
<text x="340.1" y="1107.3" font-size="25.5" text-anchor="middle">5</text>
<text x="415.4" y="1107.3" font-size="25.5" text-anchor="middle">10</text>
<path d="M262.3 933.4h0M289.6 892.7h0M270.7 919.5h0M254.1 923.4h0M313.1 874.2h0M267.3 880.9h0M243.1 920.2h0M256.4 918.7h0M264.4 914.6h0M278.4 900.3h0M279.7 897.3h0M246.1 938.7h0M256.7 915.1h0M347.4 860.0h0M265.4 922.8h0M322.1 871.8h0M258.7 906.7h0M286.6 887.3h0M251.9 965.7h0M204.2 946.9h0M254.3 923.1h0M304.5 883.4h0M318.1 854.1h0M311.2 888.9h0M253.9 938.3h0M261.7 944.9h0M232.8 956.8h0M282.7 890.6h0M301.7 897.7h0M280.8 917.1h0M246.6 924.8h0M286.9 912.1h0M276.2 917.0h0M289.8 907.1h0M266.5 909.2h0M280.1 913.2h0M247.6 936.2h0M243.6 935.1h0M280.7 906.9h0M278.9 929.4h0M239.4 952.2h0M327.6 873.2h0M316.4 874.0h0M334.0 865.2h0M269.7 898.1h0M264.9 914.5h0M285.6 892.2h0M306.8 889.6h0M327.4 875.8h0M240.5 912.7h0M268.4 935.5h0M202.9 949.1h0M265.2 926.1h0M306.7 874.4h0M298.8 907.0h0M357.8 836.5h0M298.8 885.3h0M259.8 948.7h0M248.1 938.1h0M284.1 892.4h0M333.2 848.9h0M230.5 939.2h0M241.1 942.5h0M277.7 906.8h0M262.9 935.3h0M306.4 896.9h0M258.5 918.2h0M276.5 907.1h0M274.5 899.1h0M282.6 899.9h0M323.2 862.5h0M229.2 945.6h0M213.7 948.1h0M222.2 916.6h0M264.6 929.6h0M279.0 903.1h0M293.8 899.6h0M286.0 892.8h0M279.5 898.3h0M212.0 968.4h0M251.6 924.3h0M290.1 893.3h0M231.2 943.9h0M257.7 917.2h0M259.5 901.4h0M292.2 886.1h0M243.8 935.8h0M215.7 951.1h0M261.8 891.2h0M264.6 924.2h0M304.2 869.6h0M253.5 933.6h0M266.6 935.8h0M256.4 931.6h0M257.7 916.7h0M348.0 853.6h0M185.1 987.8h0M295.6 902.1h0M246.6 943.0h0M277.4 920.2h0M220.4 958.9h0M281.7 936.0h0M246.1 924.7h0M294.5 888.6h0M322.8 868.9h0M230.5 930.5h0M218.0 960.6h0M315.2 876.4h0M343.6 889.0h0M275.0 905.3h0M201.6 970.9h0M219.5 943.3h0M308.5 870.2h0M336.7 861.8h0M270.3 928.6h0M227.1 941.0h0M315.4 864.8h0M226.7 933.6h0M250.6 934.2h0M252.5 938.1h0M252.1 929.6h0M293.9 907.2h0M240.5 964.1h0M280.0 899.2h0M313.2 872.1h0M313.2 869.2h0M322.4 882.4h0M261.6 919.2h0M214.4 972.0h0M281.5 923.0h0M282.8 895.7h0M285.0 924.8h0M261.2 923.7h0M290.9 864.0h0M238.6 920.4h0M303.7 876.5h0M337.4 850.9h0M279.9 907.0h0M277.0 914.5h0M297.6 863.2h0M294.6 895.3h0M295.4 900.1h0M282.4 893.3h0M265.4 916.4h0M330.8 846.7h0M233.1 949.5h0M314.9 887.8h0M245.1 936.9h0M292.1 873.0h0M241.7 921.6h0M220.7 947.0h0M238.7 935.1h0M240.9 930.0h0M322.1 883.9h0M253.8 917.6h0M250.2 933.9h0M240.5 931.7h0M273.8 908.4h0M274.0 904.4h0M294.5 898.6h0M250.3 914.3h0M232.4 936.4h0M272.4 920.1h0M305.3 877.9h0M300.9 891.9h0M239.9 930.1h0M257.2 910.2h0M286.4 905.2h0M254.3 924.3h0M225.3 945.7h0M281.5 902.0h0M262.1 890.3h0M285.0 895.0h0M304.5 899.8h0M257.4 919.9h0M234.8 946.5h0M248.0 895.9h0M301.9 894.9h0M278.2 919.9h0M302.0 876.4h0M262.6 924.3h0M300.8 892.4h0M257.9 924.1h0M252.4 934.3h0M274.6 913.3h0M270.6 940.5h0M266.5 915.5h0M276.7 897.4h0M308.4 856.0h0M251.4 925.1h0M213.5 944.6h0M289.5 905.7h0M341.0 835.8h0M311.9 848.2h0M233.2 935.7h0M290.9 899.4h0M314.1 875.8h0M306.5 861.6h0M339.0 873.7h0M304.9 866.5h0M177.4 997.3h0M295.3 902.4h0M248.1 924.7h0M242.7 923.9h0M215.0 941.3h0M230.2 923.2h0M262.1 932.5h0M313.5 875.9h0M315.2 865.2h0M298.4 885.1h0M318.5 857.7h0M261.1 917.5h0M245.6 934.2h0M342.2 884.5h0M291.4 919.5h0M262.7 906.1h0M301.5 901.8h0M248.9 923.5h0M330.7 854.6h0M229.2 944.7h0M256.2 908.3h0M268.7 920.8h0M268.3 904.5h0M231.2 943.3h0M305.5 903.2h0M297.2 916.7h0M277.3 907.9h0M295.7 869.0h0M259.1 904.1h0M309.5 873.7h0M255.3 912.0h0M237.8 924.2h0M269.2 915.1h0M268.6 894.6h0M287.9 893.5h0M299.4 894.9h0M228.8 934.5h0M219.6 952.3h0M285.8 888.4h0M321.9 886.7h0M312.3 894.4h0M272.5 883.3h0M267.9 904.3h0M266.2 928.7h0M338.7 879.1h0M269.3 913.2h0M288.0 911.2h0M233.8 921.9h0M309.1 906.7h0M272.3 893.0h0M267.7 927.0h0M266.5 931.1h0M272.4 909.0h0M372.1 848.5h0M298.6 897.0h0M300.4 895.3h0M250.7 959.7h0M227.8 960.9h0M202.0 960.4h0M256.7 950.3h0M283.2 919.9h0M285.4 912.1h0M226.4 933.5h0M300.1 875.5h0M257.8 901.1h0M317.0 888.0h0M268.5 901.8h0M279.0 901.4h0M251.9 943.7h0M253.6 917.6h0M278.9 905.0h0M297.7 899.1h0M302.8 900.8h0M252.9 947.3h0M234.3 933.1h0M292.4 888.1h0M322.5 874.5h0M260.5 924.5h0M262.8 925.6h0M262.3 907.5h0M289.5 893.9h0M311.1 903.9h0M245.1 930.2h0M293.0 887.4h0M327.8 874.6h0M298.7 895.8h0M251.2 934.7h0M227.5 936.6h0M279.3 910.0h0M325.2 868.9h0M305.9 882.4h0M328.3 844.9h0M265.6 935.9h0M280.5 871.7h0M250.3 943.8h0M297.6 893.1h0M271.7 921.6h0M251.2 924.8h0M265.1 908.1h0M298.2 857.7h0M309.2 864.7h0M306.0 892.8h0M359.7 838.3h0M305.1 882.5h0M247.1 938.9h0M316.5 867.1h0M249.6 924.1h0M241.1 940.5h0M304.2 894.3h0M259.0 910.7h0M279.6 905.8h0M261.9 901.7h0M272.9 897.6h0M219.4 968.0h0M310.7 908.6h0M322.0 870.3h0M271.3 920.0h0M322.9 884.4h0M309.6 890.5h0M321.3 851.6h0M331.1 866.7h0M237.4 911.2h0M308.2 871.0h0M275.0 931.6h0M306.3 877.0h0M270.9 890.5h0M351.7 871.9h0M337.7 875.9h0M279.8 905.4h0M295.7 899.0h0M288.3 874.0h0M289.2 908.4h0M312.6 854.8h0M246.8 949.1h0M231.2 953.9h0M319.3 868.4h0M292.4 886.9h0M264.8 913.6h0M257.0 899.6h0M229.1 918.7h0M270.7 883.9h0M220.6 951.7h0M285.2 887.5h0M290.0 899.5h0M256.8 902.1h0M315.1 907.9h0M306.1 892.1h0M286.6 901.4h0M253.7 930.9h0M256.8 899.9h0M246.7 948.9h0M211.3 968.8h0M279.3 920.7h0M304.1 885.2h0M226.0 958.5h0M291.0 882.0h0M269.9 899.2h0M282.3 930.9h0M303.2 914.7h0M310.2 868.6h0M254.4 918.3h0M303.9 906.7h0M263.4 917.1h0M188.8 992.3h0M348.5 838.7h0M279.0 922.6h0M266.5 922.7h0M324.3 862.3h0M293.4 892.4h0M257.9 906.5h0M284.8 894.1h0M288.8 917.3h0M270.4 907.9h0M194.6 986.2h0M282.6 881.7h0M244.6 909.7h0M240.8 918.7h0M278.9 874.3h0M352.2 835.9h0M235.5 918.2h0M287.9 884.4h0M225.6 934.2h0M221.1 937.9h0M264.3 911.9h0M309.1 855.9h0M286.9 913.2h0M286.9 919.8h0M319.7 883.1h0M294.1 870.7h0M256.6 925.7h0M243.8 943.3h0M266.4 926.0h0M289.3 890.0h0M265.6 915.7h0M268.7 896.0h0M257.4 925.8h0M249.0 915.5h0M235.2 950.7h0M249.3 920.4h0M314.5 879.2h0M325.2 869.8h0M281.1 889.3h0M272.8 922.9h0M305.4 889.9h0M263.9 923.7h0M316.9 871.1h0M281.7 921.1h0M304.8 864.4h0M250.1 925.2h0M340.5 853.5h0M284.4 902.4h0M300.4 888.0h0M251.2 958.0h0M253.2 907.1h0M301.6 898.7h0M220.0 939.4h0M320.5 873.8h0M256.5 924.9h0M310.8 872.5h0M254.4 900.5h0M275.6 908.3h0M280.1 911.4h0M309.1 874.2h0M247.4 963.2h0M296.4 902.5h0M287.4 911.3h0M304.1 889.6h0M248.0 947.5h0M277.3 894.1h0M251.6 930.2h0M263.9 914.3h0M314.5 876.3h0M318.5 877.7h0M244.8 940.3h0M271.5 892.5h0M274.6 896.4h0M244.1 911.2h0M263.5 918.8h0M239.8 931.3h0M296.5 885.7h0M243.9 936.4h0M326.3 867.7h0M208.7 981.9h0M296.9 906.7h0M298.1 902.0h0M254.3 939.5h0M217.8 946.5h0M283.0 896.2h0M234.2 934.0h0M314.6 880.0h0M280.5 889.3h0M276.2 894.0h0M280.5 895.3h0M302.8 890.3h0M275.9 885.6h0M295.7 907.6h0M289.3 918.7h0M258.5 938.4h0M314.9 859.6h0M332.0 861.4h0M315.0 884.2h0M280.7 935.0h0M300.1 890.9h0M239.5 949.0h0M247.9 957.5h0M245.9 915.4h0M256.2 921.9h0M305.2 864.7h0M247.8 929.1h0M254.2 916.1h0M224.0 957.1h0M252.3 916.8h0M218.6 957.4h0M307.0 874.0h0M270.7 908.0h0M308.2 896.5h0M323.2 869.3h0M292.3 891.6h0M287.6 907.2h0M280.7 904.6h0M261.3 905.5h0M201.1 948.6h0M282.4 900.8h0M252.0 956.8h0M241.8 923.2h0M256.1 897.0h0M275.2 910.5h0M300.0 899.6h0M241.9 929.3h0M232.6 937.8h0M313.2 865.3h0M295.1 900.2h0M303.5 861.0h0M266.7 901.4h0M228.2 958.1h0M321.7 856.5h0M318.9 874.6h0M255.4 913.2h0M290.4 890.3h0M313.8 876.2h0M361.8 834.8h0M317.8 879.5h0M295.5 901.4h0M269.0 915.3h0M260.8 922.4h0M274.5 902.4h0M253.8 921.4h0M298.6 911.1h0M281.7 890.6h0M268.8 912.8h0M242.2 921.4h0M280.9 893.4h0M265.5 911.1h0M290.5 887.4h0M244.6 950.9h0M300.5 866.0h0M273.3 882.1h0M343.3 845.0h0M251.0 933.2h0M345.2 842.6h0M276.8 883.5h0M348.4 855.6h0M317.5 889.8h0M236.7 948.7h0M259.4 929.7h0M313.9 866.8h0M289.7 896.3h0M309.4 876.4h0M294.1 896.8h0M329.8 846.1h0M271.3 909.9h0M243.2 929.2h0M256.6 900.1h0M278.6 900.3h0M248.4 935.2h0M278.5 907.8h0M272.2 893.8h0M268.6 906.9h0M277.9 915.4h0M266.0 898.2h0M313.4 896.9h0M282.8 930.5h0M305.8 896.4h0M229.8 968.6h0M280.3 905.7h0M262.9 916.2h0M212.1 960.3h0M349.5 856.5h0M233.9 953.9h0M307.6 868.9h0M305.2 910.4h0M319.1 862.6h0M264.1 912.2h0M191.2 974.0h0M301.1 880.6h0M275.8 927.9h0M302.1 872.6h0M274.1 901.0h0M324.0 853.5h0M297.4 917.9h0M267.5 909.7h0M362.5 840.3h0M259.2 951.2h0M204.3 967.4h0M283.9 899.6h0M296.4 901.3h0M299.5 882.8h0M261.3 910.3h0M279.4 910.0h0M250.9 931.0h0M265.6 904.2h0M302.8 898.9h0M262.0 910.7h0M304.7 865.8h0M271.4 910.6h0M282.9 896.0h0M268.8 911.9h0M319.3 861.3h0M283.8 921.0h0M252.8 948.2h0M284.1 912.0h0M320.5 880.0h0M288.8 883.2h0M243.3 913.5h0M253.6 916.2h0M244.0 914.6h0M326.3 872.6h0M285.7 906.4h0M309.4 901.4h0M307.7 865.8h0M268.0 905.6h0M317.1 874.9h0M275.1 925.8h0M290.1 909.6h0M209.3 952.4h0M275.2 907.4h0M264.2 900.9h0M251.8 923.1h0M285.2 909.1h0M234.3 955.7h0M268.6 912.6h0M189.7 952.2h0M269.7 884.5h0M253.3 934.6h0M336.9 851.8h0M283.6 910.7h0M297.6 886.2h0M261.9 926.5h0M236.6 962.5h0M322.1 850.6h0M310.1 885.4h0M280.9 896.6h0M282.3 901.4h0M280.2 921.8h0M274.6 899.4h0M298.9 874.0h0M296.9 887.3h0M271.2 903.0h0M251.4 910.9h0M332.2 854.8h0M261.7 919.6h0M251.5 948.4h0M356.7 854.9h0M280.4 913.7h0M271.7 899.8h0M230.2 924.3h0M241.2 933.7h0M324.6 854.9h0M266.2 947.1h0M317.3 870.4h0M240.4 950.7h0M306.2 870.0h0M283.3 883.5h0M264.2 900.3h0M217.5 941.5h0M325.2 852.1h0M283.8 875.6h0M278.5 911.4h0M310.1 857.9h0M244.9 935.0h0M328.8 883.4h0M307.9 872.8h0M299.5 877.1h0M301.1 881.9h0M257.4 929.3h0M274.7 898.6h0M295.9 893.4h0M263.0 882.5h0M327.5 860.5h0M309.1 874.2h0M328.9 871.3h0M228.8 934.6h0M334.0 837.3h0M263.8 925.1h0M254.2 927.8h0M270.6 936.1h0M329.6 864.7h0M296.6 867.7h0M294.6 907.7h0M316.5 879.5h0M318.0 883.3h0M320.5 875.0h0M313.3 887.5h0M291.3 899.1h0M298.6 903.8h0M233.7 936.6h0M275.3 893.6h0M204.6 951.9h0M277.2 930.9h0M283.9 882.1h0M254.2 913.6h0M262.2 901.6h0M316.5 886.5h0M268.0 920.8h0M280.6 893.4h0M291.1 907.4h0M311.6 874.6h0M295.3 885.1h0M299.2 892.8h0M318.7 868.0h0M272.0 916.4h0M305.3 865.8h0M262.7 938.8h0M265.1 910.7h0M300.4 894.1h0M257.9 921.4h0M188.9 987.2h0M270.7 951.5h0M322.9 848.7h0M243.9 921.6h0M298.6 882.8h0M265.5 914.9h0M226.1 941.2h0M267.0 917.5h0M199.2 964.9h0M318.6 853.6h0M264.2 923.9h0M290.4 906.6h0M277.1 879.7h0M226.2 951.8h0M263.4 912.9h0M317.5 875.8h0M304.7 875.4h0M264.0 906.7h0M251.9 923.3h0M274.1 920.7h0M232.1 953.4h0M285.3 897.7h0M220.5 924.8h0M250.8 950.1h0M305.4 884.4h0M276.4 899.4h0M254.0 931.2h0M281.4 898.7h0M267.3 914.3h0M285.0 888.2h0M313.5 854.1h0M273.0 912.8h0M218.3 947.4h0M290.9 888.3h0M249.0 925.2h0M315.7 874.8h0M310.0 908.6h0M276.0 905.0h0M292.2 908.0h0M226.5 951.1h0M217.0 946.8h0M264.8 907.4h0M288.3 902.9h0M323.0 875.8h0M253.7 927.8h0M245.0 945.1h0M247.5 907.8h0M251.1 902.3h0M282.6 903.8h0M227.9 922.4h0M302.6 875.1h0M231.7 955.9h0M353.9 832.8h0M272.2 900.4h0M279.9 901.4h0M220.1 970.3h0M286.6 906.4h0M211.5 988.6h0M305.4 883.9h0M254.8 927.2h0M285.2 914.6h0M294.1 909.5h0M308.5 862.9h0M322.7 890.6h0M315.2 865.9h0M302.1 884.7h0M255.8 905.7h0M237.9 958.7h0M302.1 884.7h0M287.9 880.3h0M259.0 922.3h0M274.9 926.8h0M308.8 907.5h0M307.6 891.4h0M256.2 908.4h0M231.9 920.5h0M211.3 956.7h0M261.0 906.4h0M266.0 900.8h0M231.5 933.3h0M313.0 889.0h0M341.4 845.3h0M250.6 940.3h0M302.0 884.6h0M272.9 898.2h0M296.4 875.9h0M282.8 902.8h0M274.1 892.6h0M309.2 859.7h0M300.9 873.7h0M262.9 917.4h0M293.6 888.4h0M256.5 921.4h0M275.7 905.9h0M297.7 879.4h0M293.0 878.1h0M224.1 946.9h0M297.1 879.6h0M236.3 934.0h0M284.6 897.3h0M301.1 899.8h0M226.0 940.3h0M240.6 935.6h0M304.9 879.6h0M287.9 883.2h0M206.3 950.8h0M309.8 870.0h0M256.1 928.7h0M197.7 947.8h0M219.5 938.7h0M226.1 933.3h0M229.9 953.8h0M250.6 939.4h0M231.8 917.9h0M252.0 942.6h0M219.2 942.0h0M207.0 947.3h0M241.8 933.4h0M206.3 930.6h0M198.3 952.0h0M216.4 936.6h0M232.4 912.9h0M246.0 963.8h0M226.5 923.2h0M242.5 924.7h0M226.0 962.0h0M197.2 963.9h0M206.7 947.3h0M196.5 917.3h0M222.7 948.5h0M189.0 938.2h0M200.7 936.9h0M211.3 940.0h0M242.1 908.0h0M235.6 934.4h0M219.3 956.7h0M229.6 934.2h0M221.6 928.7h0M274.7 955.3h0M196.3 935.8h0M189.7 948.0h0M191.5 958.9h0M200.3 952.8h0M219.5 926.3h0M242.3 941.4h0M221.3 964.2h0M220.7 927.6h0M222.8 943.6h0M228.8 984.4h0M209.0 955.6h0M236.4 975.4h0M224.3 948.5h0M229.5 896.3h0M234.9 907.3h0M235.2 934.7h0M239.1 952.0h0M209.6 957.1h0M233.4 950.4h0M197.5 935.1h0M187.7 919.3h0M218.3 938.0h0M232.1 919.4h0M233.4 940.8h0M231.2 971.3h0M239.9 933.8h0M193.4 922.9h0M215.0 929.6h0M220.7 921.6h0M210.4 953.0h0M230.5 942.8h0M235.0 938.2h0M230.2 933.1h0M226.8 929.7h0M265.7 923.3h0M226.1 944.9h0M225.2 955.0h0M246.3 945.5h0M257.0 941.7h0M208.8 945.5h0M207.3 953.1h0M248.8 925.0h0M244.8 923.5h0M240.0 923.2h0M220.5 926.5h0M236.7 930.2h0M200.2 945.6h0M204.8 944.8h0M252.5 934.1h0M202.9 967.3h0M222.3 934.7h0M236.2 969.3h0M230.6 910.1h0M205.8 928.8h0M214.6 948.4h0M235.3 939.0h0M217.3 946.5h0M254.1 914.5h0M222.5 921.2h0M257.0 937.0h0M224.6 946.3h0M246.6 929.2h0M232.6 934.3h0M226.1 939.0h0M201.0 946.4h0M235.0 962.4h0M226.2 959.6h0M231.1 949.7h0M215.2 963.8h0M208.1 953.1h0M207.7 910.7h0M222.8 938.0h0M240.7 927.6h0M218.5 947.6h0M204.9 917.6h0M209.7 936.4h0M204.1 925.9h0M195.5 921.2h0M217.5 931.5h0M212.6 908.3h0M217.8 952.8h0M257.5 943.5h0M240.9 930.6h0M249.9 939.8h0M224.8 931.2h0M229.1 904.5h0M210.3 943.0h0M193.4 934.1h0M196.6 946.4h0M218.0 951.1h0M232.8 968.1h0M263.9 930.9h0M223.1 916.6h0M197.4 937.8h0M217.8 919.5h0M233.4 959.0h0M204.0 941.2h0M216.0 940.7h0M233.4 926.9h0M226.6 937.6h0M232.3 930.0h0M225.7 915.4h0M224.3 955.7h0M248.9 940.2h0M240.7 932.3h0M229.3 948.8h0M234.2 932.7h0M224.0 965.8h0M224.0 954.3h0M232.3 942.6h0M228.8 966.8h0M270.2 905.0h0M229.7 909.5h0M232.8 919.1h0M263.1 925.6h0M209.3 924.4h0M227.6 942.8h0M247.9 942.2h0M229.5 970.4h0M225.0 924.2h0M211.1 941.6h0M226.1 969.4h0M213.3 951.7h0M244.3 930.9h0M235.8 964.0h0M220.8 946.9h0M246.2 972.7h0M208.0 946.4h0M210.7 940.1h0M239.0 976.4h0M230.8 951.0h0M205.8 932.2h0M212.7 944.8h0M221.7 916.1h0M214.5 925.5h0M229.5 921.1h0M223.9 958.3h0M234.4 953.7h0M224.6 933.9h0M232.0 931.0h0M218.2 947.3h0M232.5 942.5h0M231.9 954.2h0M238.1 946.6h0M231.8 932.9h0M218.9 916.6h0M224.6 930.2h0M248.5 925.2h0M221.1 937.8h0M226.9 930.9h0M253.5 923.7h0M237.0 953.0h0M237.8 923.7h0M210.3 929.5h0M210.0 923.0h0M230.7 931.9h0M262.9 949.4h0M194.2 945.7h0M196.2 938.3h0M235.5 978.3h0M230.1 951.9h0M208.5 948.5h0M241.4 947.5h0M228.9 954.6h0M217.2 955.8h0M224.1 943.5h0M216.0 949.0h0M230.8 918.8h0M213.2 939.4h0M205.7 940.5h0M212.9 926.4h0M231.8 940.6h0M245.0 939.6h0M214.3 921.1h0M207.6 924.2h0M230.5 942.4h0M244.8 959.6h0M218.8 948.6h0M251.8 930.6h0M211.9 964.6h0M250.4 944.0h0M237.5 939.9h0M195.9 962.4h0M234.7 920.5h0M221.6 943.0h0M222.4 962.8h0M212.7 954.6h0M225.8 932.6h0M214.1 917.9h0M227.8 934.5h0M244.0 936.1h0M249.4 942.0h0M244.8 914.1h0M240.8 919.1h0M233.1 963.7h0M222.0 938.6h0M206.0 930.0h0M243.1 941.9h0M217.8 932.0h0M228.7 928.7h0M201.7 952.8h0M233.2 919.0h0M249.6 936.5h0M223.9 922.3h0M241.2 934.6h0M222.9 940.2h0M228.4 918.1h0M217.2 933.0h0M179.0 914.5h0M231.8 929.5h0M234.0 905.2h0M235.6 950.9h0M255.2 937.5h0M241.5 950.6h0M233.6 955.6h0M214.1 935.9h0M276.3 961.6h0M202.1 940.4h0M218.9 918.9h0M217.0 930.5h0M244.3 947.1h0M231.5 942.8h0M235.0 927.8h0M195.1 914.8h0M216.5 942.8h0M243.7 937.0h0M216.8 931.3h0M203.9 941.7h0M229.3 933.4h0M248.9 950.4h0M257.3 960.6h0M241.9 955.1h0M247.3 949.1h0M249.4 968.3h0M240.9 981.9h0M244.0 968.3h0M246.5 955.4h0M235.0 972.5h0M242.8 973.8h0M237.6 982.4h0M242.6 957.2h0M241.2 979.6h0M242.7 967.6h0M252.3 974.8h0M256.5 946.4h0M253.3 950.5h0M240.2 932.4h0M249.2 974.4h0M236.5 978.4h0M251.1 960.9h0M252.5 983.9h0M243.9 971.5h0M246.9 955.1h0M253.1 963.8h0M252.4 952.7h0M242.1 975.0h0M240.8 971.1h0M233.1 966.5h0M243.8 952.8h0M241.8 949.0h0M246.5 947.6h0M251.0 963.1h0M235.4 974.7h0M240.5 970.4h0M243.8 964.5h0M233.7 986.2h0M244.9 977.6h0M242.5 988.9h0M249.3 960.5h0M251.8 961.5h0M252.0 977.5h0M244.4 951.2h0M248.4 963.3h0M248.1 966.3h0M254.8 955.2h0M231.8 959.8h0M244.5 979.3h0M240.4 974.0h0M247.3 984.6h0M254.8 956.0h0M248.1 966.1h0M247.5 951.9h0M240.9 974.5h0M249.0 981.2h0M248.3 949.0h0M238.5 952.9h0M251.5 984.9h0M242.7 949.8h0M229.6 974.6h0M244.9 943.5h0M250.4 957.6h0M250.0 973.1h0M247.4 967.9h0M246.0 966.9h0M250.9 955.2h0M231.9 968.9h0M240.6 954.1h0M245.8 954.7h0M252.9 964.2h0M254.3 980.4h0M247.6 937.1h0M243.4 953.1h0M260.0 977.7h0M239.6 975.8h0M245.6 956.4h0M262.5 939.6h0M251.5 957.3h0M251.2 970.6h0M246.4 939.3h0M256.0 972.9h0M269.7 946.0h0M249.0 955.0h0M244.7 966.2h0M255.8 972.9h0M261.7 972.4h0M249.5 964.8h0M240.0 945.1h0M249.3 965.3h0M240.3 976.8h0M254.3 945.7h0M244.9 950.0h0M250.7 963.2h0M247.2 947.0h0M253.2 961.8h0M230.5 938.8h0M249.2 965.9h0M248.1 974.7h0M248.9 970.5h0M235.0 962.7h0M257.4 962.3h0M241.4 972.3h0M250.3 971.7h0M242.5 982.7h0M245.0 972.0h0M243.0 941.7h0M233.7 967.2h0M241.5 978.2h0M257.1 973.9h0M237.5 975.3h0M247.6 966.2h0M232.6 976.5h0M255.3 948.3h0M235.6 976.4h0M237.4 968.3h0M245.4 944.2h0M251.0 965.2h0M236.2 947.0h0M245.9 967.4h0M250.9 953.7h0M246.7 934.3h0M240.5 977.6h0M250.2 957.3h0M255.6 980.1h0M265.2 965.2h0M257.0 974.1h0M233.1 963.0h0M257.1 981.5h0M269.6 859.1h0M321.0 859.8h0M312.0 866.0h0M334.6 849.5h0M313.8 872.1h0M311.9 872.8h0M293.5 859.8h0M283.7 880.1h0M312.6 867.4h0M287.6 881.1h0M336.4 873.6h0M320.2 882.6h0M333.3 852.4h0M308.4 870.6h0M299.7 876.9h0M356.2 880.8h0M305.3 856.8h0M334.4 868.1h0M294.6 863.6h0M317.7 844.9h0M326.4 879.4h0M277.9 888.3h0M281.0 862.3h0M296.4 848.1h0M303.1 861.9h0M311.0 847.7h0M295.4 850.7h0M295.6 859.7h0M289.9 872.3h0M290.0 862.0h0M316.9 850.5h0M299.8 857.8h0M288.9 863.7h0M287.2 859.1h0M294.4 863.6h0M278.8 854.1h0M313.6 866.1h0M317.5 844.7h0M284.1 858.9h0M299.3 861.3h0M302.6 883.8h0M325.1 888.1h0M295.4 865.5h0M303.1 868.6h0M289.9 841.3h0M291.0 872.0h0M296.9 874.5h0M372.9 854.4h0M331.4 886.9h0M316.6 862.6h0M315.1 878.5h0M280.3 895.6h0M290.9 884.4h0M324.3 865.5h0M310.2 864.0h0M331.1 866.9h0M310.1 874.5h0M320.5 863.4h0M312.2 860.8h0M320.2 863.4h0M317.1 845.4h0M331.1 853.0h0M299.9 874.7h0M305.6 871.6h0M296.7 874.9h0M309.8 862.5h0M318.8 852.3h0M311.4 846.1h0M272.4 862.2h0M296.5 871.1h0M299.5 876.4h0M303.6 882.9h0M297.6 844.3h0M302.8 868.1h0M327.6 869.9h0M321.4 843.0h0M337.4 871.4h0M278.5 865.1h0M289.7 859.1h0M285.5 885.1h0M329.4 879.4h0M298.7 859.7h0M299.5 886.5h0M315.2 870.5h0M335.4 865.0h0M339.9 856.9h0M297.6 864.9h0M327.3 877.3h0M306.3 863.8h0M340.9 851.0h0M360.4 870.7h0M320.7 877.0h0M321.9 876.3h0M260.2 890.2h0M321.0 849.5h0M276.9 860.0h0M298.5 864.8h0M326.9 861.8h0M279.2 849.4h0M355.8 868.1h0M299.5 879.0h0M325.2 851.2h0M299.5 890.1h0M323.5 867.9h0M298.7 850.3h0M308.9 846.1h0M264.8 864.6h0M328.7 864.7h0M323.4 865.2h0M303.2 866.8h0M304.0 865.0h0M288.8 847.8h0M295.6 858.1h0M314.6 844.0h0M315.8 857.2h0M324.3 867.9h0M332.5 866.8h0M329.3 838.6h0M379.2 783.4h0M390.5 783.4h0M377.4 793.6h0M381.8 793.6h0M408.5 795.2h0M419.8 813.8h0M360.1 818.2h0M366.6 822.9h0M330.8 829.0h0M344.9 831.6h0M384.0 826.2h0M284.1 840.7h0M292.8 840.7h0M303.6 842.5h0M314.5 844.7h0M259.8 852.3h0M265.7 847.9h0M244.0 862.0h0M260.2 862.0h0M274.3 853.3h0M251.6 881.6h0M221.2 885.5h0M212.5 889.8h0M225.5 895.7h0M195.6 901.1h0M179.5 909.8h0M174.5 920.6h0M182.1 920.2h0M174.5 932.6h0M176.7 935.8h0M153.4 949.9h0M174.5 952.1h0M181.0 951.0h0M169.1 963.6h0M150.6 968.4h0M157.1 967.3h0M137.6 985.7h0M186.4 1003.1h0M174.5 1006.4h0M344.9 953.8h0M326.4 927.1h0M322.1 927.1h0M329.7 934.7h0M333.0 933.6h0M337.3 913.7h0M340.5 903.3h0M341.6 908.7h0M325.4 918.5h0M286.3 972.7h0M295.0 981.4h0M281.9 959.7h0M285.2 958.6h0M372.0 867.4h0M368.8 859.8h0M375.3 846.8h0M343.8 885.9h0M334.0 890.2h0M271.1 979.2h0M260.2 992.3h0M242.9 990.1h0M210.3 994.4h0M223.3 993.3h0M212.5 985.7h0" stroke="#808080" stroke-width="8.4" stroke-linecap="round" fill="none"/>
<line x1="105.2" y1="1068.7" x2="421.4" y2="765.6" stroke="#000" stroke-width="1.7"/>
<line x1="137.6" y1="1001" x2="419.2" y2="811.3" stroke="#0000ff" stroke-width="8.3"/>
<g fill="#1212bc">
<text x="106.8" y="762.6" font-size="24.5">slope = 0.71</text>
<text x="106.8" y="792.7" font-size="24.5">CCC = 0.81</text>
</g>
<text x="428.3" y="1063.5" font-size="20.5" text-anchor="end">same as fig. 1e</text>
<text x="260.5" y="721.9" font-size="29" text-anchor="middle">MACS isolated CD11b+ cells</text>
<text x="275.3" y="1140.4" font-size="29" text-anchor="middle">FC (log<tspan font-size="19" dy="6">2</tspan><tspan dy="-6">) CON</tspan></text>
<text transform="translate(49.3 907.5) rotate(-90)" font-size="29" text-anchor="middle">FC (log<tspan font-size="19" dy="6">2</tspan><tspan dy="-6">) MIA</tspan></text>
<g stroke="#000" stroke-width="1.8" fill="none">
<path d="M636.6 742.8V1076.5H973.5"/>
<path d="M630 828.2H636.6M630 921.6H636.6M630 1015H636.6M700.8 1076.5V1083M798.5 1076.5V1083M896.2 1076.5V1083"/>
</g>
<text x="628.6" y="836.1" font-size="25.5" text-anchor="end">20</text>
<text x="628.6" y="929.5" font-size="25.5" text-anchor="end">0</text>
<text x="628.6" y="1022.9" font-size="25.5" text-anchor="end">−20</text>
<text x="702.8" y="1105.8" font-size="25.5" text-anchor="middle">−20</text>
<text x="798.5" y="1105.8" font-size="25.5" text-anchor="middle">0</text>
<text x="896.2" y="1105.8" font-size="25.5" text-anchor="middle">20</text>
<path d="M796.1 912.3h0M824.3 890.9h0M804.1 931.7h0M813.9 894.9h0M807.9 916.8h0M789.3 899.4h0M801.9 926.3h0M806.7 928.0h0M807.7 900.6h0M837.8 894.5h0M804.3 889.6h0M800.5 925.7h0M810.3 894.4h0M775.6 950.1h0M810.4 911.1h0M842.5 872.2h0M775.2 946.4h0M798.3 905.9h0M828.4 896.8h0M828.1 868.2h0M821.8 881.2h0M812.2 924.2h0M820.5 867.2h0M830.8 880.5h0M808.6 916.9h0M807.6 902.6h0M793.3 918.2h0M797.9 904.4h0M824.2 879.3h0M781.8 914.2h0M835.6 897.4h0M812.0 898.7h0M818.4 904.8h0M809.5 925.9h0M825.8 900.4h0M813.4 915.5h0M802.8 905.8h0M785.2 931.5h0M806.3 902.8h0M802.9 912.1h0M820.9 892.3h0M807.1 900.5h0M812.5 912.9h0M801.0 914.8h0M799.8 916.1h0M800.3 920.4h0M826.0 903.0h0M783.2 925.4h0M780.6 923.1h0M799.5 888.8h0M829.2 883.6h0M811.4 899.4h0M812.6 916.8h0M841.7 875.5h0M804.4 892.4h0M785.3 900.0h0M807.1 900.0h0M812.4 879.2h0M790.2 899.4h0M805.8 878.8h0M796.9 905.6h0M813.8 908.4h0M811.1 900.2h0M760.2 933.4h0M830.6 892.1h0M816.7 897.8h0M819.8 905.9h0M813.8 907.9h0M813.0 920.6h0M820.3 878.2h0M811.5 911.5h0M819.8 893.2h0M776.5 928.1h0M840.1 879.9h0M817.6 911.7h0M815.5 907.1h0M798.0 929.7h0M791.9 919.4h0M817.5 905.6h0M828.8 891.5h0M791.2 914.6h0M800.2 926.1h0M819.1 920.2h0M838.6 882.3h0M803.3 897.5h0M816.9 884.5h0M778.3 917.5h0M799.6 919.7h0M822.6 897.5h0M787.3 923.9h0M791.5 914.3h0M794.5 907.4h0M796.2 904.4h0M822.8 903.4h0M806.2 887.9h0M812.3 928.4h0M817.3 902.3h0M808.0 913.9h0M808.5 906.7h0M793.2 924.1h0M809.2 890.2h0M806.4 918.6h0M820.9 884.6h0M792.1 937.0h0M824.6 891.6h0M785.6 922.5h0M806.9 894.4h0M797.1 932.8h0M807.2 937.3h0M806.3 885.0h0M787.3 938.7h0M823.2 896.4h0M841.2 878.0h0M808.5 887.1h0M777.5 925.2h0M808.8 889.5h0M796.2 899.4h0M806.1 901.4h0M808.1 909.4h0M814.7 881.9h0M827.0 875.0h0M810.2 900.1h0M842.0 899.6h0M803.6 918.5h0M841.8 868.8h0M795.5 924.5h0M783.7 916.1h0M819.6 894.1h0M820.5 889.5h0M776.8 923.4h0M799.1 890.1h0M828.3 916.3h0M851.3 872.6h0M793.2 900.6h0M785.8 927.4h0M793.0 943.7h0M800.8 905.6h0M824.7 908.6h0M804.9 896.4h0M799.7 900.5h0M797.7 920.8h0M815.0 915.6h0M804.7 902.1h0M850.0 871.8h0M808.2 909.9h0M794.4 926.9h0M803.8 916.8h0M810.6 917.1h0M768.2 931.7h0M799.0 898.8h0M816.0 910.4h0M818.4 914.0h0M786.2 916.0h0M794.3 901.2h0M808.0 898.6h0M812.6 886.1h0M806.6 896.4h0M786.1 925.5h0M820.1 898.3h0M837.2 889.3h0M804.1 910.9h0M810.9 883.2h0M831.9 899.1h0M806.4 903.9h0M798.9 909.6h0M826.7 889.8h0M821.4 894.1h0M813.4 911.8h0M808.5 911.3h0M806.3 897.4h0M820.0 885.4h0M819.7 913.5h0M790.2 923.6h0M810.7 927.8h0M811.5 904.1h0M814.0 899.7h0M808.6 924.2h0M810.4 884.3h0M807.7 925.2h0M815.4 882.6h0M846.3 893.3h0M816.4 888.5h0M822.8 918.7h0M820.8 901.3h0M783.3 947.3h0M829.0 882.7h0M799.7 925.5h0M793.4 923.1h0M799.2 911.6h0M798.6 929.0h0M810.6 912.4h0M800.3 910.5h0M811.9 916.1h0M822.0 888.3h0M824.9 915.4h0M782.9 902.4h0M795.6 903.2h0M802.9 931.6h0M827.5 899.6h0M791.0 927.5h0M795.7 910.7h0M826.9 879.1h0M793.9 905.4h0M800.5 897.9h0M821.6 909.5h0M779.1 931.6h0M810.2 907.0h0M817.4 889.8h0M809.9 907.1h0M827.7 912.9h0M795.3 925.4h0M789.9 889.7h0M801.1 913.0h0M798.0 899.7h0M785.6 928.6h0M798.2 919.8h0M813.5 901.4h0M797.6 919.6h0M808.7 894.4h0M833.2 889.5h0M823.1 918.2h0M801.7 900.7h0M812.3 895.5h0M795.1 924.6h0M799.4 916.9h0M784.3 918.5h0M790.5 917.9h0M839.8 890.6h0M785.1 909.6h0M788.9 889.7h0M800.9 913.1h0M806.6 921.8h0M794.6 904.7h0M793.6 901.1h0M817.9 909.7h0M812.1 923.5h0M822.0 912.1h0M807.5 914.1h0M809.5 920.5h0M806.7 914.5h0M836.1 886.9h0M799.5 937.6h0M802.4 908.1h0M808.3 888.2h0M829.4 915.4h0M793.6 924.5h0M793.5 927.6h0M811.6 915.1h0M824.8 891.4h0M826.0 905.7h0M800.9 903.7h0M804.4 916.3h0M811.1 919.5h0M802.2 908.1h0M785.4 928.2h0M776.5 918.4h0M805.3 908.8h0M839.3 884.5h0M798.2 891.6h0M779.3 932.4h0M788.3 922.0h0M796.5 899.3h0M796.1 927.3h0M811.8 906.4h0M801.7 925.0h0M782.3 906.0h0M793.3 934.2h0M821.8 911.1h0M820.6 912.6h0M801.4 890.1h0M810.8 891.5h0M810.6 915.9h0M831.3 897.1h0M776.3 906.4h0M823.5 902.7h0M801.3 914.3h0M805.3 920.8h0M780.5 900.1h0M821.5 905.7h0M820.8 916.1h0M823.5 891.5h0M792.3 919.2h0M813.5 907.6h0M798.6 927.2h0M828.9 914.2h0M836.1 894.6h0M781.1 907.8h0M836.4 904.5h0M784.2 912.9h0M815.4 869.9h0M801.7 895.7h0M814.4 897.0h0M782.8 913.5h0M824.3 875.2h0M815.9 918.6h0M797.4 909.6h0M830.0 900.5h0M810.7 933.3h0M797.5 903.7h0M808.1 918.3h0M794.5 916.2h0M833.8 901.1h0M827.0 875.6h0M789.8 916.0h0M834.6 887.0h0M831.4 898.2h0M808.0 917.4h0M817.3 896.7h0M843.6 883.4h0M806.0 923.5h0M796.2 910.7h0M791.2 918.5h0M833.5 869.8h0M818.3 886.0h0M804.9 926.9h0M805.9 908.0h0M825.1 903.9h0M814.4 920.5h0M825.8 889.3h0M811.8 907.8h0M825.3 885.7h0M817.2 904.8h0M807.9 898.4h0M801.3 916.1h0M812.7 899.7h0M814.5 887.0h0M773.4 915.7h0M820.5 900.8h0M842.7 902.6h0M834.3 904.3h0M807.4 891.0h0M794.6 895.7h0M787.5 914.6h0M785.6 907.5h0M806.6 913.3h0M797.3 924.4h0M802.4 894.5h0M796.9 906.7h0M801.3 905.5h0M824.0 883.4h0M812.8 902.6h0M831.6 907.4h0M776.1 920.8h0M816.6 895.0h0M802.4 921.9h0M837.3 885.9h0M781.4 919.6h0M802.6 920.6h0M829.8 901.7h0M838.2 873.1h0M781.9 919.2h0M800.1 901.2h0M792.8 909.2h0M831.9 880.0h0M842.2 877.0h0M827.6 914.2h0M825.1 892.4h0M805.2 917.3h0M782.1 908.0h0M821.7 900.4h0M801.7 907.8h0M816.5 887.4h0M814.0 916.1h0M838.1 894.2h0M799.4 897.0h0M802.1 895.4h0M836.2 902.9h0M812.6 901.1h0M821.8 875.1h0M806.8 918.5h0M796.1 916.9h0M823.1 891.0h0M820.2 899.9h0M805.0 916.4h0M807.6 922.5h0M811.8 908.1h0M804.7 907.1h0M781.4 907.4h0M780.1 899.2h0M808.3 887.6h0M824.9 888.3h0M839.7 892.1h0M799.2 917.5h0M785.8 912.7h0M818.9 898.5h0M802.9 908.0h0M811.9 885.6h0M829.1 899.6h0M808.0 916.2h0M796.7 896.7h0M781.2 923.8h0M779.0 920.4h0M817.3 894.0h0M846.4 884.4h0M774.1 919.7h0M789.6 928.9h0M797.5 909.1h0M814.9 891.8h0M777.0 928.7h0M816.0 914.2h0M824.7 883.8h0M782.8 947.2h0M788.2 920.0h0M820.9 899.5h0M814.0 879.8h0M799.6 922.1h0M821.8 895.3h0M822.9 894.5h0M800.2 939.8h0M807.9 909.6h0M799.6 914.9h0M808.6 916.5h0M812.2 904.8h0M789.4 920.1h0M777.1 930.1h0M783.3 922.1h0M780.9 917.4h0M796.9 901.3h0M823.5 896.0h0M797.6 911.7h0M797.2 917.0h0M803.2 917.3h0M822.4 899.9h0M813.0 916.6h0M807.0 904.9h0M791.1 909.3h0M809.9 910.6h0M805.1 915.8h0M831.0 897.6h0M817.4 915.7h0M833.2 898.0h0M813.2 899.4h0M822.9 915.4h0M771.0 919.5h0M799.2 904.0h0M793.4 919.7h0M826.8 897.4h0M806.8 895.7h0M815.9 903.9h0M792.1 895.2h0M828.8 889.1h0M774.4 931.8h0M824.0 903.1h0M794.3 904.7h0M788.9 917.7h0M793.2 913.6h0M795.3 895.7h0M817.6 909.3h0M836.3 905.1h0M810.6 930.8h0M800.8 922.7h0M825.0 895.4h0M826.8 894.1h0M788.6 918.0h0M789.3 909.3h0M816.9 908.1h0M794.5 902.4h0M821.1 901.6h0M802.3 925.0h0M792.2 911.1h0M819.5 886.5h0M838.3 891.6h0M804.2 891.2h0M794.9 913.0h0M830.8 895.6h0M830.6 884.7h0M803.4 907.9h0M803.7 910.8h0M820.1 902.8h0M794.9 895.8h0M787.9 931.6h0M815.4 894.2h0M820.2 895.6h0M778.7 930.0h0M845.6 892.9h0M776.7 908.4h0M778.3 913.6h0M793.6 920.3h0M799.0 899.2h0M805.0 907.7h0M775.4 925.5h0M809.2 906.3h0M823.8 912.3h0M800.1 921.5h0M775.0 944.6h0M793.9 928.7h0M809.4 932.1h0M819.5 898.6h0M795.4 910.3h0M810.9 898.4h0M795.5 895.5h0M805.1 911.9h0M818.1 891.9h0M827.4 891.0h0M832.9 894.0h0M806.5 905.9h0M793.7 932.3h0M784.8 942.9h0M805.9 933.6h0M800.2 911.3h0M783.8 920.7h0M783.9 929.5h0M803.7 915.6h0M800.6 916.1h0M791.7 910.5h0M837.6 885.5h0M821.2 894.8h0M783.6 924.2h0M821.2 895.6h0M801.7 907.8h0M789.3 915.0h0M798.9 918.6h0M834.8 855.7h0M808.7 914.8h0M792.0 921.1h0M801.6 908.8h0M817.7 897.8h0M815.4 914.4h0M802.3 911.1h0M797.5 928.8h0M796.5 919.2h0M780.8 924.6h0M801.0 902.7h0M813.8 901.3h0M816.1 905.2h0M790.6 893.9h0M827.4 889.7h0M800.4 889.2h0M820.5 905.0h0M787.9 921.9h0M789.8 902.1h0M805.1 920.7h0M831.0 900.7h0M798.0 902.7h0M793.3 898.8h0M797.3 905.2h0M827.4 882.2h0M801.5 919.3h0M792.2 916.2h0M804.5 897.8h0M808.1 911.2h0M839.1 898.9h0M817.4 882.6h0M819.6 910.9h0M813.7 918.8h0M810.8 909.9h0M821.2 879.4h0M822.6 909.9h0M817.1 897.2h0M757.6 928.4h0M786.7 920.7h0M806.1 910.9h0M822.5 903.5h0M827.7 908.6h0M799.6 895.7h0M788.5 942.3h0M807.8 904.7h0M787.9 912.0h0M777.0 943.1h0M794.0 922.2h0M793.5 906.3h0M808.7 904.0h0M810.6 887.7h0M802.0 896.9h0M796.8 896.9h0M808.2 925.1h0M804.4 905.6h0M788.8 923.2h0M819.2 898.4h0M818.3 919.4h0M824.2 893.3h0M807.4 890.0h0M794.7 905.9h0M810.3 913.5h0M807.3 908.4h0M808.6 907.3h0M762.0 938.4h0M797.0 925.7h0M841.8 883.4h0M818.3 915.6h0M824.5 880.5h0M786.6 901.2h0M780.7 926.4h0M798.7 906.9h0M796.5 906.3h0M802.7 926.2h0M822.1 884.9h0M819.9 875.0h0M789.9 909.3h0M839.5 879.4h0M827.0 898.6h0M793.7 928.5h0M816.1 882.9h0M898.9 760.7h0M868.2 791.4h0M893.6 789.8h0M864.5 806.2h0M811.7 810.3h0M728.9 847.1h0M772.0 845.9h0M782.6 840.6h0M794.5 847.1h0M801.0 843.9h0M835.9 853.7h0M817.0 866.4h0M706.4 908.6h0M709.7 912.7h0M884.6 916.4h0M877.2 927.8h0M839.5 929.9h0M853.9 882.8h0M841.6 906.5h0M651.9 979.1h0M753.9 975.0h0M881.7 981.5h0M865.4 996.7h0M868.6 994.6h0M777.3 1010.2h0M788.3 1010.2h0M782.2 1019.2h0M798.6 1002.0h0M807.6 1000.8h0M816.6 1002.8h0" stroke="#808080" stroke-width="8.2" stroke-linecap="round" fill="none"/>
<line x1="642.9" y1="1070" x2="954.2" y2="772.2" stroke="#000" stroke-width="1.7"/>
<line x1="653.1" y1="1036.4" x2="897.7" y2="843" stroke="#0000ff" stroke-width="8.3"/>
<g fill="#1212bc">
<text x="643.7" y="762" font-size="24.5">slope = 0.83</text>
<text x="643.7" y="792.9" font-size="24.5">CCC = 0.75</text>
</g>
<text x="557" y="724.3" font-size="29">FACS isolated CD45<tspan font-size="19" dy="-10">low</tspan><tspan dy="10">; CD11b+ cells</tspan></text>
<text x="807.4" y="1136.8" font-size="29" text-anchor="middle">FC (log<tspan font-size="19" dy="6">2</tspan><tspan dy="-6">) CON</tspan></text>
<text transform="translate(577 908.3) rotate(-90)" font-size="29" text-anchor="middle">FC (log<tspan font-size="19" dy="6">2</tspan><tspan dy="-6">) MIA</tspan></text>
<g font-weight="bold" font-size="31">
<text x="0" y="23.6" font-size="31">a</text>
<text x="631" y="23.6" font-size="31">b</text>
<text x="1128.5" y="23.6" font-size="31">c</text>
<text x="1636" y="23.6" font-size="31">d</text>
<text x="0" y="690" font-size="31">e</text>
</g>
</svg>
</body></html>
